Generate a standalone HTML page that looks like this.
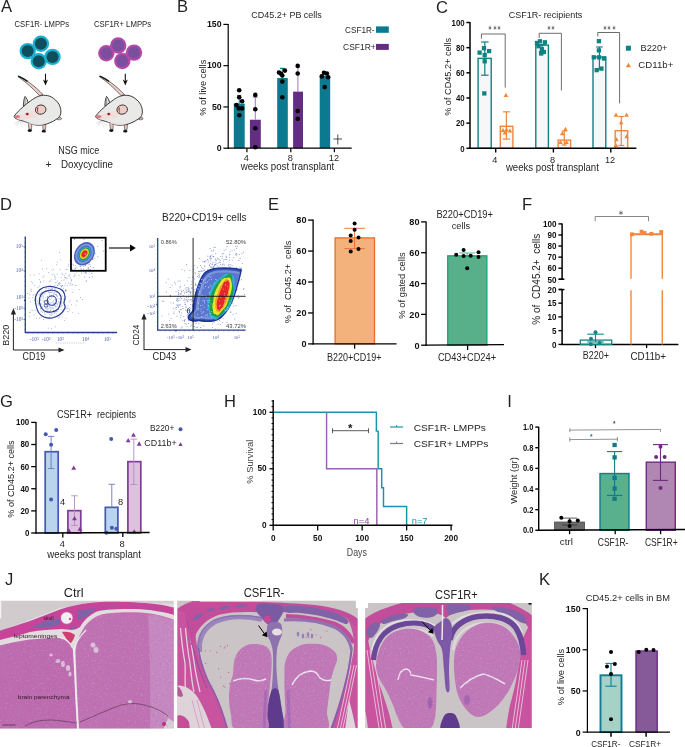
<!DOCTYPE html><html><head><meta charset="utf-8"><style>html,body{margin:0;padding:0;background:#fff;overflow:hidden}svg{display:block}</style></head><body><svg width="685" height="747" viewBox="0 0 685 747" font-family="'Liberation Sans', Arial, sans-serif"><rect width="685" height="747" fill="#fff"/><text x="0.9" y="12.0" font-size="16.6" text-anchor="start" fill="#231f20">A</text>
<text x="14.6" y="27.3" font-size="9.37" text-anchor="start" fill="#262626" textLength="54.4" lengthAdjust="spacingAndGlyphs">CSF1R- LMPPs</text>
<text x="93.9" y="27.3" font-size="9.37" text-anchor="start" fill="#262626" textLength="57.3" lengthAdjust="spacingAndGlyphs">CSF1R+ LMPPs</text>
<circle cx="27.70" cy="51.10" r="8.20" fill="#1cb0cf" stroke="none" stroke-width="1"/>
<circle cx="52.50" cy="56.90" r="8.20" fill="#1cb0cf" stroke="none" stroke-width="1"/>
<circle cx="40.90" cy="43.80" r="8.20" fill="#1cb0cf" stroke="none" stroke-width="1"/>
<circle cx="38.70" cy="61.30" r="8.20" fill="#1cb0cf" stroke="none" stroke-width="1"/>
<circle cx="27.70" cy="51.10" r="6.00" fill="#0d4f5c" stroke="none" stroke-width="1"/>
<circle cx="52.50" cy="56.90" r="6.00" fill="#0d4f5c" stroke="none" stroke-width="1"/>
<circle cx="40.90" cy="43.80" r="6.00" fill="#0d4f5c" stroke="none" stroke-width="1"/>
<circle cx="38.70" cy="61.30" r="6.00" fill="#0d4f5c" stroke="none" stroke-width="1"/>
<circle cx="106.30" cy="53.30" r="8.20" fill="#b24aa8" stroke="none" stroke-width="1"/>
<circle cx="134.00" cy="52.60" r="8.20" fill="#b24aa8" stroke="none" stroke-width="1"/>
<circle cx="118.20" cy="45.50" r="8.20" fill="#b24aa8" stroke="none" stroke-width="1"/>
<circle cx="122.30" cy="61.00" r="8.20" fill="#b24aa8" stroke="none" stroke-width="1"/>
<circle cx="106.30" cy="53.30" r="6.00" fill="#7b4e9e" stroke="none" stroke-width="1"/>
<circle cx="134.00" cy="52.60" r="6.00" fill="#7b4e9e" stroke="none" stroke-width="1"/>
<circle cx="118.20" cy="45.50" r="6.00" fill="#7b4e9e" stroke="none" stroke-width="1"/>
<circle cx="122.30" cy="61.00" r="6.00" fill="#7b4e9e" stroke="none" stroke-width="1"/>
<line x1="45.50" y1="73.70" x2="45.50" y2="83.00" stroke="#111" stroke-width="1.1"/>
<path d="M42.9 79.6 L 45.5 85.6 L 48.1 79.6 L 45.5 81.2 Z" fill="#111" stroke="none" stroke-width="1"/>
<line x1="125.30" y1="73.70" x2="125.30" y2="83.00" stroke="#111" stroke-width="1.1"/>
<path d="M122.7 79.6 L 125.3 85.6 L 127.9 79.6 L 125.3 81.2 Z" fill="#111" stroke="none" stroke-width="1"/>
<g transform="translate(0 0)">
<path d="M18.3 76.0 C 26 79.5, 35 86, 42.9 94.6 L 39.6 95.6 C 33 88.5, 26 82, 18.0 76.6 Z" fill="#f0cdc8" stroke="#1a1a1a" stroke-width="0.6"/>
<path d="M18.2 76.1 C 21.5 77.5, 24.5 79.2, 27.5 81.3" fill="none" stroke="#1a1a1a" stroke-width="1.5"/>
<line x1="19.50" y1="120.50" x2="14.10" y2="123.50" stroke="#c8c8c8" stroke-width="0.5"/>
<line x1="19.50" y1="120.50" x2="15.50" y2="125.50" stroke="#c8c8c8" stroke-width="0.5"/>
<line x1="19.50" y1="120.50" x2="17.40" y2="126.50" stroke="#c8c8c8" stroke-width="0.5"/>
<line x1="19.50" y1="120.50" x2="22.30" y2="126.80" stroke="#c8c8c8" stroke-width="0.5"/>
<line x1="19.50" y1="120.50" x2="26.40" y2="126.30" stroke="#c8c8c8" stroke-width="0.5"/>
<path d="M28.2 122.5 L 29.0 129.3 L 31.6 129.3 L 31.8 122.8 Z" fill="#ecc4c0" stroke="#1a1a1a" stroke-width="0.5"/>
<path d="M42.8 123.5 L 42.9 129.5 L 45.6 129.5 L 46.0 123.3 Z" fill="#ecc4c0" stroke="#1a1a1a" stroke-width="0.5"/>
<ellipse cx="29.8" cy="130.6" rx="2.2" ry="1.3" fill="#111"/>
<ellipse cx="43.8" cy="131.2" rx="2.2" ry="1.3" fill="#111"/>
<path d="M57.8 117.2 C 60 116.8, 61.6 117.5, 61.5 119 C 60.2 120, 58.7 120, 57.3 119.4 Z" fill="#e6b6b0" stroke="#1a1a1a" stroke-width="0.5"/>
<path d="M23.3 105.6 C 23.6 101, 24.2 98, 25.1 96.4 C 26.6 98, 28 101, 28.6 104.4 Z" fill="#dcdcda" stroke="#1a1a1a" stroke-width="0.8"/>
<path d="M25.2 98.2 C 24.8 100.5, 24.8 102.5, 25.5 104.5" fill="none" stroke="#777" stroke-width="0.7"/>
<path d="M14.1 116.2 C 17 112.5, 20 109.5, 22.3 107.6 C 25 105, 27.5 103, 30.4 101 C 33 99, 35.5 97.5, 37.8 96.5 C 40.5 95.5, 43 95.2, 45.2 95.3 C 48.5 95.5, 51 96.5, 53.3 98.2 C 56.5 100.5, 59 103.5, 59.9 106.4 C 60.9 109, 61.1 111.5, 60.7 113.7 C 60.2 116, 59 117.6, 57.4 118.6 C 55 120.5, 52 122, 49.2 123.1 C 45.5 124.5, 42 125.2, 38.6 125.2 C 35 125.2, 31.8 124.4, 28.8 123.1 C 25.8 122, 23 121.2, 20.6 120.3 C 18.2 119.6, 16 118.8, 14.9 117.8 C 14.3 117.3, 14.0 116.8, 14.1 116.2 Z" fill="#e9e9e7" stroke="#1a1a1a" stroke-width="0.85"/>
<path d="M21 120.6 C 28 123.6, 38 125, 48 123 C 44 124.8, 40 125.1, 37 125.1 C 30 124.8, 25 122.8, 21 120.6 Z" fill="#e6d5d2" stroke="none" stroke-width="1"/>
<path d="M15.5 117.6 C 20 114.3, 27 112, 35 110.8 C 38 111.5, 38.5 114, 37 116.5 C 31 119, 24 120, 18 119.5 Z" fill="#f1dedb" stroke="none" stroke-width="1"/>
<ellipse cx="40.7" cy="109.6" rx="5.3" ry="4.6" fill="#ecccc4" stroke="#1a1a1a" stroke-width="0.8" transform="rotate(-10 40.7 109.6)"/>
<path d="M37.2 107.6 C 36.5 109.5, 37 111.8, 38.6 113.2 C 37.8 111.2, 37.8 109.3, 38.6 107.8 Z" fill="#b8303e" stroke="none" stroke-width="1"/>
<ellipse cx="27.2" cy="114.1" rx="2.0" ry="1.5" fill="#e8a0a8"/>
<ellipse cx="27.3" cy="114.1" rx="1.3" ry="1.05" fill="#861424"/>
<ellipse cx="17.3" cy="116.6" rx="2.8" ry="1.7" fill="#e07b89"/>
</g>
<g transform="translate(81.5 0)">
<path d="M18.3 76.0 C 26 79.5, 35 86, 42.9 94.6 L 39.6 95.6 C 33 88.5, 26 82, 18.0 76.6 Z" fill="#f0cdc8" stroke="#1a1a1a" stroke-width="0.6"/>
<path d="M18.2 76.1 C 21.5 77.5, 24.5 79.2, 27.5 81.3" fill="none" stroke="#1a1a1a" stroke-width="1.5"/>
<line x1="19.50" y1="120.50" x2="14.10" y2="123.50" stroke="#c8c8c8" stroke-width="0.5"/>
<line x1="19.50" y1="120.50" x2="15.50" y2="125.50" stroke="#c8c8c8" stroke-width="0.5"/>
<line x1="19.50" y1="120.50" x2="17.40" y2="126.50" stroke="#c8c8c8" stroke-width="0.5"/>
<line x1="19.50" y1="120.50" x2="22.30" y2="126.80" stroke="#c8c8c8" stroke-width="0.5"/>
<line x1="19.50" y1="120.50" x2="26.40" y2="126.30" stroke="#c8c8c8" stroke-width="0.5"/>
<path d="M28.2 122.5 L 29.0 129.3 L 31.6 129.3 L 31.8 122.8 Z" fill="#ecc4c0" stroke="#1a1a1a" stroke-width="0.5"/>
<path d="M42.8 123.5 L 42.9 129.5 L 45.6 129.5 L 46.0 123.3 Z" fill="#ecc4c0" stroke="#1a1a1a" stroke-width="0.5"/>
<ellipse cx="29.8" cy="130.6" rx="2.2" ry="1.3" fill="#111"/>
<ellipse cx="43.8" cy="131.2" rx="2.2" ry="1.3" fill="#111"/>
<path d="M57.8 117.2 C 60 116.8, 61.6 117.5, 61.5 119 C 60.2 120, 58.7 120, 57.3 119.4 Z" fill="#e6b6b0" stroke="#1a1a1a" stroke-width="0.5"/>
<path d="M23.3 105.6 C 23.6 101, 24.2 98, 25.1 96.4 C 26.6 98, 28 101, 28.6 104.4 Z" fill="#dcdcda" stroke="#1a1a1a" stroke-width="0.8"/>
<path d="M25.2 98.2 C 24.8 100.5, 24.8 102.5, 25.5 104.5" fill="none" stroke="#777" stroke-width="0.7"/>
<path d="M14.1 116.2 C 17 112.5, 20 109.5, 22.3 107.6 C 25 105, 27.5 103, 30.4 101 C 33 99, 35.5 97.5, 37.8 96.5 C 40.5 95.5, 43 95.2, 45.2 95.3 C 48.5 95.5, 51 96.5, 53.3 98.2 C 56.5 100.5, 59 103.5, 59.9 106.4 C 60.9 109, 61.1 111.5, 60.7 113.7 C 60.2 116, 59 117.6, 57.4 118.6 C 55 120.5, 52 122, 49.2 123.1 C 45.5 124.5, 42 125.2, 38.6 125.2 C 35 125.2, 31.8 124.4, 28.8 123.1 C 25.8 122, 23 121.2, 20.6 120.3 C 18.2 119.6, 16 118.8, 14.9 117.8 C 14.3 117.3, 14.0 116.8, 14.1 116.2 Z" fill="#e9e9e7" stroke="#1a1a1a" stroke-width="0.85"/>
<path d="M21 120.6 C 28 123.6, 38 125, 48 123 C 44 124.8, 40 125.1, 37 125.1 C 30 124.8, 25 122.8, 21 120.6 Z" fill="#e6d5d2" stroke="none" stroke-width="1"/>
<path d="M15.5 117.6 C 20 114.3, 27 112, 35 110.8 C 38 111.5, 38.5 114, 37 116.5 C 31 119, 24 120, 18 119.5 Z" fill="#f1dedb" stroke="none" stroke-width="1"/>
<ellipse cx="40.7" cy="109.6" rx="5.3" ry="4.6" fill="#ecccc4" stroke="#1a1a1a" stroke-width="0.8" transform="rotate(-10 40.7 109.6)"/>
<path d="M37.2 107.6 C 36.5 109.5, 37 111.8, 38.6 113.2 C 37.8 111.2, 37.8 109.3, 38.6 107.8 Z" fill="#b8303e" stroke="none" stroke-width="1"/>
<ellipse cx="27.2" cy="114.1" rx="2.0" ry="1.5" fill="#e8a0a8"/>
<ellipse cx="27.3" cy="114.1" rx="1.3" ry="1.05" fill="#861424"/>
<ellipse cx="17.3" cy="116.6" rx="2.8" ry="1.7" fill="#e07b89"/>
</g>
<text x="58.3" y="153.5" font-size="10.68" text-anchor="start" fill="#262626" textLength="41" lengthAdjust="spacingAndGlyphs">NSG mice</text>
<text x="45.6" y="168.3" font-size="10.5" text-anchor="start" fill="#262626">+</text>
<text x="61" y="168" font-size="10.68" text-anchor="start" fill="#262626" textLength="52" lengthAdjust="spacingAndGlyphs">Doxycycline</text>
<text x="176.9" y="12.0" font-size="16.6" text-anchor="start" fill="#231f20">B</text>
<text x="251.3" y="17.5" font-size="9.59" text-anchor="start" fill="#262626" textLength="70.5" lengthAdjust="spacingAndGlyphs">CD45.2+ PB cells</text>
<rect x="233.80" y="103.63" width="10.90" height="44.57" fill="#0b7a8f" stroke="none" stroke-width="1"/>
<rect x="249.90" y="119.73" width="10.90" height="28.47" fill="#642d84" stroke="none" stroke-width="1"/>
<rect x="277.20" y="78.05" width="10.60" height="70.15" fill="#0b7a8f" stroke="none" stroke-width="1"/>
<rect x="293.10" y="91.66" width="9.90" height="56.54" fill="#642d84" stroke="none" stroke-width="1"/>
<rect x="319.70" y="75.57" width="10.50" height="72.63" fill="#0b7a8f" stroke="none" stroke-width="1"/>
<line x1="239.20" y1="95.40" x2="239.20" y2="104.20" stroke="#0b7a8f" stroke-width="1"/>
<line x1="237.20" y1="95.40" x2="241.20" y2="95.40" stroke="#0b7a8f" stroke-width="1"/>
<line x1="255.30" y1="97.20" x2="255.30" y2="119.70" stroke="#9d7ab8" stroke-width="1"/>
<line x1="252.80" y1="97.20" x2="257.90" y2="97.20" stroke="#9d7ab8" stroke-width="1"/>
<line x1="282.30" y1="68.40" x2="282.30" y2="78.20" stroke="#0b7a8f" stroke-width="1"/>
<line x1="280.00" y1="68.40" x2="284.60" y2="68.40" stroke="#0b7a8f" stroke-width="1.2"/>
<line x1="297.90" y1="65.90" x2="297.90" y2="92.00" stroke="#9d7ab8" stroke-width="1"/>
<circle cx="239.20" cy="90.20" r="2.30" fill="#000" stroke="none" stroke-width="1"/>
<circle cx="239.20" cy="97.20" r="2.30" fill="#000" stroke="none" stroke-width="1"/>
<circle cx="242.10" cy="101.30" r="2.30" fill="#000" stroke="none" stroke-width="1"/>
<circle cx="236.40" cy="105.10" r="2.30" fill="#000" stroke="none" stroke-width="1"/>
<circle cx="238.90" cy="108.40" r="2.30" fill="#000" stroke="none" stroke-width="1"/>
<circle cx="242.10" cy="108.40" r="2.30" fill="#000" stroke="none" stroke-width="1"/>
<circle cx="239.30" cy="115.30" r="2.30" fill="#000" stroke="none" stroke-width="1"/>
<circle cx="255.30" cy="94.90" r="2.30" fill="#000" stroke="none" stroke-width="1"/>
<circle cx="255.30" cy="109.20" r="2.30" fill="#000" stroke="none" stroke-width="1"/>
<circle cx="255.30" cy="128.20" r="2.30" fill="#000" stroke="none" stroke-width="1"/>
<circle cx="255.30" cy="147.20" r="2.30" fill="#000" stroke="none" stroke-width="1"/>
<circle cx="279.00" cy="72.50" r="2.30" fill="#000" stroke="none" stroke-width="1"/>
<circle cx="281.00" cy="73.80" r="2.30" fill="#000" stroke="none" stroke-width="1"/>
<circle cx="284.90" cy="70.60" r="2.30" fill="#000" stroke="none" stroke-width="1"/>
<circle cx="282.30" cy="75.50" r="2.30" fill="#000" stroke="none" stroke-width="1"/>
<circle cx="282.30" cy="81.60" r="2.30" fill="#000" stroke="none" stroke-width="1"/>
<circle cx="282.30" cy="97.30" r="2.30" fill="#000" stroke="none" stroke-width="1"/>
<circle cx="297.70" cy="65.90" r="2.30" fill="#000" stroke="none" stroke-width="1"/>
<circle cx="297.70" cy="73.50" r="2.30" fill="#000" stroke="none" stroke-width="1"/>
<circle cx="297.70" cy="111.00" r="2.30" fill="#000" stroke="none" stroke-width="1"/>
<circle cx="297.70" cy="118.70" r="2.30" fill="#000" stroke="none" stroke-width="1"/>
<circle cx="321.80" cy="76.40" r="2.30" fill="#000" stroke="none" stroke-width="1"/>
<circle cx="324.00" cy="72.80" r="2.30" fill="#000" stroke="none" stroke-width="1"/>
<circle cx="326.90" cy="73.50" r="2.30" fill="#000" stroke="none" stroke-width="1"/>
<circle cx="328.10" cy="77.20" r="2.30" fill="#000" stroke="none" stroke-width="1"/>
<circle cx="324.70" cy="87.10" r="2.30" fill="#000" stroke="none" stroke-width="1"/>
<line x1="228.20" y1="23.90" x2="228.20" y2="148.80" stroke="#000" stroke-width="1.2"/>
<line x1="223.40" y1="24.40" x2="228.20" y2="24.40" stroke="#000" stroke-width="1.2"/>
<text x="221.59999999999997" y="27.155999999999977" font-size="9.6" text-anchor="end" fill="#111" font-weight="bold" textLength="14.57" lengthAdjust="spacingAndGlyphs">150</text>
<line x1="223.40" y1="65.67" x2="228.20" y2="65.67" stroke="#000" stroke-width="1.2"/>
<text x="221.59999999999997" y="68.42266666666666" font-size="9.6" text-anchor="end" fill="#111" font-weight="bold" textLength="14.57" lengthAdjust="spacingAndGlyphs">100</text>
<line x1="223.40" y1="106.93" x2="228.20" y2="106.93" stroke="#000" stroke-width="1.2"/>
<text x="221.59999999999997" y="109.68933333333332" font-size="9.6" text-anchor="end" fill="#111" font-weight="bold" textLength="9.71" lengthAdjust="spacingAndGlyphs">50</text>
<line x1="223.40" y1="148.20" x2="228.20" y2="148.20" stroke="#000" stroke-width="1.2"/>
<text x="221.59999999999997" y="150.956" font-size="9.6" text-anchor="end" fill="#111" font-weight="bold" textLength="4.86" lengthAdjust="spacingAndGlyphs">0</text>
<line x1="227.60" y1="148.20" x2="351.70" y2="148.20" stroke="#000" stroke-width="1.3"/>
<line x1="246.90" y1="148.20" x2="246.90" y2="152.30" stroke="#000" stroke-width="1.2"/>
<text x="246.4" y="160.6" font-size="9.2" text-anchor="middle" fill="#262626">4</text>
<line x1="290.80" y1="148.20" x2="290.80" y2="152.30" stroke="#000" stroke-width="1.2"/>
<text x="290.3" y="160.6" font-size="9.2" text-anchor="middle" fill="#262626">8</text>
<line x1="334.40" y1="148.20" x2="334.40" y2="152.30" stroke="#000" stroke-width="1.2"/>
<text x="333.9" y="160.6" font-size="9.2" text-anchor="middle" fill="#262626">12</text>
<text x="287.5" y="170.3" font-size="10.08" text-anchor="middle" fill="#262626" textLength="93.5" lengthAdjust="spacingAndGlyphs">weeks post transplant</text>
<line x1="337.80" y1="134.50" x2="337.80" y2="144.50" stroke="#222" stroke-width="0.8"/>
<line x1="333.50" y1="139.00" x2="342.00" y2="139.00" stroke="#222" stroke-width="0.8"/>
<text x="205.9" y="87.7" font-size="9.77" text-anchor="middle" fill="#262626" textLength="56" lengthAdjust="spacingAndGlyphs" transform="rotate(-90 205.9 87.7)">% of live cells</text>
<text x="345" y="33.2" font-size="9.7" text-anchor="start" fill="#262626" textLength="29.6" lengthAdjust="spacingAndGlyphs">CSF1R-</text>
<rect x="376.00" y="26.40" width="12.80" height="6.40" fill="#0b7a8f" stroke="none" stroke-width="1"/>
<text x="343.1" y="49.7" font-size="9.7" text-anchor="start" fill="#262626" textLength="32.6" lengthAdjust="spacingAndGlyphs">CSF1R+</text>
<rect x="376.00" y="43.90" width="12.80" height="6.00" fill="#642d84" stroke="none" stroke-width="1"/>
<text x="435.9" y="12.5" font-size="16.6" text-anchor="start" fill="#231f20">C</text>
<text x="508.8" y="17.5" font-size="9.92" text-anchor="start" fill="#262626" textLength="73.5" lengthAdjust="spacingAndGlyphs">CSF1R- recipients</text>
<rect x="478.10" y="58.35" width="13.10" height="89.95" fill="#f7f7f7" stroke="#0f8282" stroke-width="1.4"/>
<rect x="535.80" y="45.14" width="12.60" height="103.16" fill="#f7f7f7" stroke="#0f8282" stroke-width="1.4"/>
<rect x="593.00" y="57.10" width="12.80" height="91.20" fill="#f7f7f7" stroke="#0f8282" stroke-width="1.4"/>
<rect x="500.30" y="126.29" width="12.60" height="22.02" fill="#f7f7f7" stroke="#f0863c" stroke-width="1.4"/>
<rect x="558.10" y="140.12" width="12.50" height="8.18" fill="#f7f7f7" stroke="#f0863c" stroke-width="1.4"/>
<rect x="615.20" y="130.69" width="12.50" height="17.61" fill="#f7f7f7" stroke="#f0863c" stroke-width="1.4"/>
<line x1="484.80" y1="42.00" x2="484.80" y2="75.20" stroke="#0f8282" stroke-width="1.2"/>
<line x1="481.05" y1="42.00" x2="488.55" y2="42.00" stroke="#0f8282" stroke-width="1.2"/>
<line x1="481.05" y1="75.20" x2="488.55" y2="75.20" stroke="#0f8282" stroke-width="1.2"/>
<line x1="542.10" y1="44.60" x2="542.10" y2="51.50" stroke="#0f8282" stroke-width="1.2"/>
<line x1="538.85" y1="44.60" x2="545.35" y2="44.60" stroke="#0f8282" stroke-width="1.2"/>
<line x1="538.85" y1="51.50" x2="545.35" y2="51.50" stroke="#0f8282" stroke-width="1.2"/>
<line x1="599.40" y1="47.00" x2="599.40" y2="69.00" stroke="#0f8282" stroke-width="1.2"/>
<line x1="596.15" y1="47.00" x2="602.65" y2="47.00" stroke="#0f8282" stroke-width="1.2"/>
<line x1="596.15" y1="69.00" x2="602.65" y2="69.00" stroke="#0f8282" stroke-width="1.2"/>
<line x1="506.40" y1="111.80" x2="506.40" y2="139.10" stroke="#f0863c" stroke-width="1.2"/>
<line x1="502.90" y1="111.80" x2="509.90" y2="111.80" stroke="#f0863c" stroke-width="1.2"/>
<line x1="502.90" y1="139.10" x2="509.90" y2="139.10" stroke="#f0863c" stroke-width="1.2"/>
<line x1="564.30" y1="131.00" x2="564.30" y2="145.00" stroke="#f0863c" stroke-width="1.2"/>
<line x1="561.80" y1="131.00" x2="566.80" y2="131.00" stroke="#f0863c" stroke-width="1.2"/>
<line x1="561.80" y1="145.00" x2="566.80" y2="145.00" stroke="#f0863c" stroke-width="1.2"/>
<line x1="621.30" y1="116.50" x2="621.30" y2="145.50" stroke="#f0863c" stroke-width="1.2"/>
<line x1="618.30" y1="116.50" x2="624.30" y2="116.50" stroke="#f0863c" stroke-width="1.2"/>
<line x1="618.30" y1="145.50" x2="624.30" y2="145.50" stroke="#f0863c" stroke-width="1.2"/>
<rect x="477.45" y="50.45" width="4.30" height="4.30" fill="#0f8282" stroke="none" stroke-width="1"/>
<rect x="481.85" y="46.05" width="4.30" height="4.30" fill="#0f8282" stroke="none" stroke-width="1"/>
<rect x="486.95" y="48.95" width="4.30" height="4.30" fill="#0f8282" stroke="none" stroke-width="1"/>
<rect x="482.55" y="52.85" width="4.30" height="4.30" fill="#0f8282" stroke="none" stroke-width="1"/>
<rect x="482.55" y="59.15" width="4.30" height="4.30" fill="#0f8282" stroke="none" stroke-width="1"/>
<rect x="482.15" y="91.25" width="4.30" height="4.30" fill="#0f8282" stroke="none" stroke-width="1"/>
<rect x="534.85" y="40.85" width="4.30" height="4.30" fill="#0f8282" stroke="none" stroke-width="1"/>
<rect x="537.75" y="39.15" width="4.30" height="4.30" fill="#0f8282" stroke="none" stroke-width="1"/>
<rect x="542.75" y="40.15" width="4.30" height="4.30" fill="#0f8282" stroke="none" stroke-width="1"/>
<rect x="536.45" y="44.05" width="4.30" height="4.30" fill="#0f8282" stroke="none" stroke-width="1"/>
<rect x="539.75" y="46.95" width="4.30" height="4.30" fill="#0f8282" stroke="none" stroke-width="1"/>
<rect x="539.05" y="51.35" width="4.30" height="4.30" fill="#0f8282" stroke="none" stroke-width="1"/>
<rect x="541.65" y="49.85" width="4.30" height="4.30" fill="#0f8282" stroke="none" stroke-width="1"/>
<rect x="596.75" y="39.05" width="4.30" height="4.30" fill="#0f8282" stroke="none" stroke-width="1"/>
<rect x="596.75" y="48.25" width="4.30" height="4.30" fill="#0f8282" stroke="none" stroke-width="1"/>
<rect x="591.65" y="55.15" width="4.30" height="4.30" fill="#0f8282" stroke="none" stroke-width="1"/>
<rect x="601.85" y="56.35" width="4.30" height="4.30" fill="#0f8282" stroke="none" stroke-width="1"/>
<rect x="594.55" y="67.95" width="4.30" height="4.30" fill="#0f8282" stroke="none" stroke-width="1"/>
<rect x="599.25" y="66.45" width="4.30" height="4.30" fill="#0f8282" stroke="none" stroke-width="1"/>
<rect x="596.85" y="55.15" width="4.30" height="4.30" fill="#0f8282" stroke="none" stroke-width="1"/>
<polygon points="503.60,96.97 508.20,96.97 505.90,92.83" fill="#f0863c"/>
<polygon points="500.70,132.07 505.30,132.07 503.00,127.93" fill="#f0863c"/>
<polygon points="504.20,131.57 508.80,131.57 506.50,127.43" fill="#f0863c"/>
<polygon points="507.70,132.57 512.30,132.57 510.00,128.43" fill="#f0863c"/>
<polygon points="502.70,134.57 507.30,134.57 505.00,130.43" fill="#f0863c"/>
<polygon points="563.20,130.97 567.80,130.97 565.50,126.83" fill="#f0863c"/>
<polygon points="560.00,135.37 564.60,135.37 562.30,131.23" fill="#f0863c"/>
<polygon points="558.20,144.07 562.80,144.07 560.50,139.93" fill="#f0863c"/>
<polygon points="564.20,144.07 568.80,144.07 566.50,139.93" fill="#f0863c"/>
<polygon points="613.70,116.67 618.30,116.67 616.00,112.53" fill="#f0863c"/>
<polygon points="624.30,116.67 628.90,116.67 626.60,112.53" fill="#f0863c"/>
<polygon points="618.90,124.37 623.50,124.37 621.20,120.23" fill="#f0863c"/>
<polygon points="614.10,141.17 618.70,141.17 616.40,137.03" fill="#f0863c"/>
<polygon points="624.30,138.27 628.90,138.27 626.60,134.13" fill="#f0863c"/>
<polygon points="613.70,147.07 618.30,147.07 616.00,142.93" fill="#f0863c"/>
<path d="M481.4 38.7 L 481.4 34.0 L 505.2 34.0 L 505.2 87.6" fill="none" stroke="#3c3c3c" stroke-width="0.75"/>
<text x="494.59999999999997" y="30.4" font-size="6.6" text-anchor="middle" fill="#444" textLength="12.299999999999999" lengthAdjust="spacingAndGlyphs">&#8727;&#8727;&#8727;</text>
<path d="M539.2 38.0 L 539.2 33.3 L 561.4 33.3 L 561.4 90.5" fill="none" stroke="#3c3c3c" stroke-width="0.75"/>
<text x="551.0" y="30.4" font-size="6.6" text-anchor="middle" fill="#444" textLength="8.2" lengthAdjust="spacingAndGlyphs">&#8727;&#8727;</text>
<path d="M597.8 36.5 L 597.8 32.5 L 619.6 32.5 L 619.6 103.4" fill="none" stroke="#3c3c3c" stroke-width="0.75"/>
<text x="609.5" y="30.4" font-size="6.6" text-anchor="middle" fill="#444" textLength="12.299999999999999" lengthAdjust="spacingAndGlyphs">&#8727;&#8727;&#8727;</text>
<line x1="470.00" y1="22.00" x2="470.00" y2="148.90" stroke="#000" stroke-width="1.5"/>
<line x1="466.40" y1="22.50" x2="470.00" y2="22.50" stroke="#000" stroke-width="1.5"/>
<text x="464.59999999999997" y="25.704000000000015" font-size="8.9" text-anchor="end" fill="#111" font-weight="bold" textLength="13.06" lengthAdjust="spacingAndGlyphs">100</text>
<line x1="466.40" y1="47.66" x2="470.00" y2="47.66" stroke="#000" stroke-width="1.5"/>
<text x="464.59999999999997" y="50.86400000000001" font-size="8.9" text-anchor="end" fill="#111" font-weight="bold" textLength="8.71" lengthAdjust="spacingAndGlyphs">80</text>
<line x1="466.40" y1="72.82" x2="470.00" y2="72.82" stroke="#000" stroke-width="1.5"/>
<text x="464.59999999999997" y="76.024" font-size="8.9" text-anchor="end" fill="#111" font-weight="bold" textLength="8.71" lengthAdjust="spacingAndGlyphs">60</text>
<line x1="466.40" y1="97.98" x2="470.00" y2="97.98" stroke="#000" stroke-width="1.5"/>
<text x="464.59999999999997" y="101.18400000000001" font-size="8.9" text-anchor="end" fill="#111" font-weight="bold" textLength="8.71" lengthAdjust="spacingAndGlyphs">40</text>
<line x1="466.40" y1="123.14" x2="470.00" y2="123.14" stroke="#000" stroke-width="1.5"/>
<text x="464.59999999999997" y="126.34400000000001" font-size="8.9" text-anchor="end" fill="#111" font-weight="bold" textLength="8.71" lengthAdjust="spacingAndGlyphs">20</text>
<line x1="466.40" y1="148.30" x2="470.00" y2="148.30" stroke="#000" stroke-width="1.5"/>
<text x="464.59999999999997" y="151.50400000000002" font-size="8.9" text-anchor="end" fill="#111" font-weight="bold" textLength="4.35" lengthAdjust="spacingAndGlyphs">0</text>
<line x1="469.30" y1="148.30" x2="636.40" y2="148.30" stroke="#000" stroke-width="1.5"/>
<line x1="495.70" y1="148.30" x2="495.70" y2="152.50" stroke="#000" stroke-width="1.4"/>
<text x="494.9" y="162.8" font-size="9.2" text-anchor="middle" fill="#262626">4</text>
<line x1="553.40" y1="148.30" x2="553.40" y2="152.50" stroke="#000" stroke-width="1.4"/>
<text x="552.6" y="162.8" font-size="9.2" text-anchor="middle" fill="#262626">8</text>
<line x1="610.80" y1="148.30" x2="610.80" y2="152.50" stroke="#000" stroke-width="1.4"/>
<text x="610.0" y="162.8" font-size="9.2" text-anchor="middle" fill="#262626">12</text>
<text x="552.4" y="171.2" font-size="10.08" text-anchor="middle" fill="#262626" textLength="93" lengthAdjust="spacingAndGlyphs">weeks post transplant</text>
<text x="450.59999999999997" y="76.8" font-size="9.77" text-anchor="middle" fill="#262626" textLength="78" lengthAdjust="spacingAndGlyphs" transform="rotate(-90 450.59999999999997 76.8)">% of CD45.2+ cells</text>
<rect x="625.90" y="45.70" width="5.00" height="5.00" fill="#0f8282" stroke="none" stroke-width="1"/>
<polygon points="625.80,67.34 631.00,67.34 628.40,62.66" fill="#f0863c"/>
<text x="640.5" y="51.2" font-size="9.81" text-anchor="start" fill="#262626" textLength="27" lengthAdjust="spacingAndGlyphs">B220+</text>
<text x="638.3" y="68.0" font-size="9.81" text-anchor="start" fill="#262626" textLength="35" lengthAdjust="spacingAndGlyphs">CD11b+</text>
<text x="0.1" y="209.9" font-size="16.6" text-anchor="start" fill="#231f20">D</text>
<line x1="25.30" y1="236.40" x2="25.30" y2="332.80" stroke="#2b3f8f" stroke-width="1.3"/>
<line x1="24.80" y1="332.50" x2="117.10" y2="332.50" stroke="#2b3f8f" stroke-width="1.3"/>
<line x1="24.30" y1="238.00" x2="25.30" y2="238.00" stroke="#2b3f8f" stroke-width="0.4"/>
<line x1="24.30" y1="242.80" x2="25.30" y2="242.80" stroke="#2b3f8f" stroke-width="0.4"/>
<line x1="24.30" y1="247.60" x2="25.30" y2="247.60" stroke="#2b3f8f" stroke-width="0.4"/>
<line x1="24.30" y1="252.40" x2="25.30" y2="252.40" stroke="#2b3f8f" stroke-width="0.4"/>
<line x1="24.30" y1="257.20" x2="25.30" y2="257.20" stroke="#2b3f8f" stroke-width="0.4"/>
<line x1="24.30" y1="262.00" x2="25.30" y2="262.00" stroke="#2b3f8f" stroke-width="0.4"/>
<line x1="24.30" y1="266.80" x2="25.30" y2="266.80" stroke="#2b3f8f" stroke-width="0.4"/>
<line x1="24.30" y1="271.60" x2="25.30" y2="271.60" stroke="#2b3f8f" stroke-width="0.4"/>
<line x1="24.30" y1="276.40" x2="25.30" y2="276.40" stroke="#2b3f8f" stroke-width="0.4"/>
<line x1="24.30" y1="281.20" x2="25.30" y2="281.20" stroke="#2b3f8f" stroke-width="0.4"/>
<line x1="24.30" y1="286.00" x2="25.30" y2="286.00" stroke="#2b3f8f" stroke-width="0.4"/>
<line x1="24.30" y1="290.80" x2="25.30" y2="290.80" stroke="#2b3f8f" stroke-width="0.4"/>
<line x1="24.30" y1="295.60" x2="25.30" y2="295.60" stroke="#2b3f8f" stroke-width="0.4"/>
<line x1="24.30" y1="300.40" x2="25.30" y2="300.40" stroke="#2b3f8f" stroke-width="0.4"/>
<line x1="24.30" y1="305.20" x2="25.30" y2="305.20" stroke="#2b3f8f" stroke-width="0.4"/>
<line x1="24.30" y1="310.00" x2="25.30" y2="310.00" stroke="#2b3f8f" stroke-width="0.4"/>
<line x1="24.30" y1="314.80" x2="25.30" y2="314.80" stroke="#2b3f8f" stroke-width="0.4"/>
<line x1="24.30" y1="319.60" x2="25.30" y2="319.60" stroke="#2b3f8f" stroke-width="0.4"/>
<line x1="24.30" y1="324.40" x2="25.30" y2="324.40" stroke="#2b3f8f" stroke-width="0.4"/>
<line x1="24.30" y1="329.20" x2="25.30" y2="329.20" stroke="#2b3f8f" stroke-width="0.4"/>
<line x1="28.00" y1="332.50" x2="28.00" y2="333.60" stroke="#2b3f8f" stroke-width="0.5"/>
<line x1="33.00" y1="332.50" x2="33.00" y2="333.60" stroke="#2b3f8f" stroke-width="0.5"/>
<line x1="38.00" y1="332.50" x2="38.00" y2="333.60" stroke="#2b3f8f" stroke-width="0.5"/>
<line x1="43.00" y1="332.50" x2="43.00" y2="333.60" stroke="#2b3f8f" stroke-width="0.5"/>
<line x1="48.00" y1="332.50" x2="48.00" y2="333.60" stroke="#2b3f8f" stroke-width="0.5"/>
<line x1="53.00" y1="332.50" x2="53.00" y2="333.60" stroke="#2b3f8f" stroke-width="0.5"/>
<line x1="58.00" y1="332.50" x2="58.00" y2="333.60" stroke="#2b3f8f" stroke-width="0.5"/>
<line x1="63.00" y1="332.50" x2="63.00" y2="333.60" stroke="#2b3f8f" stroke-width="0.5"/>
<line x1="68.00" y1="332.50" x2="68.00" y2="333.60" stroke="#2b3f8f" stroke-width="0.5"/>
<line x1="73.00" y1="332.50" x2="73.00" y2="333.60" stroke="#2b3f8f" stroke-width="0.5"/>
<line x1="78.00" y1="332.50" x2="78.00" y2="333.60" stroke="#2b3f8f" stroke-width="0.5"/>
<line x1="83.00" y1="332.50" x2="83.00" y2="333.60" stroke="#2b3f8f" stroke-width="0.5"/>
<line x1="88.00" y1="332.50" x2="88.00" y2="333.60" stroke="#2b3f8f" stroke-width="0.5"/>
<line x1="93.00" y1="332.50" x2="93.00" y2="333.60" stroke="#2b3f8f" stroke-width="0.5"/>
<line x1="98.00" y1="332.50" x2="98.00" y2="333.60" stroke="#2b3f8f" stroke-width="0.5"/>
<line x1="103.00" y1="332.50" x2="103.00" y2="333.60" stroke="#2b3f8f" stroke-width="0.5"/>
<line x1="108.00" y1="332.50" x2="108.00" y2="333.60" stroke="#2b3f8f" stroke-width="0.5"/>
<line x1="113.00" y1="332.50" x2="113.00" y2="333.60" stroke="#2b3f8f" stroke-width="0.5"/>
<line x1="23.40" y1="246.70" x2="25.30" y2="246.70" stroke="#2b3f8f" stroke-width="0.6"/>
<line x1="23.40" y1="270.80" x2="25.30" y2="270.80" stroke="#2b3f8f" stroke-width="0.6"/>
<line x1="23.40" y1="297.10" x2="25.30" y2="297.10" stroke="#2b3f8f" stroke-width="0.6"/>
<line x1="23.40" y1="308.20" x2="25.30" y2="308.20" stroke="#2b3f8f" stroke-width="0.6"/>
<line x1="23.40" y1="319.60" x2="25.30" y2="319.60" stroke="#2b3f8f" stroke-width="0.6"/>
<circle cx="24.80" cy="300.30" r="0.90" fill="#2b3f8f" stroke="none" stroke-width="1"/>
<text x="22.9" y="248.29999999999998" font-size="5.3" text-anchor="end" fill="#4d5cab" font-family="'Liberation Serif', serif">10⁵</text>
<text x="22.9" y="272.40000000000003" font-size="5.3" text-anchor="end" fill="#4d5cab" font-family="'Liberation Serif', serif">10⁴</text>
<text x="22.9" y="298.70000000000005" font-size="5.3" text-anchor="end" fill="#4d5cab" font-family="'Liberation Serif', serif">10³</text>
<text x="22.9" y="309.8" font-size="5.3" text-anchor="end" fill="#4d5cab" font-family="'Liberation Serif', serif">-10²</text>
<text x="22.9" y="321.20000000000005" font-size="5.3" text-anchor="end" fill="#4d5cab" font-family="'Liberation Serif', serif">-10³</text>
<text x="34.2" y="341.4" font-size="5.3" text-anchor="middle" fill="#4d5cab" font-family="'Liberation Serif', serif">-10³</text>
<text x="46.2" y="341.4" font-size="5.3" text-anchor="middle" fill="#4d5cab" font-family="'Liberation Serif', serif">-10²</text>
<text x="60.4" y="341.4" font-size="5.3" text-anchor="middle" fill="#4d5cab" font-family="'Liberation Serif', serif">10³</text>
<text x="85.6" y="341.4" font-size="5.3" text-anchor="middle" fill="#4d5cab" font-family="'Liberation Serif', serif">10⁴</text>
<text x="107.5" y="341.4" font-size="5.3" text-anchor="middle" fill="#4d5cab" font-family="'Liberation Serif', serif">10⁵</text>
<line x1="56.00" y1="343.00" x2="85.40" y2="343.00" stroke="#8a94c8" stroke-width="0.5" stroke-dasharray="1.2 1"/>
<g fill="#4d62bd" opacity="0.6"><rect x="47.3" y="306.4" width="0.84" height="0.84"/><rect x="47.6" y="297.7" width="0.84" height="0.84"/><rect x="40.2" y="298.8" width="0.84" height="0.84"/><rect x="61.7" y="305.5" width="0.84" height="0.84"/><rect x="60.9" y="303.6" width="0.84" height="0.84"/><rect x="54.1" y="302.9" width="0.84" height="0.84"/><rect x="32.5" y="310.0" width="0.84" height="0.84"/><rect x="55.3" y="306.2" width="0.84" height="0.84"/><rect x="32.2" y="282.7" width="0.84" height="0.84"/><rect x="40.7" y="296.1" width="0.84" height="0.84"/><rect x="53.2" y="300.5" width="0.84" height="0.84"/><rect x="55.5" y="294.3" width="0.84" height="0.84"/><rect x="53.2" y="305.1" width="0.84" height="0.84"/><rect x="43.1" y="319.0" width="0.84" height="0.84"/><rect x="55.8" y="313.6" width="0.84" height="0.84"/><rect x="43.5" y="293.2" width="0.84" height="0.84"/><rect x="46.4" y="299.9" width="0.84" height="0.84"/><rect x="56.6" y="303.6" width="0.84" height="0.84"/><rect x="45.3" y="291.0" width="0.84" height="0.84"/><rect x="44.5" y="313.8" width="0.84" height="0.84"/><rect x="41.5" y="303.6" width="0.84" height="0.84"/><rect x="54.5" y="285.4" width="0.84" height="0.84"/><rect x="50.5" y="314.7" width="0.84" height="0.84"/><rect x="28.8" y="297.6" width="0.84" height="0.84"/><rect x="48.9" y="292.4" width="0.84" height="0.84"/><rect x="55.2" y="300.3" width="0.84" height="0.84"/><rect x="34.6" y="309.7" width="0.84" height="0.84"/><rect x="57.0" y="310.9" width="0.84" height="0.84"/><rect x="65.1" y="304.8" width="0.84" height="0.84"/><rect x="51.3" y="287.4" width="0.84" height="0.84"/><rect x="56.5" y="294.6" width="0.84" height="0.84"/><rect x="45.2" y="287.7" width="0.84" height="0.84"/><rect x="39.8" y="295.4" width="0.84" height="0.84"/><rect x="63.5" y="279.7" width="0.84" height="0.84"/><rect x="34.7" y="303.5" width="0.84" height="0.84"/><rect x="65.2" y="307.1" width="0.84" height="0.84"/><rect x="30.1" y="274.6" width="0.84" height="0.84"/><rect x="53.8" y="293.3" width="0.84" height="0.84"/><rect x="38.2" y="311.3" width="0.84" height="0.84"/><rect x="61.6" y="302.7" width="0.84" height="0.84"/><rect x="52.6" y="305.6" width="0.84" height="0.84"/><rect x="66.7" y="307.5" width="0.84" height="0.84"/><rect x="55.4" y="306.8" width="0.84" height="0.84"/><rect x="33.5" y="314.5" width="0.84" height="0.84"/><rect x="60.0" y="306.6" width="0.84" height="0.84"/><rect x="29.3" y="294.3" width="0.84" height="0.84"/><rect x="58.8" y="282.0" width="0.84" height="0.84"/><rect x="48.1" y="311.7" width="0.84" height="0.84"/><rect x="36.2" y="317.9" width="0.84" height="0.84"/><rect x="55.8" y="299.4" width="0.84" height="0.84"/><rect x="53.4" y="307.8" width="0.84" height="0.84"/><rect x="51.3" y="313.0" width="0.84" height="0.84"/><rect x="43.1" y="296.6" width="0.84" height="0.84"/><rect x="60.9" y="301.3" width="0.84" height="0.84"/><rect x="40.8" y="310.9" width="0.84" height="0.84"/><rect x="65.4" y="296.3" width="0.84" height="0.84"/><rect x="35.5" y="299.6" width="0.84" height="0.84"/><rect x="48.4" y="297.9" width="0.84" height="0.84"/><rect x="64.8" y="290.2" width="0.84" height="0.84"/><rect x="63.2" y="287.7" width="0.84" height="0.84"/><rect x="41.7" y="307.6" width="0.84" height="0.84"/><rect x="61.9" y="310.0" width="0.84" height="0.84"/><rect x="53.6" y="302.5" width="0.84" height="0.84"/><rect x="51.6" y="307.0" width="0.84" height="0.84"/><rect x="48.1" y="303.9" width="0.84" height="0.84"/><rect x="56.0" y="301.0" width="0.84" height="0.84"/><rect x="58.0" y="306.9" width="0.84" height="0.84"/><rect x="71.1" y="304.4" width="0.84" height="0.84"/><rect x="45.5" y="297.1" width="0.84" height="0.84"/><rect x="49.9" y="310.7" width="0.84" height="0.84"/><rect x="46.5" y="305.1" width="0.84" height="0.84"/><rect x="69.3" y="274.1" width="0.84" height="0.84"/><rect x="38.2" y="303.6" width="0.84" height="0.84"/><rect x="54.2" y="303.5" width="0.84" height="0.84"/><rect x="45.5" y="307.9" width="0.84" height="0.84"/><rect x="53.0" y="295.5" width="0.84" height="0.84"/><rect x="75.5" y="304.7" width="0.84" height="0.84"/><rect x="44.2" y="300.0" width="0.84" height="0.84"/><rect x="47.6" y="300.3" width="0.84" height="0.84"/><rect x="60.6" y="288.7" width="0.84" height="0.84"/><rect x="49.3" y="311.0" width="0.84" height="0.84"/><rect x="59.0" y="316.7" width="0.84" height="0.84"/><rect x="32.1" y="297.3" width="0.84" height="0.84"/><rect x="46.4" y="307.5" width="0.84" height="0.84"/><rect x="61.5" y="272.8" width="0.84" height="0.84"/><rect x="61.4" y="285.8" width="0.84" height="0.84"/><rect x="57.2" y="285.3" width="0.84" height="0.84"/><rect x="51.8" y="313.5" width="0.84" height="0.84"/><rect x="48.4" y="303.0" width="0.84" height="0.84"/><rect x="58.4" y="302.5" width="0.84" height="0.84"/><rect x="49.1" y="317.1" width="0.84" height="0.84"/><rect x="61.0" y="297.9" width="0.84" height="0.84"/><rect x="78.8" y="289.0" width="0.84" height="0.84"/><rect x="59.6" y="298.2" width="0.84" height="0.84"/><rect x="51.4" y="308.4" width="0.84" height="0.84"/><rect x="52.3" y="307.7" width="0.84" height="0.84"/><rect x="34.0" y="285.2" width="0.84" height="0.84"/><rect x="56.5" y="290.9" width="0.84" height="0.84"/><rect x="39.2" y="285.6" width="0.84" height="0.84"/><rect x="63.3" y="308.8" width="0.84" height="0.84"/><rect x="65.5" y="291.2" width="0.84" height="0.84"/><rect x="50.0" y="289.0" width="0.84" height="0.84"/><rect x="58.0" y="317.7" width="0.84" height="0.84"/><rect x="40.7" y="317.4" width="0.84" height="0.84"/><rect x="60.4" y="299.1" width="0.84" height="0.84"/><rect x="29.3" y="315.8" width="0.84" height="0.84"/><rect x="49.0" y="294.7" width="0.84" height="0.84"/><rect x="54.2" y="305.3" width="0.84" height="0.84"/><rect x="65.7" y="290.3" width="0.84" height="0.84"/><rect x="61.9" y="316.6" width="0.84" height="0.84"/><rect x="65.2" y="299.1" width="0.84" height="0.84"/><rect x="42.2" y="311.7" width="0.84" height="0.84"/><rect x="51.2" y="302.3" width="0.84" height="0.84"/><rect x="65.0" y="298.2" width="0.84" height="0.84"/><rect x="30.5" y="309.6" width="0.84" height="0.84"/><rect x="53.3" y="294.6" width="0.84" height="0.84"/><rect x="49.9" y="309.7" width="0.84" height="0.84"/><rect x="50.8" y="314.9" width="0.84" height="0.84"/><rect x="49.4" y="311.9" width="0.84" height="0.84"/><rect x="65.7" y="317.9" width="0.84" height="0.84"/><rect x="42.9" y="310.2" width="0.84" height="0.84"/><rect x="30.3" y="289.6" width="0.84" height="0.84"/><rect x="29.4" y="312.2" width="0.84" height="0.84"/><rect x="37.1" y="300.9" width="0.84" height="0.84"/><rect x="48.0" y="300.7" width="0.84" height="0.84"/><rect x="43.8" y="303.5" width="0.84" height="0.84"/><rect x="68.8" y="301.5" width="0.84" height="0.84"/><rect x="55.6" y="311.5" width="0.84" height="0.84"/><rect x="47.9" y="287.8" width="0.84" height="0.84"/><rect x="44.2" y="312.3" width="0.84" height="0.84"/><rect x="32.7" y="294.7" width="0.84" height="0.84"/><rect x="60.6" y="309.3" width="0.84" height="0.84"/><rect x="50.1" y="309.5" width="0.84" height="0.84"/><rect x="51.7" y="288.6" width="0.84" height="0.84"/><rect x="33.6" y="294.3" width="0.84" height="0.84"/><rect x="59.7" y="295.1" width="0.84" height="0.84"/><rect x="40.5" y="292.9" width="0.84" height="0.84"/><rect x="33.9" y="299.8" width="0.84" height="0.84"/><rect x="37.6" y="304.8" width="0.84" height="0.84"/><rect x="43.3" y="280.6" width="0.84" height="0.84"/><rect x="57.6" y="298.1" width="0.84" height="0.84"/><rect x="53.1" y="296.2" width="0.84" height="0.84"/><rect x="58.2" y="308.8" width="0.84" height="0.84"/><rect x="57.0" y="304.4" width="0.84" height="0.84"/><rect x="64.0" y="307.9" width="0.84" height="0.84"/><rect x="54.7" y="279.1" width="0.84" height="0.84"/><rect x="59.4" y="314.7" width="0.84" height="0.84"/><rect x="46.9" y="296.1" width="0.84" height="0.84"/><rect x="70.4" y="282.5" width="0.84" height="0.84"/><rect x="54.9" y="326.4" width="0.84" height="0.84"/><rect x="40.3" y="308.2" width="0.84" height="0.84"/><rect x="69.8" y="299.7" width="0.84" height="0.84"/><rect x="55.9" y="310.5" width="0.84" height="0.84"/><rect x="40.5" y="300.1" width="0.84" height="0.84"/><rect x="53.1" y="309.7" width="0.84" height="0.84"/><rect x="49.6" y="298.9" width="0.84" height="0.84"/><rect x="39.3" y="297.2" width="0.84" height="0.84"/><rect x="59.4" y="302.1" width="0.84" height="0.84"/><rect x="41.0" y="292.2" width="0.84" height="0.84"/><rect x="78.0" y="313.0" width="0.84" height="0.84"/><rect x="56.7" y="273.8" width="0.84" height="0.84"/><rect x="56.5" y="306.0" width="0.84" height="0.84"/><rect x="67.7" y="305.5" width="0.84" height="0.84"/><rect x="49.3" y="306.5" width="0.84" height="0.84"/><rect x="29.6" y="311.8" width="0.84" height="0.84"/><rect x="53.4" y="293.6" width="0.84" height="0.84"/><rect x="63.9" y="320.0" width="0.84" height="0.84"/><rect x="35.3" y="294.0" width="0.84" height="0.84"/><rect x="53.1" y="302.9" width="0.84" height="0.84"/><rect x="45.8" y="290.8" width="0.84" height="0.84"/><rect x="72.3" y="311.9" width="0.84" height="0.84"/><rect x="37.5" y="286.9" width="0.84" height="0.84"/><rect x="67.9" y="311.4" width="0.84" height="0.84"/><rect x="69.1" y="309.5" width="0.84" height="0.84"/><rect x="40.8" y="303.7" width="0.84" height="0.84"/><rect x="27.3" y="293.1" width="0.84" height="0.84"/><rect x="49.4" y="306.5" width="0.84" height="0.84"/><rect x="42.4" y="299.7" width="0.84" height="0.84"/><rect x="54.8" y="305.0" width="0.84" height="0.84"/><rect x="56.7" y="303.2" width="0.84" height="0.84"/><rect x="46.6" y="309.3" width="0.84" height="0.84"/><rect x="50.5" y="292.3" width="0.84" height="0.84"/><rect x="43.4" y="301.0" width="0.84" height="0.84"/><rect x="48.8" y="302.6" width="0.84" height="0.84"/><rect x="50.0" y="302.8" width="0.84" height="0.84"/><rect x="48.6" y="287.8" width="0.84" height="0.84"/><rect x="54.4" y="312.1" width="0.84" height="0.84"/><rect x="54.6" y="299.0" width="0.84" height="0.84"/><rect x="54.7" y="290.9" width="0.84" height="0.84"/><rect x="30.1" y="301.6" width="0.84" height="0.84"/><rect x="40.2" y="308.8" width="0.84" height="0.84"/><rect x="38.6" y="273.4" width="0.84" height="0.84"/><rect x="39.1" y="317.6" width="0.84" height="0.84"/><rect x="46.0" y="286.6" width="0.84" height="0.84"/><rect x="42.0" y="306.5" width="0.84" height="0.84"/><rect x="55.2" y="302.9" width="0.84" height="0.84"/><rect x="65.6" y="308.4" width="0.84" height="0.84"/><rect x="49.8" y="307.3" width="0.84" height="0.84"/><rect x="67.4" y="311.2" width="0.84" height="0.84"/><rect x="60.7" y="289.6" width="0.84" height="0.84"/><rect x="48.4" y="308.7" width="0.84" height="0.84"/><rect x="46.9" y="312.2" width="0.84" height="0.84"/><rect x="56.3" y="310.5" width="0.84" height="0.84"/><rect x="47.8" y="327.7" width="0.84" height="0.84"/><rect x="63.0" y="298.7" width="0.84" height="0.84"/><rect x="51.0" y="328.2" width="0.84" height="0.84"/><rect x="46.4" y="310.2" width="0.84" height="0.84"/><rect x="60.3" y="301.1" width="0.84" height="0.84"/><rect x="37.7" y="303.0" width="0.84" height="0.84"/><rect x="53.8" y="312.9" width="0.84" height="0.84"/><rect x="58.2" y="301.3" width="0.84" height="0.84"/><rect x="59.0" y="306.7" width="0.84" height="0.84"/><rect x="52.2" y="301.6" width="0.84" height="0.84"/><rect x="47.4" y="308.2" width="0.84" height="0.84"/><rect x="38.9" y="294.4" width="0.84" height="0.84"/><rect x="50.1" y="285.6" width="0.84" height="0.84"/></g>
<g fill="#4d62bd" opacity="0.65"><rect x="42.1" y="268.5" width="0.84" height="0.84"/><rect x="55.1" y="293.9" width="0.84" height="0.84"/><rect x="66.7" y="277.7" width="0.84" height="0.84"/><rect x="48.3" y="272.1" width="0.84" height="0.84"/><rect x="85.8" y="272.2" width="0.84" height="0.84"/><rect x="68.1" y="265.7" width="0.84" height="0.84"/><rect x="46.4" y="268.1" width="0.84" height="0.84"/><rect x="75.5" y="284.9" width="0.84" height="0.84"/><rect x="36.2" y="298.6" width="0.84" height="0.84"/><rect x="56.9" y="261.7" width="0.84" height="0.84"/><rect x="30.8" y="288.8" width="0.84" height="0.84"/><rect x="43.5" y="275.6" width="0.84" height="0.84"/><rect x="61.9" y="285.0" width="0.84" height="0.84"/><rect x="72.2" y="284.0" width="0.84" height="0.84"/><rect x="85.8" y="280.8" width="0.84" height="0.84"/><rect x="40.6" y="289.5" width="0.84" height="0.84"/><rect x="40.2" y="282.2" width="0.84" height="0.84"/><rect x="59.0" y="283.7" width="0.84" height="0.84"/><rect x="56.2" y="264.4" width="0.84" height="0.84"/><rect x="44.5" y="293.3" width="0.84" height="0.84"/><rect x="55.6" y="281.9" width="0.84" height="0.84"/><rect x="54.5" y="276.6" width="0.84" height="0.84"/><rect x="70.9" y="280.3" width="0.84" height="0.84"/><rect x="54.7" y="277.6" width="0.84" height="0.84"/><rect x="40.9" y="259.8" width="0.84" height="0.84"/><rect x="48.1" y="291.7" width="0.84" height="0.84"/><rect x="42.6" y="297.6" width="0.84" height="0.84"/><rect x="53.3" y="269.2" width="0.84" height="0.84"/><rect x="54.9" y="282.3" width="0.84" height="0.84"/><rect x="69.5" y="284.7" width="0.84" height="0.84"/><rect x="54.3" y="275.6" width="0.84" height="0.84"/><rect x="57.8" y="283.6" width="0.84" height="0.84"/><rect x="70.9" y="279.5" width="0.84" height="0.84"/><rect x="42.6" y="276.8" width="0.84" height="0.84"/><rect x="50.8" y="279.4" width="0.84" height="0.84"/><rect x="45.5" y="291.4" width="0.84" height="0.84"/><rect x="54.6" y="288.1" width="0.84" height="0.84"/><rect x="63.9" y="274.8" width="0.84" height="0.84"/><rect x="86.8" y="260.4" width="0.84" height="0.84"/><rect x="74.4" y="274.8" width="0.84" height="0.84"/><rect x="59.1" y="252.0" width="0.84" height="0.84"/><rect x="52.2" y="291.6" width="0.84" height="0.84"/><rect x="82.0" y="299.1" width="0.84" height="0.84"/><rect x="71.9" y="291.9" width="0.84" height="0.84"/><rect x="75.4" y="285.1" width="0.84" height="0.84"/><rect x="65.3" y="277.3" width="0.84" height="0.84"/><rect x="59.6" y="268.9" width="0.84" height="0.84"/><rect x="68.3" y="263.8" width="0.84" height="0.84"/><rect x="76.3" y="300.1" width="0.84" height="0.84"/><rect x="57.4" y="285.1" width="0.84" height="0.84"/><rect x="74.6" y="273.4" width="0.84" height="0.84"/><rect x="51.6" y="292.2" width="0.84" height="0.84"/><rect x="71.6" y="284.5" width="0.84" height="0.84"/><rect x="61.3" y="305.5" width="0.84" height="0.84"/><rect x="80.7" y="269.0" width="0.84" height="0.84"/><rect x="60.7" y="276.8" width="0.84" height="0.84"/><rect x="73.1" y="264.6" width="0.84" height="0.84"/><rect x="65.4" y="272.9" width="0.84" height="0.84"/><rect x="55.9" y="295.4" width="0.84" height="0.84"/><rect x="76.4" y="271.6" width="0.84" height="0.84"/><rect x="56.7" y="296.1" width="0.84" height="0.84"/><rect x="61.3" y="286.2" width="0.84" height="0.84"/><rect x="85.9" y="280.4" width="0.84" height="0.84"/><rect x="67.7" y="308.1" width="0.84" height="0.84"/><rect x="64.9" y="290.1" width="0.84" height="0.84"/><rect x="51.7" y="288.1" width="0.84" height="0.84"/><rect x="49.4" y="314.0" width="0.84" height="0.84"/><rect x="69.4" y="260.4" width="0.84" height="0.84"/><rect x="31.3" y="281.0" width="0.84" height="0.84"/><rect x="71.7" y="268.9" width="0.84" height="0.84"/><rect x="57.3" y="280.7" width="0.84" height="0.84"/><rect x="51.7" y="274.1" width="0.84" height="0.84"/><rect x="51.4" y="269.7" width="0.84" height="0.84"/><rect x="61.0" y="286.4" width="0.84" height="0.84"/><rect x="64.3" y="276.9" width="0.84" height="0.84"/><rect x="49.8" y="292.1" width="0.84" height="0.84"/><rect x="63.7" y="301.3" width="0.84" height="0.84"/><rect x="68.8" y="275.5" width="0.84" height="0.84"/><rect x="49.8" y="280.6" width="0.84" height="0.84"/><rect x="46.2" y="287.7" width="0.84" height="0.84"/><rect x="66.9" y="285.2" width="0.84" height="0.84"/><rect x="80.1" y="297.2" width="0.84" height="0.84"/><rect x="51.4" y="289.1" width="0.84" height="0.84"/><rect x="83.0" y="242.4" width="0.84" height="0.84"/><rect x="54.6" y="289.0" width="0.84" height="0.84"/><rect x="64.4" y="285.4" width="0.84" height="0.84"/><rect x="59.3" y="288.3" width="0.84" height="0.84"/><rect x="65.4" y="289.6" width="0.84" height="0.84"/><rect x="31.1" y="291.0" width="0.84" height="0.84"/><rect x="53.6" y="273.7" width="0.84" height="0.84"/><rect x="51.0" y="297.5" width="0.84" height="0.84"/><rect x="55.9" y="294.3" width="0.84" height="0.84"/><rect x="71.1" y="279.5" width="0.84" height="0.84"/><rect x="65.6" y="277.7" width="0.84" height="0.84"/><rect x="42.4" y="294.7" width="0.84" height="0.84"/><rect x="62.3" y="274.3" width="0.84" height="0.84"/><rect x="63.4" y="290.6" width="0.84" height="0.84"/><rect x="53.1" y="296.2" width="0.84" height="0.84"/><rect x="79.6" y="262.2" width="0.84" height="0.84"/><rect x="60.9" y="280.4" width="0.84" height="0.84"/><rect x="81.0" y="272.8" width="0.84" height="0.84"/><rect x="66.8" y="269.1" width="0.84" height="0.84"/><rect x="59.7" y="283.0" width="0.84" height="0.84"/><rect x="47.0" y="311.1" width="0.84" height="0.84"/><rect x="60.3" y="259.5" width="0.84" height="0.84"/><rect x="68.4" y="275.5" width="0.84" height="0.84"/><rect x="67.8" y="282.5" width="0.84" height="0.84"/><rect x="40.1" y="293.8" width="0.84" height="0.84"/><rect x="74.9" y="265.1" width="0.84" height="0.84"/><rect x="38.9" y="279.3" width="0.84" height="0.84"/><rect x="47.0" y="296.4" width="0.84" height="0.84"/><rect x="83.6" y="272.6" width="0.84" height="0.84"/><rect x="76.9" y="301.2" width="0.84" height="0.84"/><rect x="49.4" y="281.3" width="0.84" height="0.84"/><rect x="69.9" y="283.5" width="0.84" height="0.84"/><rect x="40.2" y="281.0" width="0.84" height="0.84"/><rect x="65.1" y="282.8" width="0.84" height="0.84"/><rect x="42.6" y="292.2" width="0.84" height="0.84"/><rect x="56.1" y="291.8" width="0.84" height="0.84"/><rect x="58.0" y="283.2" width="0.84" height="0.84"/><rect x="62.2" y="295.6" width="0.84" height="0.84"/><rect x="74.9" y="267.9" width="0.84" height="0.84"/><rect x="65.8" y="269.0" width="0.84" height="0.84"/><rect x="65.5" y="289.2" width="0.84" height="0.84"/><rect x="76.4" y="266.7" width="0.84" height="0.84"/><rect x="60.3" y="285.4" width="0.84" height="0.84"/><rect x="41.6" y="295.8" width="0.84" height="0.84"/><rect x="53.9" y="292.1" width="0.84" height="0.84"/><rect x="33.7" y="274.6" width="0.84" height="0.84"/><rect x="62.1" y="285.0" width="0.84" height="0.84"/></g>
<g fill="#4d62bd" opacity="0.8"><rect x="79.6" y="263.1" width="0.84" height="0.84"/><rect x="81.8" y="251.2" width="0.84" height="0.84"/><rect x="87.8" y="243.5" width="0.84" height="0.84"/><rect x="78.6" y="255.8" width="0.84" height="0.84"/><rect x="90.8" y="254.7" width="0.84" height="0.84"/><rect x="86.5" y="250.8" width="0.84" height="0.84"/><rect x="86.4" y="269.3" width="0.84" height="0.84"/><rect x="78.5" y="274.9" width="0.84" height="0.84"/><rect x="78.8" y="256.1" width="0.84" height="0.84"/><rect x="85.4" y="264.2" width="0.84" height="0.84"/><rect x="74.1" y="239.2" width="0.84" height="0.84"/><rect x="88.8" y="262.4" width="0.84" height="0.84"/><rect x="89.0" y="277.0" width="0.84" height="0.84"/><rect x="85.6" y="258.0" width="0.84" height="0.84"/><rect x="91.4" y="259.0" width="0.84" height="0.84"/><rect x="97.3" y="246.1" width="0.84" height="0.84"/><rect x="90.5" y="253.0" width="0.84" height="0.84"/><rect x="91.4" y="273.2" width="0.84" height="0.84"/><rect x="84.0" y="254.0" width="0.84" height="0.84"/><rect x="80.0" y="249.3" width="0.84" height="0.84"/><rect x="79.0" y="261.1" width="0.84" height="0.84"/><rect x="84.3" y="256.5" width="0.84" height="0.84"/><rect x="82.6" y="263.3" width="0.84" height="0.84"/><rect x="88.0" y="254.9" width="0.84" height="0.84"/><rect x="89.3" y="254.8" width="0.84" height="0.84"/><rect x="74.8" y="267.6" width="0.84" height="0.84"/><rect x="87.7" y="248.3" width="0.84" height="0.84"/><rect x="92.6" y="258.8" width="0.84" height="0.84"/><rect x="71.5" y="268.9" width="0.84" height="0.84"/><rect x="86.7" y="263.1" width="0.84" height="0.84"/><rect x="85.6" y="254.8" width="0.84" height="0.84"/><rect x="71.6" y="263.8" width="0.84" height="0.84"/><rect x="84.2" y="253.7" width="0.84" height="0.84"/><rect x="86.8" y="256.6" width="0.84" height="0.84"/><rect x="89.4" y="253.0" width="0.84" height="0.84"/><rect x="83.7" y="238.9" width="0.84" height="0.84"/><rect x="80.6" y="261.4" width="0.84" height="0.84"/><rect x="94.7" y="253.1" width="0.84" height="0.84"/><rect x="83.0" y="268.7" width="0.84" height="0.84"/><rect x="81.4" y="261.9" width="0.84" height="0.84"/><rect x="97.4" y="256.3" width="0.84" height="0.84"/><rect x="93.8" y="250.3" width="0.84" height="0.84"/><rect x="85.7" y="255.4" width="0.84" height="0.84"/><rect x="84.9" y="265.0" width="0.84" height="0.84"/><rect x="103.1" y="250.7" width="0.84" height="0.84"/><rect x="79.4" y="260.0" width="0.84" height="0.84"/><rect x="75.6" y="260.0" width="0.84" height="0.84"/><rect x="88.6" y="253.8" width="0.84" height="0.84"/><rect x="88.2" y="243.6" width="0.84" height="0.84"/><rect x="90.1" y="243.6" width="0.84" height="0.84"/><rect x="78.4" y="251.6" width="0.84" height="0.84"/><rect x="80.8" y="262.9" width="0.84" height="0.84"/><rect x="84.7" y="252.8" width="0.84" height="0.84"/><rect x="88.3" y="268.7" width="0.84" height="0.84"/><rect x="84.0" y="258.9" width="0.84" height="0.84"/><rect x="93.9" y="258.1" width="0.84" height="0.84"/><rect x="73.7" y="275.9" width="0.84" height="0.84"/><rect x="101.7" y="240.1" width="0.84" height="0.84"/><rect x="83.7" y="259.3" width="0.84" height="0.84"/></g>
<g fill="#4d62bd" opacity="0.8"><rect x="90.8" y="271.3" width="0.84" height="0.84"/><rect x="83.4" y="262.7" width="0.84" height="0.84"/><rect x="85.6" y="273.2" width="0.84" height="0.84"/><rect x="78.5" y="262.9" width="0.84" height="0.84"/><rect x="84.9" y="258.3" width="0.84" height="0.84"/><rect x="83.4" y="265.8" width="0.84" height="0.84"/><rect x="87.7" y="264.5" width="0.84" height="0.84"/><rect x="79.7" y="266.0" width="0.84" height="0.84"/><rect x="84.7" y="264.7" width="0.84" height="0.84"/><rect x="85.1" y="271.8" width="0.84" height="0.84"/><rect x="92.1" y="276.5" width="0.84" height="0.84"/><rect x="80.3" y="265.9" width="0.84" height="0.84"/><rect x="70.1" y="277.5" width="0.84" height="0.84"/><rect x="80.7" y="267.8" width="0.84" height="0.84"/><rect x="88.1" y="261.2" width="0.84" height="0.84"/><rect x="87.8" y="267.9" width="0.84" height="0.84"/><rect x="74.0" y="269.5" width="0.84" height="0.84"/><rect x="92.2" y="258.7" width="0.84" height="0.84"/><rect x="89.8" y="269.0" width="0.84" height="0.84"/><rect x="87.8" y="270.2" width="0.84" height="0.84"/><rect x="92.8" y="266.9" width="0.84" height="0.84"/><rect x="90.2" y="266.0" width="0.84" height="0.84"/><rect x="89.4" y="263.9" width="0.84" height="0.84"/><rect x="84.3" y="276.7" width="0.84" height="0.84"/><rect x="87.7" y="267.2" width="0.84" height="0.84"/></g>
<path d="M35.50 297.00 C 36.17 294.42, 37.92 291.25, 40.00 289.50 C 42.08 287.75, 45.33 286.83, 48.00 286.50 C 50.67 286.17, 53.58 286.83, 56.00 287.50 C 58.42 288.17, 61.00 288.92, 62.50 290.50 C 64.00 292.08, 64.75 294.92, 65.00 297.00 C 65.25 299.08, 64.00 301.17, 64.00 303.00 C 64.00 304.83, 65.67 306.08, 65.00 308.00 C 64.33 309.92, 62.17 312.83, 60.00 314.50 C 57.83 316.17, 54.67 317.58, 52.00 318.00 C 49.33 318.42, 46.25 317.92, 44.00 317.00 C 41.75 316.08, 39.83 314.50, 38.50 312.50 C 37.17 310.50, 36.50 307.58, 36.00 305.00 C 35.50 302.42, 34.83 299.58, 35.50 297.00 Z" fill="none" stroke="#2b3f8f" stroke-width="1.2"/>
<path d="M39.50 299.00 C 39.92 296.75, 41.25 293.95, 43.00 292.50 C 44.75 291.05, 47.67 290.47, 50.00 290.30 C 52.33 290.13, 55.17 290.47, 57.00 291.50 C 58.83 292.53, 60.42 294.58, 61.00 296.50 C 61.58 298.42, 61.00 300.92, 60.50 303.00 C 60.00 305.08, 59.50 307.50, 58.00 309.00 C 56.50 310.50, 53.75 311.67, 51.50 312.00 C 49.25 312.33, 46.33 312.00, 44.50 311.00 C 42.67 310.00, 41.33 308.00, 40.50 306.00 C 39.67 304.00, 39.08 301.25, 39.50 299.00 Z" fill="none" stroke="#2b3f8f" stroke-width="1.2"/>
<ellipse cx="51.8" cy="300.6" rx="4.6" ry="4.7" fill="none" stroke="#2b3f8f" stroke-width="1.1"/>
<ellipse cx="46.3" cy="302.3" rx="1.9" ry="1.8" fill="none" stroke="#2b3f8f" stroke-width="0.8"/>
<ellipse cx="46.0" cy="305.6" rx="1.9" ry="1.5" fill="none" stroke="#2b3f8f" stroke-width="0.8"/>
<ellipse cx="84.4" cy="253.8" rx="9.6" ry="12.4" fill="#4462c2" transform="rotate(32 84.4 253.8)"/>
<ellipse cx="84.4" cy="253.8" rx="8.2" ry="10.8" fill="#8097da" transform="rotate(32 84.4 253.8)"/>
<ellipse cx="84.4" cy="253.8" rx="6.6" ry="8.8" fill="#4d6bcc" transform="rotate(32 84.4 253.8)"/>
<ellipse cx="84.4" cy="253.8" rx="5.6" ry="7.6" fill="#2fb2d6" transform="rotate(32 84.4 253.8)"/>
<ellipse cx="84.4" cy="253.8" rx="4.9" ry="6.8" fill="#1f9c48" transform="rotate(32 84.4 253.8)"/>
<ellipse cx="84.4" cy="253.8" rx="3.9" ry="5.6" fill="#e9e82c" transform="rotate(32 84.4 253.8)"/>
<ellipse cx="84.4" cy="253.8" rx="3.2" ry="4.6" fill="#f3a323" transform="rotate(32 84.4 253.8)"/>
<ellipse cx="84.4" cy="253.8" rx="2.4" ry="3.6" fill="#e6262c" transform="rotate(32 84.4 253.8)"/>
<circle cx="85.20" cy="254.00" r="0.70" fill="#f6c0c0" stroke="none" stroke-width="1"/>
<rect x="71.00" y="237.70" width="34.70" height="33.10" fill="none" stroke="#000" stroke-width="1.8"/>
<line x1="109.00" y1="248.00" x2="131.00" y2="248.00" stroke="#000" stroke-width="1.1"/>
<path d="M130 244.6 L 135.8 248 L 130 251.4 Z" fill="#000" stroke="none" stroke-width="1"/>
<line x1="13.40" y1="350.00" x2="13.40" y2="312.00" stroke="#222" stroke-width="1"/>
<path d="M10.8 314.5 L 13.4 308.2 L 16 314.5 Z" fill="#222" stroke="none" stroke-width="1"/>
<line x1="13.40" y1="350.00" x2="60.50" y2="350.00" stroke="#222" stroke-width="1"/>
<path d="M58.5 347.4 L 64.5 350 L 58.5 352.6 Z" fill="#222" stroke="none" stroke-width="1"/>
<text x="9.2" y="335.2" font-size="9.77" text-anchor="middle" fill="#262626" textLength="21" lengthAdjust="spacingAndGlyphs" transform="rotate(-90 9.2 335.2)">B220</text>
<text x="22.6" y="360.1" font-size="10.14" text-anchor="start" fill="#262626" textLength="22.7" lengthAdjust="spacingAndGlyphs">CD19</text>
<text x="162.1" y="221.0" font-size="10.14" text-anchor="start" fill="#262626" textLength="84.4" lengthAdjust="spacingAndGlyphs">B220+CD19+ cells</text>
<line x1="157.70" y1="237.90" x2="157.70" y2="330.60" stroke="#2b3f8f" stroke-width="1.3"/>
<line x1="157.20" y1="330.20" x2="245.60" y2="330.20" stroke="#2b3f8f" stroke-width="1.3"/>
<line x1="156.70" y1="240.00" x2="157.70" y2="240.00" stroke="#2b3f8f" stroke-width="0.4"/>
<line x1="156.70" y1="244.80" x2="157.70" y2="244.80" stroke="#2b3f8f" stroke-width="0.4"/>
<line x1="156.70" y1="249.60" x2="157.70" y2="249.60" stroke="#2b3f8f" stroke-width="0.4"/>
<line x1="156.70" y1="254.40" x2="157.70" y2="254.40" stroke="#2b3f8f" stroke-width="0.4"/>
<line x1="156.70" y1="259.20" x2="157.70" y2="259.20" stroke="#2b3f8f" stroke-width="0.4"/>
<line x1="156.70" y1="264.00" x2="157.70" y2="264.00" stroke="#2b3f8f" stroke-width="0.4"/>
<line x1="156.70" y1="268.80" x2="157.70" y2="268.80" stroke="#2b3f8f" stroke-width="0.4"/>
<line x1="156.70" y1="273.60" x2="157.70" y2="273.60" stroke="#2b3f8f" stroke-width="0.4"/>
<line x1="156.70" y1="278.40" x2="157.70" y2="278.40" stroke="#2b3f8f" stroke-width="0.4"/>
<line x1="156.70" y1="283.20" x2="157.70" y2="283.20" stroke="#2b3f8f" stroke-width="0.4"/>
<line x1="156.70" y1="288.00" x2="157.70" y2="288.00" stroke="#2b3f8f" stroke-width="0.4"/>
<line x1="156.70" y1="292.80" x2="157.70" y2="292.80" stroke="#2b3f8f" stroke-width="0.4"/>
<line x1="156.70" y1="297.60" x2="157.70" y2="297.60" stroke="#2b3f8f" stroke-width="0.4"/>
<line x1="156.70" y1="302.40" x2="157.70" y2="302.40" stroke="#2b3f8f" stroke-width="0.4"/>
<line x1="156.70" y1="307.20" x2="157.70" y2="307.20" stroke="#2b3f8f" stroke-width="0.4"/>
<line x1="156.70" y1="312.00" x2="157.70" y2="312.00" stroke="#2b3f8f" stroke-width="0.4"/>
<line x1="156.70" y1="316.80" x2="157.70" y2="316.80" stroke="#2b3f8f" stroke-width="0.4"/>
<line x1="156.70" y1="321.60" x2="157.70" y2="321.60" stroke="#2b3f8f" stroke-width="0.4"/>
<line x1="156.70" y1="326.40" x2="157.70" y2="326.40" stroke="#2b3f8f" stroke-width="0.4"/>
<line x1="160.00" y1="330.20" x2="160.00" y2="331.30" stroke="#2b3f8f" stroke-width="0.5"/>
<line x1="164.90" y1="330.20" x2="164.90" y2="331.30" stroke="#2b3f8f" stroke-width="0.5"/>
<line x1="169.80" y1="330.20" x2="169.80" y2="331.30" stroke="#2b3f8f" stroke-width="0.5"/>
<line x1="174.70" y1="330.20" x2="174.70" y2="331.30" stroke="#2b3f8f" stroke-width="0.5"/>
<line x1="179.60" y1="330.20" x2="179.60" y2="331.30" stroke="#2b3f8f" stroke-width="0.5"/>
<line x1="184.50" y1="330.20" x2="184.50" y2="331.30" stroke="#2b3f8f" stroke-width="0.5"/>
<line x1="189.40" y1="330.20" x2="189.40" y2="331.30" stroke="#2b3f8f" stroke-width="0.5"/>
<line x1="194.30" y1="330.20" x2="194.30" y2="331.30" stroke="#2b3f8f" stroke-width="0.5"/>
<line x1="199.20" y1="330.20" x2="199.20" y2="331.30" stroke="#2b3f8f" stroke-width="0.5"/>
<line x1="204.10" y1="330.20" x2="204.10" y2="331.30" stroke="#2b3f8f" stroke-width="0.5"/>
<line x1="209.00" y1="330.20" x2="209.00" y2="331.30" stroke="#2b3f8f" stroke-width="0.5"/>
<line x1="213.90" y1="330.20" x2="213.90" y2="331.30" stroke="#2b3f8f" stroke-width="0.5"/>
<line x1="218.80" y1="330.20" x2="218.80" y2="331.30" stroke="#2b3f8f" stroke-width="0.5"/>
<line x1="223.70" y1="330.20" x2="223.70" y2="331.30" stroke="#2b3f8f" stroke-width="0.5"/>
<line x1="228.60" y1="330.20" x2="228.60" y2="331.30" stroke="#2b3f8f" stroke-width="0.5"/>
<line x1="233.50" y1="330.20" x2="233.50" y2="331.30" stroke="#2b3f8f" stroke-width="0.5"/>
<line x1="238.40" y1="330.20" x2="238.40" y2="331.30" stroke="#2b3f8f" stroke-width="0.5"/>
<line x1="243.30" y1="330.20" x2="243.30" y2="331.30" stroke="#2b3f8f" stroke-width="0.5"/>
<circle cx="157.20" cy="304.50" r="0.90" fill="#2b3f8f" stroke="none" stroke-width="1"/>
<circle cx="176.00" cy="330.60" r="0.90" fill="#2b3f8f" stroke="none" stroke-width="1"/>
<text x="155.2" y="248.2" font-size="4.8" text-anchor="end" fill="#4d5cab" font-family="'Liberation Serif', serif">10⁵</text>
<text x="155.2" y="271.6" font-size="4.8" text-anchor="end" fill="#4d5cab" font-family="'Liberation Serif', serif">10⁴</text>
<text x="155.2" y="297.8" font-size="4.8" text-anchor="end" fill="#4d5cab" font-family="'Liberation Serif', serif">10³</text>
<text x="155.2" y="307.8" font-size="4.8" text-anchor="end" fill="#4d5cab" font-family="'Liberation Serif', serif">-10²</text>
<text x="155.2" y="315.3" font-size="4.8" text-anchor="end" fill="#4d5cab" font-family="'Liberation Serif', serif">-10³</text>
<text x="170.6" y="338.6" font-size="4.8" text-anchor="middle" fill="#4d5cab" font-family="'Liberation Serif', serif">-10³</text>
<text x="180.0" y="338.6" font-size="4.8" text-anchor="middle" fill="#4d5cab" font-family="'Liberation Serif', serif">-10²</text>
<text x="190.4" y="338.6" font-size="4.8" text-anchor="middle" fill="#4d5cab" font-family="'Liberation Serif', serif">10³</text>
<text x="215.8" y="338.6" font-size="4.8" text-anchor="middle" fill="#4d5cab" font-family="'Liberation Serif', serif">10⁴</text>
<text x="236.9" y="338.6" font-size="4.8" text-anchor="middle" fill="#4d5cab" font-family="'Liberation Serif', serif">10⁵</text>
<g fill="#4d62bd" opacity="0.8"><rect x="213.2" y="267.2" width="0.84" height="0.84"/><rect x="198.6" y="310.3" width="0.84" height="0.84"/><rect x="207.8" y="305.3" width="0.84" height="0.84"/><rect x="189.5" y="315.3" width="0.84" height="0.84"/><rect x="217.0" y="278.6" width="0.84" height="0.84"/><rect x="220.1" y="301.6" width="0.84" height="0.84"/><rect x="218.6" y="279.2" width="0.84" height="0.84"/><rect x="199.2" y="300.5" width="0.84" height="0.84"/><rect x="235.4" y="274.1" width="0.84" height="0.84"/><rect x="213.4" y="299.2" width="0.84" height="0.84"/><rect x="189.1" y="296.0" width="0.84" height="0.84"/><rect x="214.6" y="283.4" width="0.84" height="0.84"/><rect x="198.5" y="322.8" width="0.84" height="0.84"/><rect x="197.8" y="293.1" width="0.84" height="0.84"/><rect x="165.2" y="324.3" width="0.84" height="0.84"/><rect x="187.4" y="308.3" width="0.84" height="0.84"/><rect x="192.1" y="300.1" width="0.84" height="0.84"/><rect x="199.4" y="296.6" width="0.84" height="0.84"/><rect x="222.0" y="279.4" width="0.84" height="0.84"/><rect x="232.7" y="313.9" width="0.84" height="0.84"/><rect x="181.2" y="291.3" width="0.84" height="0.84"/><rect x="175.5" y="295.8" width="0.84" height="0.84"/><rect x="203.7" y="289.0" width="0.84" height="0.84"/><rect x="223.0" y="306.1" width="0.84" height="0.84"/><rect x="225.5" y="248.9" width="0.84" height="0.84"/><rect x="212.0" y="316.3" width="0.84" height="0.84"/><rect x="189.6" y="299.3" width="0.84" height="0.84"/><rect x="206.5" y="308.1" width="0.84" height="0.84"/><rect x="193.8" y="265.1" width="0.84" height="0.84"/><rect x="209.2" y="313.5" width="0.84" height="0.84"/><rect x="205.7" y="302.3" width="0.84" height="0.84"/><rect x="208.0" y="289.5" width="0.84" height="0.84"/><rect x="228.3" y="292.7" width="0.84" height="0.84"/><rect x="236.6" y="289.1" width="0.84" height="0.84"/><rect x="223.4" y="285.3" width="0.84" height="0.84"/><rect x="224.9" y="281.4" width="0.84" height="0.84"/><rect x="177.8" y="296.0" width="0.84" height="0.84"/><rect x="224.2" y="285.1" width="0.84" height="0.84"/><rect x="197.9" y="311.3" width="0.84" height="0.84"/><rect x="203.8" y="280.7" width="0.84" height="0.84"/><rect x="208.9" y="306.4" width="0.84" height="0.84"/><rect x="243.0" y="251.8" width="0.84" height="0.84"/><rect x="219.4" y="309.6" width="0.84" height="0.84"/><rect x="216.7" y="287.2" width="0.84" height="0.84"/><rect x="221.7" y="287.0" width="0.84" height="0.84"/><rect x="213.6" y="269.2" width="0.84" height="0.84"/><rect x="215.9" y="275.6" width="0.84" height="0.84"/><rect x="189.7" y="292.1" width="0.84" height="0.84"/><rect x="187.8" y="291.1" width="0.84" height="0.84"/><rect x="195.8" y="288.5" width="0.84" height="0.84"/><rect x="222.7" y="308.7" width="0.84" height="0.84"/><rect x="203.7" y="285.9" width="0.84" height="0.84"/><rect x="241.9" y="263.0" width="0.84" height="0.84"/><rect x="203.1" y="289.1" width="0.84" height="0.84"/><rect x="205.9" y="288.9" width="0.84" height="0.84"/><rect x="207.0" y="312.5" width="0.84" height="0.84"/><rect x="211.6" y="311.0" width="0.84" height="0.84"/><rect x="209.4" y="288.9" width="0.84" height="0.84"/><rect x="214.3" y="283.9" width="0.84" height="0.84"/><rect x="238.4" y="260.0" width="0.84" height="0.84"/><rect x="209.0" y="288.4" width="0.84" height="0.84"/><rect x="202.4" y="282.3" width="0.84" height="0.84"/><rect x="220.0" y="294.0" width="0.84" height="0.84"/><rect x="239.7" y="258.0" width="0.84" height="0.84"/><rect x="184.3" y="270.4" width="0.84" height="0.84"/><rect x="222.3" y="291.6" width="0.84" height="0.84"/><rect x="214.6" y="306.7" width="0.84" height="0.84"/><rect x="221.8" y="281.9" width="0.84" height="0.84"/><rect x="226.5" y="289.6" width="0.84" height="0.84"/><rect x="222.6" y="285.2" width="0.84" height="0.84"/><rect x="189.5" y="270.0" width="0.84" height="0.84"/><rect x="201.7" y="307.2" width="0.84" height="0.84"/><rect x="203.6" y="283.1" width="0.84" height="0.84"/><rect x="215.9" y="300.4" width="0.84" height="0.84"/><rect x="234.1" y="249.6" width="0.84" height="0.84"/><rect x="195.8" y="327.0" width="0.84" height="0.84"/><rect x="208.1" y="315.1" width="0.84" height="0.84"/><rect x="217.3" y="273.6" width="0.84" height="0.84"/><rect x="236.0" y="284.5" width="0.84" height="0.84"/><rect x="209.7" y="257.2" width="0.84" height="0.84"/><rect x="216.9" y="272.6" width="0.84" height="0.84"/><rect x="226.6" y="281.0" width="0.84" height="0.84"/><rect x="226.7" y="303.1" width="0.84" height="0.84"/><rect x="179.5" y="304.6" width="0.84" height="0.84"/><rect x="202.4" y="290.3" width="0.84" height="0.84"/><rect x="217.0" y="286.4" width="0.84" height="0.84"/><rect x="226.7" y="282.9" width="0.84" height="0.84"/><rect x="211.4" y="266.6" width="0.84" height="0.84"/><rect x="210.9" y="292.8" width="0.84" height="0.84"/><rect x="215.7" y="299.4" width="0.84" height="0.84"/><rect x="215.5" y="272.0" width="0.84" height="0.84"/><rect x="193.1" y="268.8" width="0.84" height="0.84"/><rect x="208.3" y="305.9" width="0.84" height="0.84"/><rect x="213.6" y="287.8" width="0.84" height="0.84"/><rect x="221.3" y="301.2" width="0.84" height="0.84"/><rect x="210.0" y="309.3" width="0.84" height="0.84"/><rect x="192.8" y="317.0" width="0.84" height="0.84"/><rect x="212.0" y="280.2" width="0.84" height="0.84"/><rect x="216.8" y="270.3" width="0.84" height="0.84"/><rect x="202.9" y="302.2" width="0.84" height="0.84"/><rect x="210.8" y="317.4" width="0.84" height="0.84"/><rect x="198.0" y="293.8" width="0.84" height="0.84"/><rect x="225.0" y="307.5" width="0.84" height="0.84"/><rect x="209.0" y="277.6" width="0.84" height="0.84"/><rect x="219.3" y="270.6" width="0.84" height="0.84"/><rect x="237.6" y="295.3" width="0.84" height="0.84"/><rect x="218.6" y="309.2" width="0.84" height="0.84"/><rect x="199.0" y="293.4" width="0.84" height="0.84"/><rect x="218.4" y="318.4" width="0.84" height="0.84"/><rect x="223.3" y="305.8" width="0.84" height="0.84"/><rect x="220.6" y="293.4" width="0.84" height="0.84"/><rect x="195.1" y="318.9" width="0.84" height="0.84"/><rect x="198.4" y="277.2" width="0.84" height="0.84"/><rect x="223.8" y="284.3" width="0.84" height="0.84"/><rect x="196.0" y="302.9" width="0.84" height="0.84"/><rect x="222.2" y="322.2" width="0.84" height="0.84"/><rect x="240.7" y="267.9" width="0.84" height="0.84"/><rect x="230.5" y="311.7" width="0.84" height="0.84"/><rect x="229.9" y="272.0" width="0.84" height="0.84"/><rect x="229.3" y="272.2" width="0.84" height="0.84"/><rect x="205.1" y="300.9" width="0.84" height="0.84"/><rect x="207.7" y="297.2" width="0.84" height="0.84"/><rect x="179.9" y="309.0" width="0.84" height="0.84"/><rect x="235.1" y="253.8" width="0.84" height="0.84"/><rect x="222.6" y="276.8" width="0.84" height="0.84"/><rect x="207.5" y="276.1" width="0.84" height="0.84"/><rect x="234.3" y="274.0" width="0.84" height="0.84"/><rect x="187.3" y="315.7" width="0.84" height="0.84"/><rect x="221.5" y="295.8" width="0.84" height="0.84"/><rect x="215.3" y="291.1" width="0.84" height="0.84"/><rect x="199.5" y="304.4" width="0.84" height="0.84"/><rect x="226.3" y="276.2" width="0.84" height="0.84"/><rect x="228.7" y="287.5" width="0.84" height="0.84"/><rect x="219.7" y="262.3" width="0.84" height="0.84"/><rect x="186.8" y="280.5" width="0.84" height="0.84"/><rect x="236.0" y="253.1" width="0.84" height="0.84"/><rect x="186.7" y="288.7" width="0.84" height="0.84"/><rect x="210.1" y="278.2" width="0.84" height="0.84"/><rect x="193.2" y="319.0" width="0.84" height="0.84"/><rect x="215.0" y="328.7" width="0.84" height="0.84"/><rect x="210.5" y="296.6" width="0.84" height="0.84"/><rect x="201.3" y="297.1" width="0.84" height="0.84"/><rect x="214.1" y="295.7" width="0.84" height="0.84"/><rect x="228.6" y="263.9" width="0.84" height="0.84"/><rect x="231.8" y="259.8" width="0.84" height="0.84"/><rect x="215.8" y="313.1" width="0.84" height="0.84"/><rect x="176.8" y="305.0" width="0.84" height="0.84"/><rect x="217.6" y="323.8" width="0.84" height="0.84"/><rect x="210.5" y="304.5" width="0.84" height="0.84"/><rect x="211.3" y="296.9" width="0.84" height="0.84"/><rect x="222.1" y="255.7" width="0.84" height="0.84"/><rect x="216.2" y="276.0" width="0.84" height="0.84"/><rect x="211.4" y="300.2" width="0.84" height="0.84"/><rect x="223.4" y="280.4" width="0.84" height="0.84"/><rect x="191.9" y="304.5" width="0.84" height="0.84"/><rect x="218.2" y="301.1" width="0.84" height="0.84"/><rect x="183.3" y="316.2" width="0.84" height="0.84"/><rect x="195.3" y="297.7" width="0.84" height="0.84"/><rect x="228.2" y="298.3" width="0.84" height="0.84"/><rect x="238.7" y="280.3" width="0.84" height="0.84"/><rect x="219.1" y="305.2" width="0.84" height="0.84"/><rect x="184.8" y="288.6" width="0.84" height="0.84"/><rect x="181.9" y="306.0" width="0.84" height="0.84"/><rect x="207.7" y="282.6" width="0.84" height="0.84"/><rect x="220.3" y="288.9" width="0.84" height="0.84"/><rect x="223.7" y="284.8" width="0.84" height="0.84"/><rect x="218.8" y="298.5" width="0.84" height="0.84"/><rect x="223.4" y="303.6" width="0.84" height="0.84"/><rect x="192.2" y="276.7" width="0.84" height="0.84"/><rect x="199.3" y="315.3" width="0.84" height="0.84"/><rect x="175.6" y="308.8" width="0.84" height="0.84"/><rect x="199.4" y="302.5" width="0.84" height="0.84"/><rect x="226.5" y="268.9" width="0.84" height="0.84"/><rect x="208.4" y="318.4" width="0.84" height="0.84"/><rect x="213.7" y="321.7" width="0.84" height="0.84"/><rect x="233.3" y="257.3" width="0.84" height="0.84"/><rect x="216.4" y="273.9" width="0.84" height="0.84"/><rect x="194.1" y="294.4" width="0.84" height="0.84"/><rect x="219.8" y="290.4" width="0.84" height="0.84"/><rect x="216.2" y="291.1" width="0.84" height="0.84"/><rect x="201.9" y="307.2" width="0.84" height="0.84"/><rect x="233.0" y="289.1" width="0.84" height="0.84"/><rect x="173.2" y="302.7" width="0.84" height="0.84"/><rect x="195.1" y="312.5" width="0.84" height="0.84"/><rect x="200.6" y="270.5" width="0.84" height="0.84"/><rect x="235.9" y="266.9" width="0.84" height="0.84"/><rect x="194.9" y="299.8" width="0.84" height="0.84"/><rect x="226.1" y="259.2" width="0.84" height="0.84"/><rect x="201.9" y="313.5" width="0.84" height="0.84"/><rect x="235.3" y="271.0" width="0.84" height="0.84"/><rect x="207.0" y="313.4" width="0.84" height="0.84"/><rect x="225.6" y="288.7" width="0.84" height="0.84"/><rect x="202.2" y="308.8" width="0.84" height="0.84"/><rect x="236.4" y="254.3" width="0.84" height="0.84"/><rect x="207.5" y="303.6" width="0.84" height="0.84"/><rect x="197.6" y="307.7" width="0.84" height="0.84"/><rect x="207.3" y="285.0" width="0.84" height="0.84"/><rect x="199.5" y="299.1" width="0.84" height="0.84"/><rect x="232.5" y="302.8" width="0.84" height="0.84"/><rect x="210.5" y="309.9" width="0.84" height="0.84"/><rect x="233.1" y="305.7" width="0.84" height="0.84"/><rect x="228.2" y="272.3" width="0.84" height="0.84"/><rect x="194.8" y="320.1" width="0.84" height="0.84"/><rect x="210.5" y="304.5" width="0.84" height="0.84"/><rect x="207.2" y="293.1" width="0.84" height="0.84"/><rect x="180.2" y="296.8" width="0.84" height="0.84"/><rect x="225.9" y="268.7" width="0.84" height="0.84"/><rect x="217.8" y="270.3" width="0.84" height="0.84"/><rect x="203.5" y="318.7" width="0.84" height="0.84"/><rect x="182.9" y="295.3" width="0.84" height="0.84"/><rect x="230.6" y="290.3" width="0.84" height="0.84"/><rect x="209.0" y="264.7" width="0.84" height="0.84"/><rect x="199.9" y="292.0" width="0.84" height="0.84"/><rect x="241.5" y="253.0" width="0.84" height="0.84"/><rect x="239.5" y="267.3" width="0.84" height="0.84"/><rect x="241.0" y="279.4" width="0.84" height="0.84"/><rect x="218.9" y="270.4" width="0.84" height="0.84"/><rect x="185.2" y="309.6" width="0.84" height="0.84"/><rect x="210.9" y="310.7" width="0.84" height="0.84"/><rect x="240.6" y="267.9" width="0.84" height="0.84"/><rect x="215.7" y="277.3" width="0.84" height="0.84"/><rect x="193.7" y="291.6" width="0.84" height="0.84"/><rect x="216.0" y="272.5" width="0.84" height="0.84"/><rect x="235.0" y="245.9" width="0.84" height="0.84"/><rect x="196.3" y="321.1" width="0.84" height="0.84"/><rect x="229.8" y="276.5" width="0.84" height="0.84"/><rect x="181.5" y="269.2" width="0.84" height="0.84"/><rect x="219.6" y="308.8" width="0.84" height="0.84"/><rect x="197.3" y="326.8" width="0.84" height="0.84"/><rect x="230.8" y="295.0" width="0.84" height="0.84"/><rect x="210.1" y="315.7" width="0.84" height="0.84"/><rect x="202.9" y="270.2" width="0.84" height="0.84"/><rect x="199.2" y="276.5" width="0.84" height="0.84"/><rect x="235.4" y="278.8" width="0.84" height="0.84"/><rect x="169.7" y="295.2" width="0.84" height="0.84"/><rect x="191.8" y="321.4" width="0.84" height="0.84"/><rect x="181.1" y="298.0" width="0.84" height="0.84"/><rect x="205.4" y="294.7" width="0.84" height="0.84"/><rect x="194.1" y="308.1" width="0.84" height="0.84"/><rect x="221.2" y="303.4" width="0.84" height="0.84"/><rect x="186.0" y="292.0" width="0.84" height="0.84"/><rect x="196.9" y="298.6" width="0.84" height="0.84"/><rect x="188.1" y="323.0" width="0.84" height="0.84"/><rect x="231.0" y="294.9" width="0.84" height="0.84"/><rect x="186.7" y="326.3" width="0.84" height="0.84"/><rect x="199.4" y="294.5" width="0.84" height="0.84"/><rect x="203.6" y="325.4" width="0.84" height="0.84"/><rect x="238.9" y="273.8" width="0.84" height="0.84"/><rect x="195.0" y="284.3" width="0.84" height="0.84"/><rect x="184.6" y="303.8" width="0.84" height="0.84"/><rect x="200.9" y="287.1" width="0.84" height="0.84"/><rect x="209.5" y="284.6" width="0.84" height="0.84"/><rect x="230.1" y="282.3" width="0.84" height="0.84"/><rect x="227.2" y="285.3" width="0.84" height="0.84"/><rect x="197.6" y="296.2" width="0.84" height="0.84"/><rect x="201.4" y="291.6" width="0.84" height="0.84"/><rect x="227.9" y="307.7" width="0.84" height="0.84"/><rect x="198.5" y="303.5" width="0.84" height="0.84"/><rect x="190.5" y="307.5" width="0.84" height="0.84"/><rect x="188.7" y="290.6" width="0.84" height="0.84"/><rect x="219.8" y="273.1" width="0.84" height="0.84"/><rect x="244.0" y="294.0" width="0.84" height="0.84"/><rect x="219.2" y="320.3" width="0.84" height="0.84"/><rect x="242.9" y="288.7" width="0.84" height="0.84"/><rect x="212.9" y="288.6" width="0.84" height="0.84"/><rect x="234.3" y="318.6" width="0.84" height="0.84"/><rect x="218.0" y="276.9" width="0.84" height="0.84"/><rect x="211.2" y="302.1" width="0.84" height="0.84"/><rect x="185.7" y="323.9" width="0.84" height="0.84"/><rect x="200.9" y="297.2" width="0.84" height="0.84"/><rect x="243.4" y="288.3" width="0.84" height="0.84"/><rect x="216.1" y="259.8" width="0.84" height="0.84"/><rect x="231.6" y="249.7" width="0.84" height="0.84"/><rect x="193.3" y="322.3" width="0.84" height="0.84"/><rect x="200.6" y="271.0" width="0.84" height="0.84"/><rect x="179.6" y="287.4" width="0.84" height="0.84"/><rect x="208.8" y="280.3" width="0.84" height="0.84"/><rect x="203.6" y="302.1" width="0.84" height="0.84"/><rect x="208.2" y="289.0" width="0.84" height="0.84"/><rect x="204.5" y="288.8" width="0.84" height="0.84"/><rect x="198.9" y="281.9" width="0.84" height="0.84"/><rect x="200.2" y="265.0" width="0.84" height="0.84"/><rect x="230.3" y="311.7" width="0.84" height="0.84"/><rect x="194.9" y="284.5" width="0.84" height="0.84"/><rect x="229.1" y="253.7" width="0.84" height="0.84"/><rect x="192.4" y="297.9" width="0.84" height="0.84"/><rect x="217.5" y="294.0" width="0.84" height="0.84"/><rect x="220.2" y="264.2" width="0.84" height="0.84"/><rect x="221.8" y="309.2" width="0.84" height="0.84"/><rect x="236.8" y="245.8" width="0.84" height="0.84"/><rect x="201.5" y="279.7" width="0.84" height="0.84"/><rect x="216.7" y="291.2" width="0.84" height="0.84"/><rect x="231.6" y="265.2" width="0.84" height="0.84"/><rect x="173.6" y="311.6" width="0.84" height="0.84"/><rect x="190.4" y="299.6" width="0.84" height="0.84"/><rect x="199.1" y="271.0" width="0.84" height="0.84"/><rect x="197.7" y="312.7" width="0.84" height="0.84"/><rect x="190.8" y="291.7" width="0.84" height="0.84"/><rect x="228.0" y="282.7" width="0.84" height="0.84"/><rect x="231.6" y="280.8" width="0.84" height="0.84"/><rect x="204.2" y="284.1" width="0.84" height="0.84"/><rect x="186.0" y="264.2" width="0.84" height="0.84"/><rect x="225.7" y="256.8" width="0.84" height="0.84"/><rect x="195.2" y="301.3" width="0.84" height="0.84"/><rect x="187.1" y="310.4" width="0.84" height="0.84"/><rect x="221.6" y="257.9" width="0.84" height="0.84"/><rect x="221.4" y="313.8" width="0.84" height="0.84"/><rect x="235.2" y="286.5" width="0.84" height="0.84"/><rect x="216.0" y="304.2" width="0.84" height="0.84"/><rect x="218.2" y="298.6" width="0.84" height="0.84"/><rect x="235.0" y="292.1" width="0.84" height="0.84"/><rect x="226.3" y="256.9" width="0.84" height="0.84"/><rect x="236.0" y="290.1" width="0.84" height="0.84"/><rect x="216.7" y="265.5" width="0.84" height="0.84"/><rect x="228.2" y="265.4" width="0.84" height="0.84"/><rect x="219.3" y="278.2" width="0.84" height="0.84"/><rect x="222.0" y="269.9" width="0.84" height="0.84"/><rect x="219.9" y="284.3" width="0.84" height="0.84"/><rect x="209.1" y="297.5" width="0.84" height="0.84"/><rect x="219.5" y="272.9" width="0.84" height="0.84"/><rect x="209.5" y="280.0" width="0.84" height="0.84"/><rect x="192.3" y="306.2" width="0.84" height="0.84"/><rect x="191.7" y="304.7" width="0.84" height="0.84"/><rect x="226.6" y="246.2" width="0.84" height="0.84"/><rect x="217.4" y="311.3" width="0.84" height="0.84"/><rect x="215.0" y="298.8" width="0.84" height="0.84"/><rect x="236.9" y="275.3" width="0.84" height="0.84"/><rect x="230.4" y="291.7" width="0.84" height="0.84"/><rect x="220.7" y="302.9" width="0.84" height="0.84"/><rect x="212.8" y="250.6" width="0.84" height="0.84"/><rect x="225.8" y="300.4" width="0.84" height="0.84"/><rect x="204.0" y="292.5" width="0.84" height="0.84"/><rect x="216.6" y="278.4" width="0.84" height="0.84"/><rect x="210.7" y="295.5" width="0.84" height="0.84"/><rect x="226.8" y="307.3" width="0.84" height="0.84"/><rect x="212.2" y="327.0" width="0.84" height="0.84"/><rect x="211.1" y="295.7" width="0.84" height="0.84"/><rect x="222.5" y="277.8" width="0.84" height="0.84"/><rect x="221.8" y="280.1" width="0.84" height="0.84"/><rect x="220.1" y="317.0" width="0.84" height="0.84"/><rect x="238.8" y="254.1" width="0.84" height="0.84"/><rect x="218.3" y="284.2" width="0.84" height="0.84"/><rect x="219.5" y="261.7" width="0.84" height="0.84"/><rect x="179.6" y="280.5" width="0.84" height="0.84"/><rect x="214.1" y="289.1" width="0.84" height="0.84"/><rect x="224.6" y="308.1" width="0.84" height="0.84"/><rect x="219.8" y="287.1" width="0.84" height="0.84"/><rect x="181.3" y="312.6" width="0.84" height="0.84"/><rect x="207.9" y="289.2" width="0.84" height="0.84"/><rect x="187.2" y="300.6" width="0.84" height="0.84"/><rect x="188.5" y="288.6" width="0.84" height="0.84"/><rect x="200.1" y="327.2" width="0.84" height="0.84"/><rect x="184.5" y="302.2" width="0.84" height="0.84"/><rect x="217.1" y="271.9" width="0.84" height="0.84"/><rect x="179.5" y="299.7" width="0.84" height="0.84"/><rect x="238.6" y="297.3" width="0.84" height="0.84"/><rect x="209.8" y="278.8" width="0.84" height="0.84"/><rect x="235.8" y="255.3" width="0.84" height="0.84"/><rect x="185.7" y="306.4" width="0.84" height="0.84"/><rect x="235.5" y="305.1" width="0.84" height="0.84"/><rect x="213.3" y="276.4" width="0.84" height="0.84"/><rect x="177.8" y="290.0" width="0.84" height="0.84"/><rect x="183.5" y="300.3" width="0.84" height="0.84"/><rect x="215.3" y="253.4" width="0.84" height="0.84"/><rect x="227.4" y="281.3" width="0.84" height="0.84"/><rect x="219.9" y="299.6" width="0.84" height="0.84"/><rect x="189.8" y="291.7" width="0.84" height="0.84"/><rect x="222.6" y="318.2" width="0.84" height="0.84"/><rect x="210.3" y="279.0" width="0.84" height="0.84"/><rect x="236.2" y="247.9" width="0.84" height="0.84"/><rect x="203.9" y="295.8" width="0.84" height="0.84"/><rect x="204.4" y="265.5" width="0.84" height="0.84"/><rect x="191.3" y="324.7" width="0.84" height="0.84"/><rect x="223.8" y="293.0" width="0.84" height="0.84"/><rect x="215.3" y="264.3" width="0.84" height="0.84"/><rect x="202.8" y="288.2" width="0.84" height="0.84"/><rect x="184.2" y="320.8" width="0.84" height="0.84"/><rect x="232.5" y="275.9" width="0.84" height="0.84"/><rect x="212.3" y="323.4" width="0.84" height="0.84"/><rect x="224.8" y="280.3" width="0.84" height="0.84"/><rect x="209.6" y="256.2" width="0.84" height="0.84"/><rect x="234.5" y="286.6" width="0.84" height="0.84"/><rect x="195.3" y="282.8" width="0.84" height="0.84"/><rect x="204.6" y="305.0" width="0.84" height="0.84"/><rect x="195.7" y="323.0" width="0.84" height="0.84"/><rect x="187.4" y="301.2" width="0.84" height="0.84"/><rect x="190.5" y="294.8" width="0.84" height="0.84"/><rect x="209.9" y="298.0" width="0.84" height="0.84"/><rect x="222.2" y="300.9" width="0.84" height="0.84"/><rect x="209.1" y="318.0" width="0.84" height="0.84"/><rect x="222.7" y="283.3" width="0.84" height="0.84"/><rect x="212.9" y="275.5" width="0.84" height="0.84"/><rect x="210.3" y="289.6" width="0.84" height="0.84"/><rect x="234.0" y="284.2" width="0.84" height="0.84"/><rect x="209.9" y="279.6" width="0.84" height="0.84"/><rect x="230.9" y="275.6" width="0.84" height="0.84"/><rect x="237.7" y="297.5" width="0.84" height="0.84"/><rect x="207.4" y="296.8" width="0.84" height="0.84"/><rect x="204.1" y="304.4" width="0.84" height="0.84"/><rect x="212.2" y="297.5" width="0.84" height="0.84"/><rect x="204.3" y="261.4" width="0.84" height="0.84"/><rect x="177.7" y="280.7" width="0.84" height="0.84"/><rect x="218.3" y="291.5" width="0.84" height="0.84"/><rect x="213.1" y="273.9" width="0.84" height="0.84"/><rect x="190.3" y="314.1" width="0.84" height="0.84"/><rect x="227.4" y="242.9" width="0.84" height="0.84"/><rect x="221.4" y="272.0" width="0.84" height="0.84"/><rect x="203.2" y="290.0" width="0.84" height="0.84"/><rect x="208.0" y="297.3" width="0.84" height="0.84"/><rect x="196.4" y="308.0" width="0.84" height="0.84"/><rect x="218.0" y="288.9" width="0.84" height="0.84"/><rect x="240.7" y="268.5" width="0.84" height="0.84"/><rect x="214.2" y="300.4" width="0.84" height="0.84"/><rect x="220.5" y="275.2" width="0.84" height="0.84"/><rect x="212.5" y="262.4" width="0.84" height="0.84"/><rect x="210.2" y="308.2" width="0.84" height="0.84"/><rect x="203.4" y="300.8" width="0.84" height="0.84"/><rect x="204.7" y="287.5" width="0.84" height="0.84"/><rect x="203.3" y="302.1" width="0.84" height="0.84"/><rect x="213.6" y="288.8" width="0.84" height="0.84"/><rect x="221.2" y="279.4" width="0.84" height="0.84"/><rect x="226.5" y="322.3" width="0.84" height="0.84"/><rect x="205.4" y="313.4" width="0.84" height="0.84"/><rect x="239.2" y="278.7" width="0.84" height="0.84"/><rect x="198.7" y="288.4" width="0.84" height="0.84"/><rect x="233.9" y="278.9" width="0.84" height="0.84"/><rect x="214.6" y="281.3" width="0.84" height="0.84"/><rect x="207.1" y="298.5" width="0.84" height="0.84"/><rect x="229.3" y="267.5" width="0.84" height="0.84"/><rect x="194.2" y="309.0" width="0.84" height="0.84"/><rect x="205.8" y="307.8" width="0.84" height="0.84"/><rect x="229.4" y="283.2" width="0.84" height="0.84"/><rect x="201.3" y="315.2" width="0.84" height="0.84"/><rect x="170.7" y="318.0" width="0.84" height="0.84"/><rect x="220.2" y="324.0" width="0.84" height="0.84"/><rect x="218.3" y="278.2" width="0.84" height="0.84"/><rect x="201.8" y="286.3" width="0.84" height="0.84"/><rect x="200.7" y="303.5" width="0.84" height="0.84"/><rect x="235.8" y="313.2" width="0.84" height="0.84"/><rect x="211.1" y="306.8" width="0.84" height="0.84"/><rect x="218.2" y="290.9" width="0.84" height="0.84"/><rect x="224.2" y="276.3" width="0.84" height="0.84"/><rect x="214.2" y="293.3" width="0.84" height="0.84"/><rect x="229.3" y="280.0" width="0.84" height="0.84"/><rect x="211.6" y="293.2" width="0.84" height="0.84"/><rect x="235.6" y="279.1" width="0.84" height="0.84"/><rect x="200.2" y="313.3" width="0.84" height="0.84"/><rect x="224.1" y="291.2" width="0.84" height="0.84"/><rect x="210.8" y="283.2" width="0.84" height="0.84"/><rect x="194.1" y="326.2" width="0.84" height="0.84"/><rect x="220.9" y="279.2" width="0.84" height="0.84"/><rect x="212.5" y="299.2" width="0.84" height="0.84"/><rect x="214.8" y="270.4" width="0.84" height="0.84"/><rect x="200.0" y="302.8" width="0.84" height="0.84"/><rect x="216.4" y="262.7" width="0.84" height="0.84"/><rect x="237.1" y="275.3" width="0.84" height="0.84"/><rect x="207.4" y="299.2" width="0.84" height="0.84"/><rect x="227.5" y="273.1" width="0.84" height="0.84"/><rect x="216.8" y="285.6" width="0.84" height="0.84"/><rect x="229.2" y="280.5" width="0.84" height="0.84"/><rect x="210.1" y="290.5" width="0.84" height="0.84"/><rect x="231.8" y="290.5" width="0.84" height="0.84"/><rect x="226.9" y="287.3" width="0.84" height="0.84"/><rect x="200.6" y="296.0" width="0.84" height="0.84"/><rect x="186.6" y="300.2" width="0.84" height="0.84"/><rect x="223.8" y="304.2" width="0.84" height="0.84"/></g>
<g fill="#4d62bd" opacity="0.8"><rect x="177.5" y="305.6" width="0.84" height="0.84"/><rect x="202.6" y="315.3" width="0.84" height="0.84"/><rect x="198.9" y="274.4" width="0.84" height="0.84"/><rect x="182.5" y="319.9" width="0.84" height="0.84"/><rect x="176.5" y="315.8" width="0.84" height="0.84"/><rect x="210.7" y="310.7" width="0.84" height="0.84"/><rect x="202.3" y="295.3" width="0.84" height="0.84"/><rect x="176.5" y="298.6" width="0.84" height="0.84"/><rect x="187.8" y="299.3" width="0.84" height="0.84"/><rect x="197.7" y="298.0" width="0.84" height="0.84"/><rect x="192.1" y="305.9" width="0.84" height="0.84"/><rect x="189.9" y="325.8" width="0.84" height="0.84"/><rect x="194.9" y="301.2" width="0.84" height="0.84"/><rect x="187.7" y="291.2" width="0.84" height="0.84"/><rect x="204.8" y="302.1" width="0.84" height="0.84"/><rect x="178.1" y="292.1" width="0.84" height="0.84"/><rect x="188.5" y="293.8" width="0.84" height="0.84"/><rect x="201.9" y="283.7" width="0.84" height="0.84"/><rect x="195.4" y="302.0" width="0.84" height="0.84"/><rect x="177.0" y="300.7" width="0.84" height="0.84"/><rect x="189.0" y="307.0" width="0.84" height="0.84"/><rect x="185.0" y="304.2" width="0.84" height="0.84"/><rect x="171.7" y="284.8" width="0.84" height="0.84"/><rect x="198.6" y="314.6" width="0.84" height="0.84"/><rect x="189.9" y="291.6" width="0.84" height="0.84"/><rect x="201.9" y="270.7" width="0.84" height="0.84"/><rect x="181.2" y="309.4" width="0.84" height="0.84"/><rect x="197.2" y="285.5" width="0.84" height="0.84"/><rect x="169.2" y="320.3" width="0.84" height="0.84"/><rect x="191.7" y="287.5" width="0.84" height="0.84"/><rect x="190.6" y="312.6" width="0.84" height="0.84"/><rect x="161.5" y="315.5" width="0.84" height="0.84"/><rect x="198.1" y="270.9" width="0.84" height="0.84"/><rect x="198.5" y="275.1" width="0.84" height="0.84"/><rect x="202.5" y="305.6" width="0.84" height="0.84"/><rect x="214.8" y="291.5" width="0.84" height="0.84"/><rect x="190.1" y="314.7" width="0.84" height="0.84"/><rect x="183.0" y="290.1" width="0.84" height="0.84"/><rect x="185.9" y="299.0" width="0.84" height="0.84"/><rect x="178.1" y="306.8" width="0.84" height="0.84"/><rect x="196.0" y="301.0" width="0.84" height="0.84"/><rect x="208.7" y="295.4" width="0.84" height="0.84"/><rect x="204.4" y="292.3" width="0.84" height="0.84"/><rect x="198.3" y="272.9" width="0.84" height="0.84"/><rect x="192.2" y="297.5" width="0.84" height="0.84"/><rect x="184.6" y="291.5" width="0.84" height="0.84"/><rect x="186.2" y="289.9" width="0.84" height="0.84"/><rect x="165.9" y="291.7" width="0.84" height="0.84"/><rect x="184.0" y="292.7" width="0.84" height="0.84"/><rect x="178.4" y="298.1" width="0.84" height="0.84"/><rect x="198.6" y="296.5" width="0.84" height="0.84"/><rect x="184.6" y="319.0" width="0.84" height="0.84"/><rect x="200.7" y="312.9" width="0.84" height="0.84"/><rect x="202.7" y="295.4" width="0.84" height="0.84"/><rect x="188.6" y="315.6" width="0.84" height="0.84"/><rect x="183.9" y="298.3" width="0.84" height="0.84"/><rect x="194.2" y="305.2" width="0.84" height="0.84"/><rect x="187.0" y="313.8" width="0.84" height="0.84"/><rect x="188.0" y="310.2" width="0.84" height="0.84"/><rect x="201.8" y="309.2" width="0.84" height="0.84"/><rect x="198.1" y="283.8" width="0.84" height="0.84"/><rect x="175.6" y="291.3" width="0.84" height="0.84"/><rect x="195.2" y="321.0" width="0.84" height="0.84"/><rect x="176.6" y="304.3" width="0.84" height="0.84"/><rect x="180.6" y="289.7" width="0.84" height="0.84"/><rect x="187.0" y="309.7" width="0.84" height="0.84"/><rect x="192.3" y="316.5" width="0.84" height="0.84"/><rect x="179.2" y="312.4" width="0.84" height="0.84"/><rect x="200.2" y="301.0" width="0.84" height="0.84"/><rect x="195.2" y="292.1" width="0.84" height="0.84"/><rect x="178.0" y="294.3" width="0.84" height="0.84"/><rect x="184.7" y="323.1" width="0.84" height="0.84"/><rect x="192.2" y="304.4" width="0.84" height="0.84"/><rect x="198.2" y="289.1" width="0.84" height="0.84"/><rect x="200.1" y="305.3" width="0.84" height="0.84"/><rect x="173.3" y="308.4" width="0.84" height="0.84"/><rect x="196.1" y="306.3" width="0.84" height="0.84"/><rect x="207.4" y="294.2" width="0.84" height="0.84"/><rect x="195.6" y="310.5" width="0.84" height="0.84"/><rect x="180.1" y="316.8" width="0.84" height="0.84"/><rect x="174.0" y="281.8" width="0.84" height="0.84"/><rect x="195.7" y="284.8" width="0.84" height="0.84"/><rect x="188.7" y="277.0" width="0.84" height="0.84"/><rect x="190.8" y="284.1" width="0.84" height="0.84"/><rect x="193.8" y="278.5" width="0.84" height="0.84"/><rect x="194.9" y="296.3" width="0.84" height="0.84"/><rect x="190.7" y="299.1" width="0.84" height="0.84"/><rect x="191.4" y="281.5" width="0.84" height="0.84"/><rect x="161.8" y="300.5" width="0.84" height="0.84"/><rect x="179.7" y="293.6" width="0.84" height="0.84"/><rect x="194.7" y="272.2" width="0.84" height="0.84"/><rect x="181.6" y="291.5" width="0.84" height="0.84"/><rect x="178.4" y="304.6" width="0.84" height="0.84"/><rect x="188.5" y="288.5" width="0.84" height="0.84"/><rect x="179.2" y="311.3" width="0.84" height="0.84"/><rect x="182.7" y="308.2" width="0.84" height="0.84"/><rect x="194.9" y="273.5" width="0.84" height="0.84"/><rect x="178.1" y="300.0" width="0.84" height="0.84"/><rect x="193.8" y="310.9" width="0.84" height="0.84"/><rect x="198.8" y="314.5" width="0.84" height="0.84"/><rect x="185.9" y="297.1" width="0.84" height="0.84"/><rect x="198.5" y="294.0" width="0.84" height="0.84"/><rect x="201.6" y="277.8" width="0.84" height="0.84"/><rect x="197.2" y="297.6" width="0.84" height="0.84"/><rect x="168.4" y="313.7" width="0.84" height="0.84"/><rect x="193.4" y="300.3" width="0.84" height="0.84"/><rect x="178.2" y="293.5" width="0.84" height="0.84"/><rect x="206.6" y="288.4" width="0.84" height="0.84"/><rect x="176.8" y="298.2" width="0.84" height="0.84"/><rect x="185.7" y="287.2" width="0.84" height="0.84"/><rect x="180.7" y="314.7" width="0.84" height="0.84"/><rect x="174.1" y="327.4" width="0.84" height="0.84"/><rect x="184.0" y="284.7" width="0.84" height="0.84"/><rect x="198.7" y="307.9" width="0.84" height="0.84"/><rect x="178.5" y="310.5" width="0.84" height="0.84"/><rect x="169.8" y="287.1" width="0.84" height="0.84"/><rect x="202.4" y="296.4" width="0.84" height="0.84"/><rect x="175.7" y="307.2" width="0.84" height="0.84"/><rect x="200.1" y="299.7" width="0.84" height="0.84"/><rect x="170.1" y="295.2" width="0.84" height="0.84"/><rect x="194.6" y="310.8" width="0.84" height="0.84"/><rect x="210.4" y="296.5" width="0.84" height="0.84"/><rect x="184.7" y="299.5" width="0.84" height="0.84"/><rect x="203.3" y="286.8" width="0.84" height="0.84"/><rect x="204.4" y="261.5" width="0.84" height="0.84"/><rect x="198.8" y="290.5" width="0.84" height="0.84"/><rect x="195.1" y="309.6" width="0.84" height="0.84"/><rect x="177.0" y="298.8" width="0.84" height="0.84"/><rect x="192.6" y="308.2" width="0.84" height="0.84"/><rect x="179.8" y="286.1" width="0.84" height="0.84"/><rect x="187.9" y="296.9" width="0.84" height="0.84"/><rect x="173.6" y="313.0" width="0.84" height="0.84"/><rect x="184.1" y="320.1" width="0.84" height="0.84"/><rect x="199.4" y="300.3" width="0.84" height="0.84"/><rect x="198.0" y="284.4" width="0.84" height="0.84"/><rect x="186.4" y="291.9" width="0.84" height="0.84"/><rect x="176.0" y="300.2" width="0.84" height="0.84"/><rect x="188.4" y="320.1" width="0.84" height="0.84"/><rect x="179.9" y="293.5" width="0.84" height="0.84"/><rect x="194.6" y="305.7" width="0.84" height="0.84"/><rect x="190.3" y="293.4" width="0.84" height="0.84"/><rect x="195.4" y="305.0" width="0.84" height="0.84"/><rect x="169.7" y="296.3" width="0.84" height="0.84"/><rect x="174.9" y="283.5" width="0.84" height="0.84"/><rect x="191.6" y="300.8" width="0.84" height="0.84"/><rect x="191.3" y="287.7" width="0.84" height="0.84"/><rect x="187.8" y="287.2" width="0.84" height="0.84"/><rect x="194.2" y="309.6" width="0.84" height="0.84"/><rect x="209.3" y="317.7" width="0.84" height="0.84"/><rect x="181.1" y="293.6" width="0.84" height="0.84"/><rect x="179.7" y="304.3" width="0.84" height="0.84"/><rect x="211.8" y="309.9" width="0.84" height="0.84"/><rect x="165.8" y="282.4" width="0.84" height="0.84"/><rect x="175.8" y="307.2" width="0.84" height="0.84"/><rect x="190.0" y="304.2" width="0.84" height="0.84"/><rect x="209.6" y="288.4" width="0.84" height="0.84"/><rect x="180.7" y="327.5" width="0.84" height="0.84"/><rect x="193.8" y="289.1" width="0.84" height="0.84"/><rect x="167.7" y="278.7" width="0.84" height="0.84"/><rect x="163.1" y="301.0" width="0.84" height="0.84"/><rect x="190.5" y="313.9" width="0.84" height="0.84"/><rect x="188.5" y="290.3" width="0.84" height="0.84"/><rect x="181.8" y="326.6" width="0.84" height="0.84"/><rect x="170.6" y="302.4" width="0.84" height="0.84"/><rect x="190.3" y="308.6" width="0.84" height="0.84"/><rect x="185.5" y="307.0" width="0.84" height="0.84"/></g>
<g fill="#4d62bd" opacity="0.8"><rect x="223.2" y="260.8" width="0.84" height="0.84"/><rect x="210.4" y="260.5" width="0.84" height="0.84"/><rect x="205.4" y="260.3" width="0.84" height="0.84"/><rect x="212.0" y="263.7" width="0.84" height="0.84"/><rect x="228.4" y="272.5" width="0.84" height="0.84"/><rect x="210.5" y="266.8" width="0.84" height="0.84"/><rect x="217.9" y="268.1" width="0.84" height="0.84"/><rect x="215.2" y="264.1" width="0.84" height="0.84"/><rect x="210.3" y="255.7" width="0.84" height="0.84"/><rect x="223.7" y="272.4" width="0.84" height="0.84"/><rect x="221.6" y="265.5" width="0.84" height="0.84"/><rect x="217.7" y="258.4" width="0.84" height="0.84"/><rect x="197.2" y="267.3" width="0.84" height="0.84"/><rect x="217.0" y="257.6" width="0.84" height="0.84"/><rect x="205.4" y="272.2" width="0.84" height="0.84"/><rect x="197.0" y="276.1" width="0.84" height="0.84"/><rect x="221.4" y="281.0" width="0.84" height="0.84"/><rect x="207.8" y="261.8" width="0.84" height="0.84"/><rect x="209.9" y="263.2" width="0.84" height="0.84"/><rect x="212.9" y="256.0" width="0.84" height="0.84"/><rect x="225.7" y="255.7" width="0.84" height="0.84"/><rect x="209.9" y="266.4" width="0.84" height="0.84"/><rect x="209.6" y="258.5" width="0.84" height="0.84"/><rect x="218.6" y="259.1" width="0.84" height="0.84"/><rect x="202.5" y="261.2" width="0.84" height="0.84"/><rect x="212.8" y="275.6" width="0.84" height="0.84"/><rect x="204.0" y="269.8" width="0.84" height="0.84"/><rect x="207.1" y="259.2" width="0.84" height="0.84"/><rect x="211.7" y="264.2" width="0.84" height="0.84"/><rect x="223.6" y="276.0" width="0.84" height="0.84"/><rect x="208.6" y="272.6" width="0.84" height="0.84"/><rect x="225.0" y="268.5" width="0.84" height="0.84"/><rect x="207.4" y="269.2" width="0.84" height="0.84"/><rect x="213.9" y="264.8" width="0.84" height="0.84"/><rect x="212.3" y="267.3" width="0.84" height="0.84"/><rect x="226.2" y="271.0" width="0.84" height="0.84"/><rect x="212.9" y="270.0" width="0.84" height="0.84"/><rect x="229.5" y="254.5" width="0.84" height="0.84"/><rect x="229.7" y="251.3" width="0.84" height="0.84"/><rect x="220.4" y="266.8" width="0.84" height="0.84"/><rect x="229.8" y="264.2" width="0.84" height="0.84"/><rect x="210.2" y="255.6" width="0.84" height="0.84"/><rect x="202.5" y="268.1" width="0.84" height="0.84"/><rect x="212.6" y="256.3" width="0.84" height="0.84"/><rect x="220.3" y="255.9" width="0.84" height="0.84"/><rect x="210.6" y="258.3" width="0.84" height="0.84"/><rect x="231.5" y="273.7" width="0.84" height="0.84"/><rect x="213.4" y="249.4" width="0.84" height="0.84"/><rect x="217.8" y="262.6" width="0.84" height="0.84"/><rect x="218.5" y="266.5" width="0.84" height="0.84"/><rect x="211.8" y="269.4" width="0.84" height="0.84"/><rect x="223.4" y="263.7" width="0.84" height="0.84"/><rect x="210.9" y="258.2" width="0.84" height="0.84"/><rect x="221.9" y="253.2" width="0.84" height="0.84"/><rect x="213.4" y="256.0" width="0.84" height="0.84"/><rect x="201.1" y="266.8" width="0.84" height="0.84"/><rect x="214.7" y="262.3" width="0.84" height="0.84"/><rect x="223.7" y="250.0" width="0.84" height="0.84"/><rect x="214.3" y="264.3" width="0.84" height="0.84"/><rect x="223.3" y="253.3" width="0.84" height="0.84"/><rect x="222.2" y="263.8" width="0.84" height="0.84"/><rect x="228.6" y="271.1" width="0.84" height="0.84"/><rect x="220.5" y="279.2" width="0.84" height="0.84"/><rect x="215.0" y="258.6" width="0.84" height="0.84"/><rect x="211.6" y="254.5" width="0.84" height="0.84"/><rect x="214.7" y="247.0" width="0.84" height="0.84"/><rect x="214.2" y="265.4" width="0.84" height="0.84"/><rect x="224.9" y="259.2" width="0.84" height="0.84"/><rect x="228.9" y="256.8" width="0.84" height="0.84"/><rect x="213.7" y="247.0" width="0.84" height="0.84"/><rect x="207.4" y="255.7" width="0.84" height="0.84"/><rect x="229.6" y="266.1" width="0.84" height="0.84"/><rect x="204.2" y="266.2" width="0.84" height="0.84"/><rect x="219.7" y="260.2" width="0.84" height="0.84"/><rect x="215.2" y="259.6" width="0.84" height="0.84"/><rect x="209.7" y="248.2" width="0.84" height="0.84"/><rect x="214.1" y="272.0" width="0.84" height="0.84"/><rect x="229.0" y="259.8" width="0.84" height="0.84"/><rect x="207.7" y="260.3" width="0.84" height="0.84"/><rect x="223.8" y="264.7" width="0.84" height="0.84"/><rect x="209.3" y="264.8" width="0.84" height="0.84"/><rect x="213.0" y="266.0" width="0.84" height="0.84"/><rect x="211.0" y="250.5" width="0.84" height="0.84"/><rect x="215.6" y="267.9" width="0.84" height="0.84"/><rect x="204.2" y="261.2" width="0.84" height="0.84"/><rect x="223.6" y="259.1" width="0.84" height="0.84"/><rect x="208.7" y="277.8" width="0.84" height="0.84"/><rect x="223.1" y="270.0" width="0.84" height="0.84"/><rect x="205.8" y="274.7" width="0.84" height="0.84"/><rect x="198.9" y="258.0" width="0.84" height="0.84"/></g>
<path d="M240.30 269.70 C 238.50 269.22, 233.38 268.55, 230.00 268.30 C 226.62 268.05, 222.72 268.13, 220.00 268.20 C 217.28 268.27, 216.03 268.07, 213.70 268.70 C 211.37 269.33, 207.95 270.62, 206.00 272.00 C 204.05 273.38, 203.23 274.83, 202.00 277.00 C 200.77 279.17, 199.60 282.33, 198.60 285.00 C 197.60 287.67, 196.72 290.35, 196.00 293.00 C 195.28 295.65, 194.72 298.57, 194.30 300.90 C 193.88 303.23, 193.75 305.30, 193.50 307.00 C 193.25 308.70, 193.55 309.68, 192.80 311.10 C 192.05 312.52, 189.72 314.22, 189.00 315.50 C 188.28 316.78, 187.83 317.92, 188.50 318.80 C 189.17 319.68, 191.25 320.52, 193.00 320.80 C 194.75 321.08, 196.92 320.42, 199.00 320.50 C 201.08 320.58, 203.05 321.25, 205.50 321.30 C 207.95 321.35, 211.28 321.35, 213.70 320.80 C 216.12 320.25, 218.12 319.28, 220.00 318.00 C 221.88 316.72, 223.50 314.93, 225.00 313.10 C 226.50 311.27, 227.82 309.03, 229.00 307.00 C 230.18 304.97, 231.10 303.23, 232.10 300.90 C 233.10 298.57, 234.15 295.57, 235.00 293.00 C 235.85 290.43, 236.45 288.17, 237.20 285.50 C 237.95 282.83, 238.90 279.38, 239.50 277.00 C 240.10 274.62, 240.67 272.42, 240.80 271.20 C 240.93 269.98, 242.10 270.18, 240.30 269.70 Z" fill="#3a58bb" stroke="#1d3699" stroke-width="1.6"/>
<path d="M239.22 271.80 C 237.56 271.36, 232.85 270.75, 229.74 270.52 C 226.63 270.29, 223.04 270.36, 220.54 270.42 C 218.04 270.49, 216.89 270.30, 214.74 270.88 C 212.60 271.47, 209.45 272.65, 207.66 273.92 C 205.87 275.19, 205.11 276.53, 203.98 278.52 C 202.85 280.51, 201.77 283.43, 200.85 285.88 C 199.93 288.33, 199.12 290.80, 198.46 293.24 C 197.80 295.68, 197.28 298.36, 196.90 300.51 C 196.51 302.65, 196.39 304.56, 196.16 306.12 C 195.93 307.68, 196.21 308.59, 195.52 309.89 C 194.83 311.20, 192.68 312.76, 192.02 313.94 C 191.36 315.12, 190.95 316.16, 191.56 316.98 C 192.17 317.79, 194.09 318.56, 195.70 318.82 C 197.31 319.08, 199.30 318.46, 201.22 318.54 C 203.14 318.62, 204.95 319.23, 207.20 319.28 C 209.45 319.32, 212.52 319.32, 214.74 318.82 C 216.97 318.31, 218.81 317.42, 220.54 316.24 C 222.27 315.06, 223.76 313.42, 225.14 311.73 C 226.52 310.05, 227.73 307.99, 228.82 306.12 C 229.91 304.25, 230.75 302.65, 231.67 300.51 C 232.59 298.36, 233.56 295.60, 234.34 293.24 C 235.12 290.88, 235.67 288.79, 236.36 286.34 C 237.05 283.89, 237.93 280.71, 238.48 278.52 C 239.03 276.33, 239.55 274.30, 239.68 273.18 C 239.80 272.06, 240.87 272.25, 239.22 271.80 Z" fill="#7c93da" stroke="none" stroke-width="1"/>
<path d="M238.33 273.91 C 236.82 273.50, 232.52 272.94, 229.68 272.73 C 226.84 272.52, 223.56 272.59, 221.28 272.65 C 219.00 272.70, 217.95 272.54, 215.99 273.07 C 214.03 273.60, 211.16 274.68, 209.52 275.84 C 207.88 277.00, 207.20 278.22, 206.16 280.04 C 205.12 281.86, 204.14 284.52, 203.30 286.76 C 202.46 289.00, 201.72 291.25, 201.12 293.48 C 200.52 295.71, 200.04 298.16, 199.69 300.12 C 199.34 302.08, 199.23 303.81, 199.02 305.24 C 198.81 306.67, 199.06 307.49, 198.43 308.68 C 197.80 309.87, 195.84 311.30, 195.24 312.38 C 194.64 313.46, 194.26 314.41, 194.82 315.15 C 195.38 315.89, 197.13 316.59, 198.60 316.83 C 200.07 317.07, 201.89 316.51, 203.64 316.58 C 205.39 316.65, 207.04 317.21, 209.10 317.25 C 211.16 317.29, 213.96 317.29, 215.99 316.83 C 218.02 316.37, 219.70 315.56, 221.28 314.48 C 222.86 313.40, 224.22 311.90, 225.48 310.36 C 226.74 308.82, 227.85 306.95, 228.84 305.24 C 229.83 303.53, 230.60 302.08, 231.44 300.12 C 232.28 298.16, 233.17 295.64, 233.88 293.48 C 234.59 291.32, 235.10 289.42, 235.73 287.18 C 236.36 284.94, 237.16 282.04, 237.66 280.04 C 238.16 278.04, 238.64 276.19, 238.75 275.17 C 238.86 274.15, 239.84 274.31, 238.33 273.91 Z" fill="#5a76d0" stroke="none" stroke-width="1"/>
<path d="M228.98 274.82 C 230.10 275.07, 231.68 274.33, 232.59 275.03 C 233.50 275.74, 234.13 277.39, 234.45 279.04 C 234.77 280.69, 234.47 283.02, 234.51 284.95 C 234.54 286.87, 234.87 288.57, 234.66 290.58 C 234.45 292.59, 233.84 294.85, 233.26 297.01 C 232.68 299.16, 232.05 301.41, 231.20 303.51 C 230.34 305.61, 229.32 308.02, 228.14 309.61 C 226.95 311.20, 225.39 311.97, 224.10 313.03 C 222.81 314.10, 221.69 314.90, 220.40 316.01 C 219.10 317.12, 217.54 319.31, 216.32 319.71 C 215.11 320.10, 214.19 318.81, 213.13 318.38 C 212.06 317.96, 210.59 318.25, 209.92 317.16 C 209.25 316.07, 209.52 313.41, 209.12 311.84 C 208.73 310.27, 207.87 309.36, 207.58 307.72 C 207.29 306.07, 207.06 304.02, 207.37 301.97 C 207.69 299.92, 208.88 297.64, 209.46 295.41 C 210.04 293.19, 210.07 290.77, 210.86 288.64 C 211.64 286.51, 212.93 284.14, 214.17 282.61 C 215.42 281.09, 217.02 280.54, 218.32 279.50 C 219.63 278.47, 220.74 277.40, 222.00 276.40 C 223.27 275.40, 224.75 273.76, 225.91 273.49 C 227.07 273.23, 227.87 274.56, 228.98 274.82 Z" fill="#2fb0d8" stroke="none" stroke-width="1"/>
<path d="M229.51 274.00 C 230.52 273.95, 231.49 274.73, 231.97 275.92 C 232.44 277.11, 232.19 279.54, 232.36 281.14 C 232.53 282.73, 232.75 283.96, 232.97 285.48 C 233.19 286.99, 233.81 288.40, 233.67 290.22 C 233.54 292.05, 232.81 294.38, 232.18 296.43 C 231.55 298.47, 230.79 300.64, 229.89 302.48 C 228.99 304.33, 227.81 305.84, 226.77 307.51 C 225.73 309.17, 224.76 311.10, 223.66 312.45 C 222.56 313.81, 221.32 314.86, 220.18 315.65 C 219.04 316.44, 217.81 317.12, 216.82 317.18 C 215.82 317.24, 215.08 316.39, 214.22 316.01 C 213.36 315.62, 212.32 315.65, 211.65 314.89 C 210.98 314.14, 210.60 312.75, 210.18 311.50 C 209.75 310.25, 209.28 308.98, 209.10 307.37 C 208.92 305.77, 208.86 303.85, 209.10 301.88 C 209.35 299.92, 209.87 297.61, 210.56 295.56 C 211.25 293.52, 212.31 291.49, 213.24 289.61 C 214.17 287.74, 215.11 285.87, 216.14 284.30 C 217.17 282.73, 218.33 281.31, 219.43 280.21 C 220.53 279.10, 221.66 278.35, 222.73 277.68 C 223.81 277.02, 224.75 276.82, 225.87 276.21 C 227.00 275.60, 228.49 274.04, 229.51 274.00 Z" fill="#1f9d4a" stroke="none" stroke-width="1"/>
<path d="M228.44 277.47 C 229.16 277.52, 229.97 277.58, 230.45 278.24 C 230.94 278.90, 231.11 280.27, 231.36 281.41 C 231.62 282.55, 231.94 283.65, 231.97 285.08 C 232.00 286.51, 231.91 288.27, 231.55 289.99 C 231.19 291.71, 230.40 293.66, 229.81 295.40 C 229.22 297.13, 228.63 298.64, 228.03 300.41 C 227.43 302.19, 226.99 304.55, 226.21 306.03 C 225.44 307.52, 224.29 308.30, 223.37 309.32 C 222.46 310.34, 221.64 311.13, 220.71 312.14 C 219.78 313.15, 218.61 315.02, 217.79 315.37 C 216.97 315.72, 216.47 314.56, 215.78 314.25 C 215.09 313.95, 214.14 314.28, 213.66 313.56 C 213.18 312.85, 213.13 311.20, 212.92 309.97 C 212.71 308.74, 212.31 307.68, 212.39 306.16 C 212.46 304.65, 213.10 302.62, 213.37 300.89 C 213.65 299.17, 213.65 297.59, 214.04 295.82 C 214.43 294.05, 215.02 291.97, 215.73 290.26 C 216.45 288.55, 217.46 287.08, 218.33 285.54 C 219.20 284.01, 220.05 282.29, 220.96 281.06 C 221.86 279.83, 222.90 278.69, 223.77 278.16 C 224.63 277.64, 225.36 278.03, 226.14 277.92 C 226.92 277.80, 227.73 277.41, 228.44 277.47 Z" fill="#e9e62e" stroke="none" stroke-width="1"/>
<path d="M227.87 279.39 C 228.30 279.72, 228.65 280.23, 229.00 280.77 C 229.35 281.31, 229.82 281.69, 229.96 282.62 C 230.11 283.55, 229.98 285.03, 229.87 286.35 C 229.77 287.66, 229.55 289.07, 229.33 290.50 C 229.12 291.93, 228.91 293.37, 228.57 294.94 C 228.24 296.51, 227.87 298.32, 227.32 299.90 C 226.77 301.48, 225.99 303.04, 225.28 304.44 C 224.57 305.83, 223.80 307.31, 223.08 308.26 C 222.36 309.21, 221.66 309.46, 220.96 310.12 C 220.26 310.78, 219.47 311.93, 218.87 312.22 C 218.26 312.52, 217.76 312.17, 217.31 311.89 C 216.85 311.61, 216.45 311.19, 216.15 310.56 C 215.84 309.93, 215.64 309.06, 215.50 308.12 C 215.35 307.18, 215.33 306.07, 215.27 304.92 C 215.21 303.78, 214.96 302.69, 215.13 301.26 C 215.31 299.82, 215.85 297.95, 216.32 296.30 C 216.78 294.65, 217.34 292.94, 217.94 291.35 C 218.54 289.77, 219.22 288.03, 219.92 286.76 C 220.62 285.50, 221.43 284.76, 222.15 283.78 C 222.88 282.81, 223.55 281.76, 224.26 280.93 C 224.96 280.10, 225.77 279.06, 226.37 278.80 C 226.98 278.54, 227.43 279.06, 227.87 279.39 Z" fill="#f4a024" stroke="none" stroke-width="1"/>
<path d="M227.74 280.20 C 228.18 280.04, 228.52 280.39, 228.77 280.84 C 229.03 281.29, 229.17 282.06, 229.27 282.89 C 229.37 283.72, 229.49 284.64, 229.37 285.84 C 229.24 287.05, 228.81 288.69, 228.53 290.12 C 228.24 291.55, 228.12 293.05, 227.63 294.44 C 227.14 295.82, 226.15 297.05, 225.59 298.42 C 225.03 299.79, 224.76 301.21, 224.25 302.64 C 223.73 304.07, 223.08 305.94, 222.49 306.99 C 221.91 308.04, 221.33 308.25, 220.74 308.94 C 220.15 309.63, 219.36 311.13, 218.96 311.15 C 218.56 311.18, 218.66 309.41, 218.35 309.09 C 218.05 308.76, 217.36 309.61, 217.14 309.20 C 216.91 308.79, 217.07 307.44, 217.00 306.61 C 216.93 305.79, 216.67 305.28, 216.72 304.26 C 216.76 303.24, 216.91 301.86, 217.26 300.51 C 217.60 299.17, 218.34 297.58, 218.78 296.20 C 219.22 294.82, 219.46 293.55, 219.90 292.25 C 220.33 290.96, 220.87 289.83, 221.41 288.43 C 221.94 287.04, 222.52 285.01, 223.11 283.86 C 223.69 282.72, 224.40 281.89, 224.90 281.55 C 225.41 281.21, 225.64 282.03, 226.11 281.81 C 226.58 281.58, 227.30 280.36, 227.74 280.20 Z" fill="#e5262b" stroke="none" stroke-width="1"/>
<g fill="#fff" opacity="0.8"><rect x="204.8" y="314.8" width="0.8" height="0.8"/><rect x="204.1" y="300.7" width="0.8" height="0.8"/><rect x="204.2" y="302.5" width="0.8" height="0.8"/><rect x="198.3" y="288.7" width="0.8" height="0.8"/><rect x="208.3" y="305.1" width="0.8" height="0.8"/><rect x="210.8" y="316.5" width="0.8" height="0.8"/><rect x="205.6" y="282.6" width="0.8" height="0.8"/><rect x="204.4" y="278.5" width="0.8" height="0.8"/><rect x="200.4" y="277.3" width="0.8" height="0.8"/><rect x="203.2" y="311.4" width="0.8" height="0.8"/><rect x="206.0" y="297.0" width="0.8" height="0.8"/><rect x="203.4" y="287.7" width="0.8" height="0.8"/><rect x="210.9" y="311.3" width="0.8" height="0.8"/><rect x="201.4" y="285.6" width="0.8" height="0.8"/><rect x="198.0" y="308.2" width="0.8" height="0.8"/><rect x="208.9" y="292.2" width="0.8" height="0.8"/><rect x="208.9" y="276.0" width="0.8" height="0.8"/><rect x="209.7" y="295.7" width="0.8" height="0.8"/><rect x="202.6" y="279.1" width="0.8" height="0.8"/><rect x="207.9" y="287.3" width="0.8" height="0.8"/><rect x="201.7" y="316.5" width="0.8" height="0.8"/><rect x="198.7" y="286.3" width="0.8" height="0.8"/><rect x="197.8" y="309.5" width="0.8" height="0.8"/><rect x="204.8" y="294.8" width="0.8" height="0.8"/><rect x="207.2" y="281.5" width="0.8" height="0.8"/><rect x="198.6" y="293.7" width="0.8" height="0.8"/><rect x="200.8" y="316.8" width="0.8" height="0.8"/><rect x="201.3" y="313.2" width="0.8" height="0.8"/><rect x="202.5" y="311.9" width="0.8" height="0.8"/><rect x="198.4" y="317.6" width="0.8" height="0.8"/><rect x="200.6" y="308.5" width="0.8" height="0.8"/><rect x="201.1" y="279.1" width="0.8" height="0.8"/><rect x="205.2" y="286.2" width="0.8" height="0.8"/><rect x="202.2" y="295.0" width="0.8" height="0.8"/><rect x="203.8" y="300.1" width="0.8" height="0.8"/><rect x="199.6" y="282.5" width="0.8" height="0.8"/><rect x="208.4" y="286.5" width="0.8" height="0.8"/><rect x="207.4" y="315.5" width="0.8" height="0.8"/><rect x="210.3" y="313.1" width="0.8" height="0.8"/><rect x="202.9" y="280.4" width="0.8" height="0.8"/><rect x="210.5" y="286.0" width="0.8" height="0.8"/><rect x="200.6" y="310.6" width="0.8" height="0.8"/><rect x="201.1" y="283.4" width="0.8" height="0.8"/><rect x="198.0" y="285.6" width="0.8" height="0.8"/><rect x="208.9" y="301.8" width="0.8" height="0.8"/><rect x="209.8" y="284.6" width="0.8" height="0.8"/><rect x="200.8" y="294.7" width="0.8" height="0.8"/><rect x="199.5" y="291.5" width="0.8" height="0.8"/><rect x="198.8" y="291.2" width="0.8" height="0.8"/><rect x="210.7" y="303.6" width="0.8" height="0.8"/><rect x="205.2" y="281.9" width="0.8" height="0.8"/><rect x="197.3" y="314.2" width="0.8" height="0.8"/><rect x="210.5" y="276.9" width="0.8" height="0.8"/><rect x="203.8" y="306.7" width="0.8" height="0.8"/><rect x="211.0" y="279.2" width="0.8" height="0.8"/><rect x="207.3" y="313.8" width="0.8" height="0.8"/><rect x="206.9" y="309.3" width="0.8" height="0.8"/><rect x="201.9" y="304.8" width="0.8" height="0.8"/><rect x="209.2" y="293.5" width="0.8" height="0.8"/><rect x="209.1" y="300.1" width="0.8" height="0.8"/><rect x="202.4" y="300.5" width="0.8" height="0.8"/><rect x="198.1" y="302.9" width="0.8" height="0.8"/><rect x="209.3" y="306.6" width="0.8" height="0.8"/><rect x="207.3" y="300.4" width="0.8" height="0.8"/><rect x="208.7" y="279.5" width="0.8" height="0.8"/><rect x="197.4" y="301.3" width="0.8" height="0.8"/><rect x="200.2" y="305.3" width="0.8" height="0.8"/><rect x="205.6" y="314.7" width="0.8" height="0.8"/><rect x="197.2" y="288.6" width="0.8" height="0.8"/><rect x="199.8" y="283.1" width="0.8" height="0.8"/><rect x="228.5" y="300.4" width="0.7" height="0.7"/><rect x="221.1" y="308.3" width="0.7" height="0.7"/><rect x="219.2" y="300.6" width="0.7" height="0.7"/><rect x="217.2" y="292.7" width="0.7" height="0.7"/><rect x="226.9" y="309.1" width="0.7" height="0.7"/><rect x="228.1" y="291.1" width="0.7" height="0.7"/><rect x="223.3" y="288.8" width="0.7" height="0.7"/><rect x="216.2" y="294.9" width="0.7" height="0.7"/><rect x="227.4" y="306.9" width="0.7" height="0.7"/><rect x="225.4" y="310.3" width="0.7" height="0.7"/><rect x="218.4" y="283.8" width="0.7" height="0.7"/><rect x="221.2" y="287.4" width="0.7" height="0.7"/><rect x="217.4" y="292.1" width="0.7" height="0.7"/><rect x="224.0" y="294.8" width="0.7" height="0.7"/><rect x="219.0" y="306.5" width="0.7" height="0.7"/><rect x="229.7" y="293.4" width="0.7" height="0.7"/><rect x="215.2" y="279.1" width="0.7" height="0.7"/><rect x="228.0" y="279.4" width="0.7" height="0.7"/><rect x="225.3" y="297.4" width="0.7" height="0.7"/><rect x="218.9" y="304.9" width="0.7" height="0.7"/><rect x="214.3" y="282.6" width="0.7" height="0.7"/><rect x="221.3" y="278.8" width="0.7" height="0.7"/><rect x="227.3" y="286.1" width="0.7" height="0.7"/><rect x="216.3" y="279.6" width="0.7" height="0.7"/><rect x="224.1" y="293.2" width="0.7" height="0.7"/><rect x="224.1" y="300.3" width="0.7" height="0.7"/><rect x="226.9" y="310.6" width="0.7" height="0.7"/><rect x="225.0" y="284.8" width="0.7" height="0.7"/><rect x="221.6" y="284.1" width="0.7" height="0.7"/><rect x="214.2" y="294.1" width="0.7" height="0.7"/><rect x="225.4" y="284.1" width="0.7" height="0.7"/><rect x="218.4" y="289.8" width="0.7" height="0.7"/><rect x="225.2" y="295.7" width="0.7" height="0.7"/><rect x="223.8" y="303.7" width="0.7" height="0.7"/><rect x="220.3" y="304.9" width="0.7" height="0.7"/><rect x="228.5" y="281.0" width="0.7" height="0.7"/><rect x="228.9" y="302.6" width="0.7" height="0.7"/><rect x="216.1" y="293.4" width="0.7" height="0.7"/><rect x="224.0" y="308.9" width="0.7" height="0.7"/><rect x="220.0" y="297.3" width="0.7" height="0.7"/></g>
<ellipse cx="188.5" cy="311" rx="1.3" ry="2.2" fill="none" stroke="#1d3699" stroke-width="0.9"/>
<line x1="193.10" y1="237.90" x2="193.10" y2="330.20" stroke="#111" stroke-width="0.9"/>
<line x1="157.70" y1="296.30" x2="245.60" y2="296.30" stroke="#111" stroke-width="0.9"/>
<text x="160.7" y="243.7" font-size="5.6" text-anchor="start" fill="#444" textLength="16" lengthAdjust="spacingAndGlyphs">0.86%</text>
<text x="246" y="243.7" font-size="5.6" text-anchor="end" fill="#444" textLength="20" lengthAdjust="spacingAndGlyphs">52.80%</text>
<text x="160.7" y="328.1" font-size="5.6" text-anchor="start" fill="#444" textLength="16" lengthAdjust="spacingAndGlyphs">2.63%</text>
<text x="246" y="328.1" font-size="5.6" text-anchor="end" fill="#444" textLength="20" lengthAdjust="spacingAndGlyphs">43.72%</text>
<line x1="144.00" y1="350.00" x2="144.00" y2="317.00" stroke="#222" stroke-width="1"/>
<path d="M141.4 319.5 L 144 313.2 L 146.6 319.5 Z" fill="#222" stroke="none" stroke-width="1"/>
<line x1="144.00" y1="349.60" x2="187.50" y2="349.60" stroke="#222" stroke-width="1"/>
<path d="M185.5 347 L 191.5 349.6 L 185.5 352.2 Z" fill="#222" stroke="none" stroke-width="1"/>
<text x="139.2" y="335.1" font-size="9.77" text-anchor="middle" fill="#262626" textLength="21" lengthAdjust="spacingAndGlyphs" transform="rotate(-90 139.2 335.1)">CD24</text>
<text x="152.5" y="359.7" font-size="10.14" text-anchor="start" fill="#262626" textLength="23.7" lengthAdjust="spacingAndGlyphs">CD43</text>
<text x="267.9" y="210.0" font-size="16.6" text-anchor="start" fill="#231f20">E</text>
<rect x="335.10" y="237.90" width="39.40" height="106.00" fill="#f3b17c" stroke="#ec6a2e" stroke-width="1.3"/>
<line x1="354.60" y1="228.30" x2="354.60" y2="248.60" stroke="#ec6a2e" stroke-width="0.9"/>
<line x1="344.35" y1="228.30" x2="364.85" y2="228.30" stroke="#ec6a2e" stroke-width="0.9"/>
<line x1="344.35" y1="248.60" x2="364.85" y2="248.60" stroke="#ec6a2e" stroke-width="0.9"/>
<circle cx="354.60" cy="223.60" r="2.00" fill="#000" stroke="none" stroke-width="1"/>
<circle cx="354.60" cy="229.70" r="2.00" fill="#000" stroke="none" stroke-width="1"/>
<circle cx="350.70" cy="235.60" r="2.00" fill="#000" stroke="none" stroke-width="1"/>
<circle cx="358.50" cy="237.60" r="2.00" fill="#000" stroke="none" stroke-width="1"/>
<circle cx="350.70" cy="240.90" r="2.00" fill="#000" stroke="none" stroke-width="1"/>
<circle cx="350.70" cy="251.40" r="2.00" fill="#000" stroke="none" stroke-width="1"/>
<circle cx="358.50" cy="249.00" r="2.00" fill="#000" stroke="none" stroke-width="1"/>
<line x1="313.10" y1="219.50" x2="313.10" y2="344.50" stroke="#000" stroke-width="1.3"/>
<line x1="308.10" y1="220.10" x2="313.10" y2="220.10" stroke="#000" stroke-width="1.3"/>
<text x="306.5" y="223.448" font-size="9.3" text-anchor="end" fill="#111" font-weight="bold" textLength="10.13" lengthAdjust="spacingAndGlyphs">80</text>
<line x1="308.10" y1="251.05" x2="313.10" y2="251.05" stroke="#000" stroke-width="1.3"/>
<text x="306.5" y="254.398" font-size="9.3" text-anchor="end" fill="#111" font-weight="bold" textLength="10.13" lengthAdjust="spacingAndGlyphs">60</text>
<line x1="308.10" y1="282.00" x2="313.10" y2="282.00" stroke="#000" stroke-width="1.3"/>
<text x="306.5" y="285.348" font-size="9.3" text-anchor="end" fill="#111" font-weight="bold" textLength="10.13" lengthAdjust="spacingAndGlyphs">40</text>
<line x1="308.10" y1="312.95" x2="313.10" y2="312.95" stroke="#000" stroke-width="1.3"/>
<text x="306.5" y="316.298" font-size="9.3" text-anchor="end" fill="#111" font-weight="bold" textLength="10.13" lengthAdjust="spacingAndGlyphs">20</text>
<line x1="308.10" y1="343.90" x2="313.10" y2="343.90" stroke="#000" stroke-width="1.3"/>
<text x="306.5" y="347.248" font-size="9.3" text-anchor="end" fill="#111" font-weight="bold" textLength="5.07" lengthAdjust="spacingAndGlyphs">0</text>
<line x1="312.50" y1="343.90" x2="396.60" y2="343.90" stroke="#000" stroke-width="1.3"/>
<line x1="354.60" y1="343.90" x2="354.60" y2="348.70" stroke="#000" stroke-width="1.3"/>
<text x="354.3" y="360.9" font-size="10.03" text-anchor="middle" fill="#262626" textLength="54.5" lengthAdjust="spacingAndGlyphs">B220+CD19+</text>
<text x="291.3" y="282" font-size="9.77" text-anchor="middle" fill="#262626" textLength="82.5" lengthAdjust="spacingAndGlyphs" transform="rotate(-90 291.3 282)">% of &#160;CD45.2+ &#160;cells</text>
<rect x="447.70" y="255.81" width="39.20" height="89.39" fill="#58b08b" stroke="#1ca673" stroke-width="1.3"/>
<line x1="467.20" y1="253.00" x2="467.20" y2="256.50" stroke="#1ca673" stroke-width="0.8"/>
<line x1="459.20" y1="253.00" x2="475.20" y2="253.00" stroke="#1ca673" stroke-width="0.8"/>
<line x1="459.20" y1="256.50" x2="475.20" y2="256.50" stroke="#1ca673" stroke-width="0.8"/>
<circle cx="456.20" cy="254.70" r="2.00" fill="#000" stroke="none" stroke-width="1"/>
<circle cx="463.60" cy="249.90" r="2.00" fill="#000" stroke="none" stroke-width="1"/>
<circle cx="463.60" cy="256.10" r="2.00" fill="#000" stroke="none" stroke-width="1"/>
<circle cx="470.70" cy="255.70" r="2.00" fill="#000" stroke="none" stroke-width="1"/>
<circle cx="478.50" cy="252.20" r="2.00" fill="#000" stroke="none" stroke-width="1"/>
<circle cx="478.50" cy="256.90" r="2.00" fill="#000" stroke="none" stroke-width="1"/>
<circle cx="467.20" cy="268.30" r="2.00" fill="#000" stroke="none" stroke-width="1"/>
<line x1="426.10" y1="221.40" x2="426.10" y2="345.80" stroke="#000" stroke-width="1.3"/>
<line x1="421.10" y1="221.90" x2="426.10" y2="221.90" stroke="#000" stroke-width="1.3"/>
<text x="419.5" y="225.248" font-size="9.3" text-anchor="end" fill="#111" font-weight="bold" textLength="10.13" lengthAdjust="spacingAndGlyphs">80</text>
<line x1="421.10" y1="252.72" x2="426.10" y2="252.72" stroke="#000" stroke-width="1.3"/>
<text x="419.5" y="256.073" font-size="9.3" text-anchor="end" fill="#111" font-weight="bold" textLength="10.13" lengthAdjust="spacingAndGlyphs">60</text>
<line x1="421.10" y1="283.55" x2="426.10" y2="283.55" stroke="#000" stroke-width="1.3"/>
<text x="419.5" y="286.898" font-size="9.3" text-anchor="end" fill="#111" font-weight="bold" textLength="10.13" lengthAdjust="spacingAndGlyphs">40</text>
<line x1="421.10" y1="314.38" x2="426.10" y2="314.38" stroke="#000" stroke-width="1.3"/>
<text x="419.5" y="317.723" font-size="9.3" text-anchor="end" fill="#111" font-weight="bold" textLength="10.13" lengthAdjust="spacingAndGlyphs">20</text>
<line x1="421.10" y1="345.20" x2="426.10" y2="345.20" stroke="#000" stroke-width="1.3"/>
<text x="419.5" y="348.548" font-size="9.3" text-anchor="end" fill="#111" font-weight="bold" textLength="5.07" lengthAdjust="spacingAndGlyphs">0</text>
<line x1="425.50" y1="345.20" x2="504.00" y2="344.60" stroke="#000" stroke-width="1.3"/>
<line x1="467.60" y1="345.20" x2="467.60" y2="350.00" stroke="#000" stroke-width="1.3"/>
<text x="467" y="360.9" font-size="10.03" text-anchor="middle" fill="#262626" textLength="58.2" lengthAdjust="spacingAndGlyphs">CD43+CD24+</text>
<text x="436.4" y="217.5" font-size="10.03" text-anchor="start" fill="#262626" textLength="56.6" lengthAdjust="spacingAndGlyphs">B220+CD19+</text>
<text x="460.9" y="228.9" font-size="9.2" text-anchor="middle" fill="#262626">cells</text>
<text x="404.7" y="285.5" font-size="9.77" text-anchor="middle" fill="#262626" textLength="66.5" lengthAdjust="spacingAndGlyphs" transform="rotate(-90 404.7 285.5)">% of gated cells</text>
<text x="522.0" y="209.9" font-size="16.6" text-anchor="start" fill="#231f20">F</text>
<line x1="562.10" y1="223.40" x2="562.10" y2="279.20" stroke="#000" stroke-width="1.5"/>
<line x1="559.00" y1="279.20" x2="564.40" y2="279.20" stroke="#000" stroke-width="1.5"/>
<line x1="562.10" y1="289.60" x2="562.10" y2="344.90" stroke="#000" stroke-width="1.5"/>
<line x1="559.00" y1="289.60" x2="564.40" y2="289.60" stroke="#000" stroke-width="1.5"/>
<line x1="558.40" y1="223.90" x2="562.10" y2="223.90" stroke="#000" stroke-width="1.4"/>
<text x="556.6" y="227.20000000000002" font-size="9.2" text-anchor="end" fill="#111" font-weight="bold" textLength="13.5" lengthAdjust="spacingAndGlyphs">100</text>
<line x1="558.40" y1="234.97" x2="562.10" y2="234.97" stroke="#000" stroke-width="1.4"/>
<text x="556.6" y="238.27" font-size="9.2" text-anchor="end" fill="#111" font-weight="bold" textLength="9.0" lengthAdjust="spacingAndGlyphs">90</text>
<line x1="558.40" y1="246.04" x2="562.10" y2="246.04" stroke="#000" stroke-width="1.4"/>
<text x="556.6" y="249.34000000000003" font-size="9.2" text-anchor="end" fill="#111" font-weight="bold" textLength="9.0" lengthAdjust="spacingAndGlyphs">80</text>
<line x1="558.40" y1="257.11" x2="562.10" y2="257.11" stroke="#000" stroke-width="1.4"/>
<text x="556.6" y="260.41" font-size="9.2" text-anchor="end" fill="#111" font-weight="bold" textLength="9.0" lengthAdjust="spacingAndGlyphs">70</text>
<line x1="558.40" y1="268.18" x2="562.10" y2="268.18" stroke="#000" stroke-width="1.4"/>
<text x="556.6" y="271.48" font-size="9.2" text-anchor="end" fill="#111" font-weight="bold" textLength="9.0" lengthAdjust="spacingAndGlyphs">60</text>
<line x1="558.40" y1="279.25" x2="562.10" y2="279.25" stroke="#000" stroke-width="1.4"/>
<text x="556.6" y="282.55" font-size="9.2" text-anchor="end" fill="#111" font-weight="bold" textLength="9.0" lengthAdjust="spacingAndGlyphs">50</text>
<line x1="558.40" y1="289.40" x2="562.10" y2="289.40" stroke="#000" stroke-width="1.4"/>
<text x="556.6" y="292.7" font-size="9.2" text-anchor="end" fill="#111" font-weight="bold" textLength="9.0" lengthAdjust="spacingAndGlyphs">20</text>
<line x1="558.40" y1="303.15" x2="562.10" y2="303.15" stroke="#000" stroke-width="1.4"/>
<text x="556.6" y="306.45" font-size="9.2" text-anchor="end" fill="#111" font-weight="bold" textLength="9.0" lengthAdjust="spacingAndGlyphs">15</text>
<line x1="558.40" y1="316.90" x2="562.10" y2="316.90" stroke="#000" stroke-width="1.4"/>
<text x="556.6" y="320.2" font-size="9.2" text-anchor="end" fill="#111" font-weight="bold" textLength="9.0" lengthAdjust="spacingAndGlyphs">10</text>
<line x1="558.40" y1="330.65" x2="562.10" y2="330.65" stroke="#000" stroke-width="1.4"/>
<text x="556.6" y="333.95" font-size="9.2" text-anchor="end" fill="#111" font-weight="bold" textLength="4.5" lengthAdjust="spacingAndGlyphs">5</text>
<line x1="558.40" y1="344.40" x2="562.10" y2="344.40" stroke="#000" stroke-width="1.4"/>
<text x="556.6" y="347.7" font-size="9.2" text-anchor="end" fill="#111" font-weight="bold" textLength="4.5" lengthAdjust="spacingAndGlyphs">0</text>
<line x1="561.40" y1="344.40" x2="678.40" y2="344.40" stroke="#000" stroke-width="1.5"/>
<line x1="595.50" y1="344.40" x2="595.50" y2="348.10" stroke="#000" stroke-width="1.3"/>
<line x1="646.60" y1="344.40" x2="646.60" y2="348.10" stroke="#000" stroke-width="1.3"/>
<rect x="580.30" y="340.10" width="31.40" height="4.30" fill="none" stroke="#138585" stroke-width="1.3"/>
<line x1="595.50" y1="334.20" x2="595.50" y2="342.00" stroke="#138585" stroke-width="1.1"/>
<line x1="587.25" y1="334.20" x2="603.75" y2="334.20" stroke="#138585" stroke-width="1.1"/>
<line x1="587.25" y1="342.00" x2="603.75" y2="342.00" stroke="#138585" stroke-width="1.1"/>
<circle cx="595.50" cy="332.20" r="2.00" fill="#138585" stroke="none" stroke-width="1"/>
<circle cx="591.00" cy="338.80" r="2.00" fill="#138585" stroke="none" stroke-width="1"/>
<circle cx="590.80" cy="344.20" r="2.00" fill="#138585" stroke="none" stroke-width="1"/>
<circle cx="599.60" cy="343.00" r="2.00" fill="#138585" stroke="none" stroke-width="1"/>
<path d="M631 278.8 L 631 234.5 L 662.3 234.5 L 662.3 278.8" fill="none" stroke="#f0883e" stroke-width="1.4"/>
<line x1="631.00" y1="290.20" x2="631.00" y2="344.40" stroke="#f0883e" stroke-width="1.4"/>
<line x1="662.30" y1="290.20" x2="662.30" y2="344.40" stroke="#f0883e" stroke-width="1.4"/>
<line x1="634.00" y1="233.80" x2="660.00" y2="233.80" stroke="#f0883e" stroke-width="1.1"/>
<rect x="630.10" y="232.40" width="3.80" height="3.80" fill="#f0883e" stroke="none" stroke-width="1"/>
<rect x="639.60" y="229.70" width="3.80" height="3.80" fill="#f0883e" stroke="none" stroke-width="1"/>
<rect x="642.60" y="231.10" width="3.80" height="3.80" fill="#f0883e" stroke="none" stroke-width="1"/>
<rect x="649.50" y="231.90" width="3.80" height="3.80" fill="#f0883e" stroke="none" stroke-width="1"/>
<rect x="659.30" y="230.10" width="3.80" height="3.80" fill="#f0883e" stroke="none" stroke-width="1"/>
<path d="M595.2 221.2 L 595.2 216.5 L 648.5 216.5 L 648.5 221.2" fill="none" stroke="#555" stroke-width="0.7"/>
<text x="621.2" y="215.2" font-size="7" text-anchor="middle" fill="#555">&#8727;</text>
<text x="582.8" y="359.3" font-size="10.03" text-anchor="start" fill="#262626" textLength="26.2" lengthAdjust="spacingAndGlyphs">B220+</text>
<text x="630.5" y="359.6" font-size="10.03" text-anchor="start" fill="#262626" textLength="35.5" lengthAdjust="spacingAndGlyphs">CD11b+</text>
<text x="540.2" y="279.2" font-size="10.29" text-anchor="middle" fill="#262626" textLength="91" lengthAdjust="spacingAndGlyphs" transform="rotate(-90 540.2 279.2)">% of &#160;CD45.2+ &#160;cells</text>
<text x="0.0" y="406.7" font-size="16.6" text-anchor="start" fill="#231f20">G</text>
<text x="56.9" y="418.0" font-size="10.03" text-anchor="start" fill="#262626" textLength="79.1" lengthAdjust="spacingAndGlyphs">CSF1R+ &#160;recipients</text>
<rect x="45.20" y="451.71" width="13.00" height="81.29" fill="#b9d4ec" stroke="#4658b2" stroke-width="1.7"/>
<rect x="67.90" y="510.66" width="12.90" height="22.34" fill="#dfc0de" stroke="#7f3b98" stroke-width="1.7"/>
<rect x="105.30" y="507.34" width="12.60" height="25.66" fill="#b9d4ec" stroke="#4658b2" stroke-width="1.7"/>
<rect x="127.90" y="461.66" width="12.90" height="71.34" fill="#dfc0de" stroke="#7f3b98" stroke-width="1.7"/>
<line x1="51.10" y1="436.40" x2="51.10" y2="468.50" stroke="#6a78c0" stroke-width="0.9"/>
<line x1="47.85" y1="436.40" x2="54.35" y2="436.40" stroke="#6a78c0" stroke-width="0.9"/>
<line x1="47.85" y1="468.50" x2="54.35" y2="468.50" stroke="#6a78c0" stroke-width="0.9"/>
<line x1="74.50" y1="495.80" x2="74.50" y2="525.40" stroke="#b48bc4" stroke-width="0.9"/>
<line x1="71.25" y1="495.80" x2="77.75" y2="495.80" stroke="#b48bc4" stroke-width="0.9"/>
<line x1="71.25" y1="525.40" x2="77.75" y2="525.40" stroke="#b48bc4" stroke-width="0.9"/>
<line x1="111.80" y1="484.30" x2="111.80" y2="507.70" stroke="#6a78c0" stroke-width="0.9"/>
<line x1="108.50" y1="484.30" x2="115.10" y2="484.30" stroke="#6a78c0" stroke-width="0.9"/>
<line x1="133.80" y1="439.10" x2="133.80" y2="484.50" stroke="#b48bc4" stroke-width="0.9"/>
<line x1="130.40" y1="439.10" x2="137.20" y2="439.10" stroke="#b48bc4" stroke-width="0.9"/>
<line x1="130.40" y1="484.50" x2="137.20" y2="484.50" stroke="#b48bc4" stroke-width="0.9"/>
<circle cx="45.70" cy="434.20" r="2.00" fill="#4658b2" stroke="none" stroke-width="1"/>
<circle cx="56.20" cy="430.10" r="2.00" fill="#4658b2" stroke="none" stroke-width="1"/>
<circle cx="51.10" cy="444.70" r="2.00" fill="#4658b2" stroke="none" stroke-width="1"/>
<circle cx="51.10" cy="499.40" r="2.00" fill="#4658b2" stroke="none" stroke-width="1"/>
<circle cx="106.50" cy="532.80" r="2.00" fill="#4658b2" stroke="none" stroke-width="1"/>
<circle cx="111.90" cy="527.70" r="2.00" fill="#4658b2" stroke="none" stroke-width="1"/>
<circle cx="116.40" cy="528.70" r="2.00" fill="#4658b2" stroke="none" stroke-width="1"/>
<circle cx="111.20" cy="439.10" r="2.00" fill="#4658b2" stroke="none" stroke-width="1"/>
<polygon points="71.30,469.86 76.10,469.86 73.70,465.54" fill="#7f3b98"/>
<polygon points="72.10,520.26 76.90,520.26 74.50,515.94" fill="#7f3b98"/>
<polygon points="66.40,532.36 71.20,532.36 68.80,528.04" fill="#7f3b98"/>
<polygon points="77.60,530.76 82.40,530.76 80.00,526.44" fill="#7f3b98"/>
<polygon points="131.10,436.86 135.90,436.86 133.50,432.54" fill="#7f3b98"/>
<polygon points="125.80,442.26 130.60,442.26 128.20,437.94" fill="#7f3b98"/>
<polygon points="136.80,445.66 141.60,445.66 139.20,441.34" fill="#7f3b98"/>
<polygon points="131.80,533.46 136.60,533.46 134.20,529.14" fill="#7f3b98"/>
<line x1="36.00" y1="421.90" x2="36.00" y2="533.60" stroke="#000" stroke-width="1.3"/>
<line x1="31.20" y1="422.40" x2="36.00" y2="422.40" stroke="#000" stroke-width="1.3"/>
<text x="29.3" y="425.352" font-size="8.2" text-anchor="end" fill="#111" font-weight="bold" textLength="13.27" lengthAdjust="spacingAndGlyphs">100</text>
<line x1="31.20" y1="444.52" x2="36.00" y2="444.52" stroke="#000" stroke-width="1.3"/>
<text x="29.3" y="447.472" font-size="8.2" text-anchor="end" fill="#111" font-weight="bold" textLength="8.84" lengthAdjust="spacingAndGlyphs">80</text>
<line x1="31.20" y1="466.64" x2="36.00" y2="466.64" stroke="#000" stroke-width="1.3"/>
<text x="29.3" y="469.592" font-size="8.2" text-anchor="end" fill="#111" font-weight="bold" textLength="8.84" lengthAdjust="spacingAndGlyphs">60</text>
<line x1="31.20" y1="488.76" x2="36.00" y2="488.76" stroke="#000" stroke-width="1.3"/>
<text x="29.3" y="491.712" font-size="8.2" text-anchor="end" fill="#111" font-weight="bold" textLength="8.84" lengthAdjust="spacingAndGlyphs">40</text>
<line x1="31.20" y1="510.88" x2="36.00" y2="510.88" stroke="#000" stroke-width="1.3"/>
<text x="29.3" y="513.832" font-size="8.2" text-anchor="end" fill="#111" font-weight="bold" textLength="8.84" lengthAdjust="spacingAndGlyphs">20</text>
<line x1="31.20" y1="533.00" x2="36.00" y2="533.00" stroke="#000" stroke-width="1.3"/>
<text x="29.3" y="535.952" font-size="8.2" text-anchor="end" fill="#111" font-weight="bold" textLength="4.42" lengthAdjust="spacingAndGlyphs">0</text>
<line x1="35.40" y1="533.00" x2="149.60" y2="532.50" stroke="#000" stroke-width="1.3"/>
<line x1="62.80" y1="533.00" x2="62.80" y2="537.50" stroke="#000" stroke-width="1.3"/>
<line x1="122.80" y1="532.50" x2="122.80" y2="537.00" stroke="#000" stroke-width="1.3"/>
<text x="62.3" y="546.9" font-size="9.3" text-anchor="middle" fill="#262626">4</text>
<text x="122.2" y="546.6" font-size="9.3" text-anchor="middle" fill="#262626">8</text>
<text x="59.9" y="504.5" font-size="9.3" text-anchor="start" fill="#262626">4</text>
<text x="117.9" y="504.7" font-size="9.3" text-anchor="start" fill="#262626">8</text>
<text x="94.1" y="557.7" font-size="10.08" text-anchor="middle" fill="#262626" textLength="93.5" lengthAdjust="spacingAndGlyphs">weeks post transplant</text>
<text x="13.6" y="479.0" font-size="9.87" text-anchor="middle" fill="#262626" textLength="77.3" lengthAdjust="spacingAndGlyphs" transform="rotate(-90 13.6 479.0)">% of CD45.2+ cells</text>
<text x="149.9" y="431.4" font-size="9.81" text-anchor="start" fill="#262626" textLength="24.5" lengthAdjust="spacingAndGlyphs">B220+</text>
<circle cx="180.50" cy="429.20" r="2.00" fill="#4658b2" stroke="none" stroke-width="1"/>
<text x="144.3" y="446.4" font-size="9.81" text-anchor="start" fill="#262626" textLength="32.3" lengthAdjust="spacingAndGlyphs">CD11b+</text>
<polygon points="178.40,446.09 182.60,446.09 180.50,442.31" fill="#7f3b98"/>
<text x="224.1" y="406.9" font-size="16.6" text-anchor="start" fill="#231f20">H</text>
<path d="M273.2 412.25999999999993 L 376.38199999999995 412.25999999999993 L 376.38199999999995 431.13767999999993 L 378.161 431.13767999999993 L 378.161 468.78 L 381.719 468.78 L 381.719 487.65767999999997 L 383.498 487.65767999999997 L 383.498 506.42231999999996 L 406.625 506.42231999999996 L 406.625 525.3" fill="none" stroke="#1b92ad" stroke-width="1.45"/>
<path d="M326.57 412.25999999999993 L 326.57 468.78 L 376.82675 468.78 L 376.82675 525.3" fill="none" stroke="#9a60b3" stroke-width="1.45"/>
<line x1="273.20" y1="400.00" x2="273.20" y2="525.90" stroke="#000" stroke-width="1.4"/>
<line x1="271.50" y1="400.96" x2="273.20" y2="400.96" stroke="#000" stroke-width="1.0"/>
<line x1="271.50" y1="406.61" x2="273.20" y2="406.61" stroke="#000" stroke-width="1.0"/>
<line x1="269.50" y1="412.26" x2="273.20" y2="412.26" stroke="#000" stroke-width="1.3"/>
<line x1="271.50" y1="417.91" x2="273.20" y2="417.91" stroke="#000" stroke-width="1.0"/>
<line x1="271.50" y1="423.56" x2="273.20" y2="423.56" stroke="#000" stroke-width="1.0"/>
<line x1="271.50" y1="429.22" x2="273.20" y2="429.22" stroke="#000" stroke-width="1.0"/>
<line x1="271.50" y1="434.87" x2="273.20" y2="434.87" stroke="#000" stroke-width="1.0"/>
<line x1="271.50" y1="440.52" x2="273.20" y2="440.52" stroke="#000" stroke-width="1.0"/>
<line x1="271.50" y1="446.17" x2="273.20" y2="446.17" stroke="#000" stroke-width="1.0"/>
<line x1="271.50" y1="451.82" x2="273.20" y2="451.82" stroke="#000" stroke-width="1.0"/>
<line x1="271.50" y1="457.48" x2="273.20" y2="457.48" stroke="#000" stroke-width="1.0"/>
<line x1="271.50" y1="463.13" x2="273.20" y2="463.13" stroke="#000" stroke-width="1.0"/>
<line x1="269.50" y1="468.78" x2="273.20" y2="468.78" stroke="#000" stroke-width="1.3"/>
<line x1="271.50" y1="474.43" x2="273.20" y2="474.43" stroke="#000" stroke-width="1.0"/>
<line x1="271.50" y1="480.08" x2="273.20" y2="480.08" stroke="#000" stroke-width="1.0"/>
<line x1="271.50" y1="485.74" x2="273.20" y2="485.74" stroke="#000" stroke-width="1.0"/>
<line x1="271.50" y1="491.39" x2="273.20" y2="491.39" stroke="#000" stroke-width="1.0"/>
<line x1="271.50" y1="497.04" x2="273.20" y2="497.04" stroke="#000" stroke-width="1.0"/>
<line x1="271.50" y1="502.69" x2="273.20" y2="502.69" stroke="#000" stroke-width="1.0"/>
<line x1="271.50" y1="508.34" x2="273.20" y2="508.34" stroke="#000" stroke-width="1.0"/>
<line x1="271.50" y1="514.00" x2="273.20" y2="514.00" stroke="#000" stroke-width="1.0"/>
<line x1="271.50" y1="519.65" x2="273.20" y2="519.65" stroke="#000" stroke-width="1.0"/>
<line x1="269.50" y1="525.30" x2="273.20" y2="525.30" stroke="#000" stroke-width="1.3"/>
<text x="266.6" y="414.85999999999996" font-size="9.6" text-anchor="end" fill="#111" font-weight="bold" textLength="13.8" lengthAdjust="spacingAndGlyphs">100</text>
<text x="266.6" y="471.38" font-size="9.6" text-anchor="end" fill="#111" font-weight="bold" textLength="9.2" lengthAdjust="spacingAndGlyphs">50</text>
<text x="266.6" y="527.9" font-size="9.6" text-anchor="end" fill="#111" font-weight="bold" textLength="4.6" lengthAdjust="spacingAndGlyphs">0</text>
<line x1="272.50" y1="525.30" x2="452.50" y2="525.30" stroke="#000" stroke-width="1.4"/>
<line x1="273.20" y1="525.30" x2="273.20" y2="530.40" stroke="#000" stroke-width="1.3"/>
<text x="273.2" y="540.6" font-size="9.6" text-anchor="middle" fill="#111" font-weight="bold" textLength="4.59" lengthAdjust="spacingAndGlyphs">0</text>
<line x1="317.67" y1="525.30" x2="317.67" y2="530.40" stroke="#000" stroke-width="1.3"/>
<text x="317.67499999999995" y="540.6" font-size="9.6" text-anchor="middle" fill="#111" font-weight="bold" textLength="9.18" lengthAdjust="spacingAndGlyphs">50</text>
<line x1="362.15" y1="525.30" x2="362.15" y2="530.40" stroke="#000" stroke-width="1.3"/>
<text x="362.15" y="540.6" font-size="9.6" text-anchor="middle" fill="#111" font-weight="bold" textLength="13.77" lengthAdjust="spacingAndGlyphs">100</text>
<line x1="406.62" y1="525.30" x2="406.62" y2="530.40" stroke="#000" stroke-width="1.3"/>
<text x="406.625" y="540.6" font-size="9.6" text-anchor="middle" fill="#111" font-weight="bold" textLength="13.77" lengthAdjust="spacingAndGlyphs">150</text>
<line x1="451.10" y1="525.30" x2="451.10" y2="530.40" stroke="#000" stroke-width="1.3"/>
<text x="451.09999999999997" y="540.6" font-size="9.6" text-anchor="middle" fill="#111" font-weight="bold" textLength="13.77" lengthAdjust="spacingAndGlyphs">200</text>
<text x="356.8" y="556.4" font-size="10.14" text-anchor="middle" fill="#444" textLength="20" lengthAdjust="spacingAndGlyphs">Days</text>
<text x="253.0" y="461.7" font-size="9.77" text-anchor="middle" fill="#444" textLength="44" lengthAdjust="spacingAndGlyphs" transform="rotate(-90 253.0 461.7)">% Survival</text>
<path d="M332.5 428.3 L 332.5 433.1 M 332.5 430.7 L 368.5 430.7 M 368.5 428.3 L 368.5 433.1" fill="none" stroke="#333" stroke-width="0.8"/>
<text x="350.2" y="432.0" font-size="11.5" text-anchor="middle" fill="#111" font-weight="bold">*</text>
<text x="353.4" y="523.5" font-size="9.4" text-anchor="start" fill="#85449c" textLength="16" lengthAdjust="spacingAndGlyphs">n=4</text>
<text x="411.8" y="523.5" font-size="9.4" text-anchor="start" fill="#1b92ad" textLength="15.7" lengthAdjust="spacingAndGlyphs">n=7</text>
<line x1="390.10" y1="427.00" x2="403.10" y2="427.00" stroke="#1b92ad" stroke-width="1.2"/>
<line x1="396.60" y1="425.00" x2="396.60" y2="427.00" stroke="#1b92ad" stroke-width="0.9"/>
<line x1="390.10" y1="443.50" x2="403.10" y2="443.50" stroke="#9a60b3" stroke-width="1.2"/>
<line x1="396.60" y1="441.50" x2="396.60" y2="443.50" stroke="#9a60b3" stroke-width="0.9"/>
<text x="413.7" y="430.6" font-size="9.9" text-anchor="start" fill="#222" textLength="72.2" lengthAdjust="spacingAndGlyphs">CSF1R- LMPPs</text>
<text x="413.7" y="446.7" font-size="9.9" text-anchor="start" fill="#222" textLength="74.7" lengthAdjust="spacingAndGlyphs">CSF1R+ LMPPs</text>
<text x="507.2" y="407.0" font-size="16.6" text-anchor="start" fill="#231f20">I</text>
<rect x="554.60" y="522.04" width="30.00" height="8.26" fill="#6b6b6b" stroke="#4a4a4a" stroke-width="0.8"/>
<rect x="600.00" y="473.54" width="29.00" height="56.76" fill="#58b08d" stroke="#12798b" stroke-width="1.4"/>
<rect x="646.30" y="462.19" width="29.00" height="68.11" fill="#b086b3" stroke="#6e2b80" stroke-width="1.4"/>
<line x1="569.60" y1="518.10" x2="569.60" y2="525.00" stroke="#333" stroke-width="0.8"/>
<line x1="562.10" y1="518.10" x2="577.10" y2="518.10" stroke="#333" stroke-width="0.8"/>
<line x1="562.10" y1="525.00" x2="577.10" y2="525.00" stroke="#333" stroke-width="0.8"/>
<line x1="614.60" y1="451.60" x2="614.60" y2="495.40" stroke="#12798b" stroke-width="1.1"/>
<line x1="606.95" y1="451.60" x2="622.25" y2="451.60" stroke="#12798b" stroke-width="1.1"/>
<line x1="606.95" y1="495.40" x2="622.25" y2="495.40" stroke="#12798b" stroke-width="1.1"/>
<line x1="660.50" y1="444.60" x2="660.50" y2="480.40" stroke="#6e2b80" stroke-width="1.1"/>
<line x1="653.00" y1="444.60" x2="668.00" y2="444.60" stroke="#6e2b80" stroke-width="1.1"/>
<line x1="653.00" y1="480.40" x2="668.00" y2="480.40" stroke="#6e2b80" stroke-width="1.1"/>
<circle cx="561.30" cy="517.70" r="2.00" fill="#000" stroke="none" stroke-width="1"/>
<circle cx="577.80" cy="520.60" r="2.00" fill="#000" stroke="none" stroke-width="1"/>
<circle cx="569.60" cy="521.30" r="2.00" fill="#000" stroke="none" stroke-width="1"/>
<circle cx="569.60" cy="526.00" r="2.00" fill="#000" stroke="none" stroke-width="1"/>
<rect x="612.45" y="442.85" width="4.30" height="4.30" fill="#12798b" stroke="none" stroke-width="1"/>
<rect x="612.45" y="455.25" width="4.30" height="4.30" fill="#12798b" stroke="none" stroke-width="1"/>
<rect x="612.45" y="475.75" width="4.30" height="4.30" fill="#12798b" stroke="none" stroke-width="1"/>
<rect x="612.45" y="486.35" width="4.30" height="4.30" fill="#12798b" stroke="none" stroke-width="1"/>
<rect x="612.45" y="496.65" width="4.30" height="4.30" fill="#12798b" stroke="none" stroke-width="1"/>
<circle cx="660.50" cy="446.80" r="2.00" fill="#6e2b80" stroke="none" stroke-width="1"/>
<circle cx="656.10" cy="457.00" r="2.00" fill="#6e2b80" stroke="none" stroke-width="1"/>
<circle cx="664.60" cy="457.00" r="2.00" fill="#6e2b80" stroke="none" stroke-width="1"/>
<circle cx="660.50" cy="488.10" r="2.00" fill="#6e2b80" stroke="none" stroke-width="1"/>
<line x1="538.70" y1="426.70" x2="538.70" y2="530.90" stroke="#000" stroke-width="1.4"/>
<line x1="535.30" y1="427.10" x2="538.70" y2="427.10" stroke="#000" stroke-width="1.4"/>
<text x="533.4000000000001" y="430.12399999999997" font-size="8.4" text-anchor="end" fill="#111" font-weight="bold" textLength="10.51" lengthAdjust="spacingAndGlyphs">1.0</text>
<line x1="535.30" y1="447.74" x2="538.70" y2="447.74" stroke="#000" stroke-width="1.4"/>
<text x="533.4000000000001" y="450.76399999999995" font-size="8.4" text-anchor="end" fill="#111" font-weight="bold" textLength="10.51" lengthAdjust="spacingAndGlyphs">0.8</text>
<line x1="535.30" y1="468.38" x2="538.70" y2="468.38" stroke="#000" stroke-width="1.4"/>
<text x="533.4000000000001" y="471.40399999999994" font-size="8.4" text-anchor="end" fill="#111" font-weight="bold" textLength="10.51" lengthAdjust="spacingAndGlyphs">0.6</text>
<line x1="535.30" y1="489.02" x2="538.70" y2="489.02" stroke="#000" stroke-width="1.4"/>
<text x="533.4000000000001" y="492.044" font-size="8.4" text-anchor="end" fill="#111" font-weight="bold" textLength="10.51" lengthAdjust="spacingAndGlyphs">0.4</text>
<line x1="535.30" y1="509.66" x2="538.70" y2="509.66" stroke="#000" stroke-width="1.4"/>
<text x="533.4000000000001" y="512.684" font-size="8.4" text-anchor="end" fill="#111" font-weight="bold" textLength="10.51" lengthAdjust="spacingAndGlyphs">0.2</text>
<line x1="535.30" y1="530.30" x2="538.70" y2="530.30" stroke="#000" stroke-width="1.4"/>
<text x="533.4000000000001" y="533.324" font-size="8.4" text-anchor="end" fill="#111" font-weight="bold" textLength="10.51" lengthAdjust="spacingAndGlyphs">0.0</text>
<line x1="538.00" y1="530.30" x2="685.00" y2="529.50" stroke="#000" stroke-width="1.4"/>
<line x1="569.60" y1="530.00" x2="569.60" y2="534.20" stroke="#000" stroke-width="1.3"/>
<line x1="615.20" y1="530.00" x2="615.20" y2="534.20" stroke="#000" stroke-width="1.3"/>
<line x1="660.60" y1="530.00" x2="660.60" y2="534.20" stroke="#000" stroke-width="1.3"/>
<text x="566.4" y="545.4" font-size="9.77" text-anchor="middle" fill="#262626" textLength="13.1" lengthAdjust="spacingAndGlyphs">ctrl</text>
<text x="613.1" y="546" font-size="10.14" text-anchor="middle" fill="#262626" textLength="30.7" lengthAdjust="spacingAndGlyphs">CSF1R-</text>
<text x="661.3" y="546" font-size="10.14" text-anchor="middle" fill="#262626" textLength="32.8" lengthAdjust="spacingAndGlyphs">CSF1R+</text>
<text x="517.3" y="480.5" font-size="9.87" text-anchor="middle" fill="#262626" textLength="46.6" lengthAdjust="spacingAndGlyphs" transform="rotate(-90 517.3 480.5)">Weight (gr)</text>
<path d="M569.8 428.3 L 569.8 432.1 M 569.8 430.1 L 660.5 429.4 L 660.5 431.8" fill="none" stroke="#666" stroke-width="0.7"/>
<path d="M569.8 437.4 L 569.8 441.6 M 569.8 439.6 L 617.4 439.2 M 617.4 437.0 L 617.4 441.4" fill="none" stroke="#666" stroke-width="0.7"/>
<text x="614.2" y="425.8" font-size="6.5" text-anchor="middle" fill="#6e2b80" font-weight="bold">*</text>
<text x="591.2" y="438.6" font-size="6.5" text-anchor="middle" fill="#12798b" font-weight="bold">*</text>
<text x="539.0" y="585.0" font-size="16.6" text-anchor="start" fill="#231f20">K</text>
<text x="585.7" y="600.6" font-size="9.27" text-anchor="start" fill="#262626" textLength="84.3" lengthAdjust="spacingAndGlyphs">CD45.2+ cells in BM</text>
<rect x="600.50" y="675.29" width="21.00" height="56.81" fill="#a6d1c6" stroke="#117a95" stroke-width="1.9"/>
<rect x="636.00" y="651.00" width="21.20" height="81.10" fill="#865a99" stroke="#6a2e86" stroke-width="1.4"/>
<line x1="611.00" y1="663.40" x2="611.00" y2="686.20" stroke="#13809a" stroke-width="1.1"/>
<line x1="605.40" y1="663.40" x2="616.60" y2="663.40" stroke="#13809a" stroke-width="1.1"/>
<line x1="605.40" y1="686.20" x2="616.60" y2="686.20" stroke="#13809a" stroke-width="1.1"/>
<circle cx="611.00" cy="652.00" r="2.00" fill="#000" stroke="none" stroke-width="1"/>
<circle cx="607.00" cy="666.50" r="2.00" fill="#000" stroke="none" stroke-width="1"/>
<circle cx="614.80" cy="663.90" r="2.00" fill="#000" stroke="none" stroke-width="1"/>
<circle cx="611.00" cy="673.90" r="2.00" fill="#000" stroke="none" stroke-width="1"/>
<circle cx="611.00" cy="719.30" r="2.00" fill="#000" stroke="none" stroke-width="1"/>
<circle cx="638.70" cy="652.00" r="2.00" fill="#000" stroke="none" stroke-width="1"/>
<circle cx="646.30" cy="649.80" r="2.00" fill="#000" stroke="none" stroke-width="1"/>
<circle cx="653.50" cy="650.00" r="2.00" fill="#000" stroke="none" stroke-width="1"/>
<line x1="587.40" y1="608.10" x2="587.40" y2="732.70" stroke="#000" stroke-width="1.2"/>
<line x1="582.60" y1="608.60" x2="587.40" y2="608.60" stroke="#000" stroke-width="1.2"/>
<text x="580.6" y="612.056" font-size="9.6" text-anchor="end" fill="#111" font-weight="bold" textLength="14.73" lengthAdjust="spacingAndGlyphs">150</text>
<line x1="582.60" y1="649.77" x2="587.40" y2="649.77" stroke="#000" stroke-width="1.2"/>
<text x="580.6" y="653.2226666666667" font-size="9.6" text-anchor="end" fill="#111" font-weight="bold" textLength="14.73" lengthAdjust="spacingAndGlyphs">100</text>
<line x1="582.60" y1="690.93" x2="587.40" y2="690.93" stroke="#000" stroke-width="1.2"/>
<text x="580.6" y="694.3893333333334" font-size="9.6" text-anchor="end" fill="#111" font-weight="bold" textLength="9.82" lengthAdjust="spacingAndGlyphs">50</text>
<line x1="582.60" y1="732.10" x2="587.40" y2="732.10" stroke="#000" stroke-width="1.2"/>
<text x="580.6" y="735.556" font-size="9.6" text-anchor="end" fill="#111" font-weight="bold" textLength="4.91" lengthAdjust="spacingAndGlyphs">0</text>
<line x1="586.80" y1="732.10" x2="670.00" y2="732.10" stroke="#000" stroke-width="1.3"/>
<line x1="611.00" y1="732.10" x2="611.00" y2="736.80" stroke="#000" stroke-width="1.5"/>
<line x1="646.10" y1="732.10" x2="646.10" y2="736.80" stroke="#000" stroke-width="1.5"/>
<text x="605.8" y="746.6" font-size="9.81" text-anchor="middle" fill="#262626" textLength="29.1" lengthAdjust="spacingAndGlyphs">CSF1R-</text>
<text x="645.0" y="746.6" font-size="9.81" text-anchor="middle" fill="#262626" textLength="32.2" lengthAdjust="spacingAndGlyphs">CSF1R+</text>
<text x="563.5999999999999" y="677" font-size="9.45" text-anchor="middle" fill="#262626" textLength="56.5" lengthAdjust="spacingAndGlyphs" transform="rotate(-90 563.5999999999999 677)">% of live cells</text>
<text x="4.9" y="584.7" font-size="16.6" text-anchor="start" fill="#231f20">J</text>
<text x="73.7" y="596.8" font-size="13.41" text-anchor="middle" fill="#222" textLength="19.8" lengthAdjust="spacingAndGlyphs">Ctrl</text>
<text x="264" y="596.8" font-size="13.41" text-anchor="middle" fill="#222" textLength="40.7" lengthAdjust="spacingAndGlyphs">CSF1R-</text>
<text x="456.4" y="598.9" font-size="13.41" text-anchor="middle" fill="#222" textLength="42.6" lengthAdjust="spacingAndGlyphs">CSF1R+</text>
<defs><clipPath id="c1"><rect x="0" y="600.5" width="173.8" height="127.9"/></clipPath><clipPath id="c2"><path d="M177.4 600.7 L 355.7 600.7 L 355.7 608 L 357.6 608 L 357.6 728.1 L 177.4 728.1 Z"/></clipPath><clipPath id="c3"><path d="M368.1 603.1 L 531.7 603.1 L 531.7 728.1 L 365.3 728.1 L 365.3 608 L 368.1 608 Z"/></clipPath><filter id="bl" x="-5%" y="-5%" width="110%" height="110%"><feGaussianBlur stdDeviation="0.55"/></filter><filter id="tex" x="0" y="0" width="100%" height="100%"><feTurbulence type="fractalNoise" baseFrequency="0.45" numOctaves="2" seed="4"/><feColorMatrix type="matrix" values="0 0 0 0 0.33  0 0 0 0 0.2  0 0 0 0 0.55  2.4 0 0 0 -1.1"/></filter><filter id="tex2" x="0" y="0" width="100%" height="100%"><feTurbulence type="fractalNoise" baseFrequency="0.6" numOctaves="2" seed="9"/><feColorMatrix type="matrix" values="0 0 0 0 0.95  0 0 0 0 0.88  0 0 0 0 0.93  0 2.4 0 0 -1.4"/></filter></defs>
<g clip-path="url(#c1)">
<rect x="0.00" y="600.50" width="173.80" height="127.90" fill="#d2cbce" stroke="none" stroke-width="1"/>
<g filter="url(#bl)">
<path d="M-2 632 L 60 608 L 100 601 L 176 604 L 176 730 L -2 730 Z" fill="#e2dcdf" stroke="none" stroke-width="1"/>
<path d="M-2 646 C 8 643.5, 20 641.2, 30 639.6 C 40 638.5, 52 637.8, 60 638.1 C 65 638.5, 68.5 641, 70.5 644 C 72.5 647, 73.5 651, 74 660 L 77 730 L -2 730 Z" fill="#bf6aae" stroke="none" stroke-width="1"/>
<path d="M75.5 652 C 76 644, 79 635, 84 628 C 89 621, 95 617, 102 614.8 C 112 612.8, 128 612.4, 142 613 C 155 614, 166 617, 176 621 L 176 730 L 79 730 L 77 690 Z" fill="#c16fb1" stroke="none" stroke-width="1"/>
<path d="M148 614 C 160 615.5, 168 618, 176 621 L 176 730 L 150 730 C 151 700, 150 650, 148 614 Z" fill="#c98dc2" stroke="none" stroke-width="1" opacity="0.85"/>
<path d="M-2 631.2 C 8 628, 20 624.5, 30 621 C 40 617.5, 50 613.5, 60 609.6 C 70 606, 82 603.5, 100 602 C 120 601.5, 140 602.5, 155 604 C 163 605, 170 606.5, 176 608 L 176 615.5 C 165 612, 150 609.5, 135 609 C 118 609, 104 609.5, 97 611.5 C 90 614.5, 84 620, 80 627 C 76 630, 70 630.5, 62 629 C 50 629.5, 40 630.2, 30 632 C 20 635, 10 637.5, -2 640.5 Z" fill="#c6449a" stroke="none" stroke-width="1"/>
<path d="M84 628 C 89 621, 95 617, 102 614.8 C 112 612.8, 128 612.4, 142 613 C 155 614, 166 617, 176 621" fill="none" stroke="#c76aa8" stroke-width="0.8"/>
<path d="M32 627.5 C 38 623.5, 46 620.5, 55 618.8 C 59 618.5, 61 620, 60 623.5 C 58 626, 52 627, 45 627.3 C 40 627.5, 35 628, 32 627.5 Z" fill="#7f63a6" stroke="none" stroke-width="1"/>
<path d="M77 611 C 84 609, 91 608.3, 96.5 608.2 C 92 612.5, 85 617.5, 78.6 620.9 C 77.5 617.5, 77 614, 77 611 Z" fill="#7f63a6" stroke="none" stroke-width="1"/>
<path d="M70 628.5 C 72 626.5, 75 626, 77 626.5 C 76 628.5, 73 630, 70 629.5 Z" fill="#7f63a6" stroke="none" stroke-width="1"/>
<circle cx="66.80" cy="618.00" r="6.30" fill="#f3eef1" stroke="none" stroke-width="1"/>
<circle cx="66.80" cy="618.00" r="6.30" fill="none" stroke="#c6449a" stroke-width="0.9"/>
<circle cx="70.00" cy="619.00" r="1.20" fill="#d05080" stroke="none" stroke-width="1"/>
<path d="M62 632 C 66 631, 72 632, 75 635 C 74 639, 72 642, 70 644 C 67 640, 64.5 636, 62 632 Z" fill="#cf3f6f" stroke="none" stroke-width="1"/>
<path d="M60 637.5 C 66 638.5, 70 642, 72.5 648 M 86 630 C 80 636, 76 641, 74 649" fill="none" stroke="#efe8ec" stroke-width="1.3"/>
<path d="M73.6 648 C 74.5 662, 75.5 690, 77 715 L 78 730" fill="none" stroke="#f3edf1" stroke-width="1.5"/>
<ellipse cx="51" cy="655" rx="1.8" ry="1.4" fill="#dcc3d8"/>
<ellipse cx="58" cy="661" rx="2.5" ry="2" fill="#dcc3d8"/>
<ellipse cx="63" cy="664" rx="2" ry="3" fill="#dcc3d8"/>
<ellipse cx="68" cy="668" rx="2.2" ry="3" fill="#dcc3d8"/>
<ellipse cx="70" cy="674" rx="1.5" ry="2.5" fill="#dcc3d8"/>
<ellipse cx="93" cy="645" rx="2.5" ry="2.5" fill="#dcc3d8"/>
<ellipse cx="96" cy="650" rx="2.5" ry="3" fill="#dcc3d8"/>
<ellipse cx="130" cy="702" rx="2" ry="2" fill="#dcc3d8"/>
<path d="M25 726 C 33 721, 45 719, 58 720.5 C 66 721.5, 72 722.5, 77 723" fill="none" stroke="#4a2a45" stroke-width="0.6"/>
<path d="M80 722 C 92 717, 105 711, 118 706 C 128 702.5, 138 703, 148 706 C 156 708, 163 712, 168 716" fill="none" stroke="#4a2a45" stroke-width="0.6"/>
<path d="M168 718 L 174 722 L 174 730 L 163 730 Z" fill="#d8d0d5" stroke="none" stroke-width="1"/>
<circle cx="164.00" cy="724.00" r="2.00" fill="#c0287a" stroke="none" stroke-width="1"/>
</g>
<clipPath id="tc1"><path d="M-2 646 C 8 643.5, 20 641.2, 30 639.6 C 40 638.5, 52 637.8, 60 638.1 C 65 638.5, 68.5 641, 70.5 644 C 72.5 647, 73.5 651, 74 660 L 77 730 L -2 730 Z"/><path d="M75.5 652 C 76 644, 79 635, 84 628 C 89 621, 95 617, 102 614.8 C 112 612.8, 128 612.4, 142 613 C 155 614, 166 617, 176 621 L 176 730 L 79 730 L 77 690 Z"/></clipPath>
<g clip-path="url(#tc1)">
<rect x="0.00" y="600.50" width="173.80" height="128.00" fill="#000" stroke="none" stroke-width="1" filter="url(#tex)" opacity="0.4"/>
<rect x="0.00" y="600.50" width="173.80" height="128.00" fill="#000" stroke="none" stroke-width="1" filter="url(#tex2)" opacity="0.3"/>
</g>
<rect x="0.00" y="600.50" width="1.20" height="18.00" fill="#f4f2f3" stroke="none" stroke-width="1"/>
<text x="48.5" y="619.8" font-size="5.0" text-anchor="middle" fill="#2a1a25">skull</text>
<text x="35.5" y="637.8" font-size="5.0" text-anchor="middle" fill="#2a1a25" textLength="43.6" lengthAdjust="spacingAndGlyphs">leptomeninges</text>
<text x="43.7" y="699.4" font-size="5.0" text-anchor="middle" fill="#2a1a25" textLength="51.7" lengthAdjust="spacingAndGlyphs">brain parenchyma</text>
<line x1="2.50" y1="725.00" x2="15.50" y2="725.00" stroke="#222" stroke-width="0.6"/>
</g>
<g clip-path="url(#c2)">
<rect x="177.00" y="600.70" width="181.00" height="128.00" fill="#cbc4c6" stroke="none" stroke-width="1"/>
<g filter="url(#bl)">
<path d="M176 609 C 181 605, 186 603, 192 601 L 200 601 C 196 608, 194 618, 195 630 C 196 642, 197.5 652, 200.5 660 C 204 672, 208 682, 213 690 C 219 702, 224 715, 228.5 730 L 176 730 Z" fill="#c8529f" stroke="none" stroke-width="1"/>
<path d="M180.5 628 C 182.0 645, 183.5 655, 184.8 662 C 186.0 672, 184 684, 186 692" fill="none" stroke="#e4d2de" stroke-width="1.3"/>
<path d="M185.5 628 C 187.0 645, 188.5 655, 189.8 662 C 191.0 672, 192 684, 194 692" fill="none" stroke="#e4d2de" stroke-width="1.3"/>
<path d="M189.8 628 C 191.3 645, 192.8 655, 194.10000000000002 662 C 195.3 672, 198 684, 200 692" fill="none" stroke="#e4d2de" stroke-width="1.3"/>
<path d="M186.5 618 C 189 630, 191 640, 193 648 C 196 660, 201 675, 207 688" fill="none" stroke="#7a4f98" stroke-width="0.8"/>
<path d="M176 686 C 182 684, 190 688, 196 695 C 201 702, 206 712, 212 730 L 176 730 Z" fill="#ddd3d9" stroke="none" stroke-width="1"/>
<path d="M176 716 C 181 714, 186 717, 189 722 L 190 730 L 176 730 Z" fill="#c64d98" stroke="none" stroke-width="1"/>
<path d="M176 686 C 179 686, 182 690, 183 696 C 180 698, 177 696, 176 694 Z" fill="#b55a99" stroke="none" stroke-width="1"/>
<path d="M192.0 700 C 194.4 709.9, 197.3 719.8, 200.0 730" fill="none" stroke="#d98cc0" stroke-width="0.7"/>
<path d="M197.0 700 C 199.4 709.9, 202.3 719.8, 205.0 730" fill="none" stroke="#d98cc0" stroke-width="0.7"/>
<path d="M358 612 L 344 612 C 352 625, 356 640, 353 655 C 349 675, 342 700, 330 730 L 358 730 Z" fill="#c8529f" stroke="none" stroke-width="1"/>
<path d="M351.0 665 C 346.8 686.5, 341.8 707.9, 337.0 730" fill="none" stroke="#e9c9dd" stroke-width="0.9"/>
<path d="M354.0 665 C 349.8 686.5, 344.8 707.9, 340.0 730" fill="none" stroke="#e9c9dd" stroke-width="0.9"/>
<path d="M356.5 665 C 352.3 686.5, 347.3 707.9, 342.5 730" fill="none" stroke="#e9c9dd" stroke-width="0.9"/>
<path d="M349 700 C 352 710, 354 720, 356 730 L 345 730 Z" fill="#dfd6db" stroke="none" stroke-width="1"/>
<path d="M176 610 C 183 605, 190 603, 200 602 L 358 602 L 358 630 C 354 623, 348 618, 340 615.5 C 325 611, 305 609, 288 611 C 283 612, 279 614, 277 617 C 275 614, 270 612, 262 612.5 C 248 611.5, 232 611.5, 220 614.5 C 208 618, 200 626, 196 634 C 194 639, 193 643, 193 645 L 191 645 C 190 632, 188 620, 184 612 Z" fill="#c24d9b" stroke="none" stroke-width="1"/>
<path d="M177 600 L 195 600 C 188 602.5, 182 605, 177 609 Z" fill="#cbc4c6" stroke="none" stroke-width="1"/>
<path d="M262 600 L 358 600 L 358 619 C 350 612, 335 607.5, 315 605 C 300 603.5, 280 602.5, 262 602 Z" fill="#cbc4c6" stroke="none" stroke-width="1"/>
<path d="M193.00 619.00 C 193.33 618.08, 196.33 615.42, 198.00 614.50 C 199.67 613.58, 202.50 613.08, 203.00 613.50 C 203.50 613.92, 202.17 615.92, 201.00 617.00 C 199.83 618.08, 197.33 619.67, 196.00 620.00 C 194.67 620.33, 192.67 619.92, 193.00 619.00 Z" fill="#7f63a6" stroke="none" stroke-width="1"/>
<path d="M207.00 610.00 C 207.50 609.42, 210.83 608.08, 212.00 608.00 C 213.17 607.92, 214.50 608.92, 214.00 609.50 C 213.50 610.08, 210.17 611.42, 209.00 611.50 C 207.83 611.58, 206.50 610.58, 207.00 610.00 Z" fill="#7f63a6" stroke="none" stroke-width="1"/>
<path d="M219.00 608.00 C 219.67 607.42, 224.33 606.08, 226.00 606.00 C 227.67 605.92, 229.67 606.92, 229.00 607.50 C 228.33 608.08, 223.67 609.42, 222.00 609.50 C 220.33 609.58, 218.33 608.58, 219.00 608.00 Z" fill="#7f63a6" stroke="none" stroke-width="1"/>
<path d="M235.00 606.00 C 235.50 605.50, 240.83 604.58, 243.00 604.50 C 245.17 604.42, 248.50 605.00, 248.00 605.50 C 247.50 606.00, 242.17 607.42, 240.00 607.50 C 237.83 607.58, 234.50 606.50, 235.00 606.00 Z" fill="#7f63a6" stroke="none" stroke-width="1"/>
<path d="M258.00 604.50 C 259.67 603.42, 263.00 603.50, 266.00 603.50 C 269.00 603.50, 273.33 604.08, 276.00 604.50 C 278.67 604.92, 280.83 604.75, 282.00 606.00 C 283.17 607.25, 283.33 610.00, 283.00 612.00 C 282.67 614.00, 281.17 616.00, 280.00 618.00 C 278.83 620.00, 277.33 622.67, 276.00 624.00 C 274.67 625.33, 273.67 626.17, 272.00 626.00 C 270.33 625.83, 268.00 624.67, 266.00 623.00 C 264.00 621.33, 261.67 618.17, 260.00 616.00 C 258.33 613.83, 256.33 611.92, 256.00 610.00 C 255.67 608.08, 256.33 605.58, 258.00 604.50 Z" fill="#7a5aa2" stroke="none" stroke-width="1"/>
<circle cx="267.50" cy="619.00" r="3.60" fill="#c44a95" stroke="none" stroke-width="1"/>
<path d="M284.00 607.00 C 286.33 605.92, 294.00 605.67, 300.00 606.00 C 306.00 606.33, 313.67 607.67, 320.00 609.00 C 326.33 610.33, 333.33 612.17, 338.00 614.00 C 342.67 615.83, 346.67 618.33, 348.00 620.00 C 349.33 621.67, 348.17 624.00, 346.00 624.00 C 343.83 624.00, 339.67 621.42, 335.00 620.00 C 330.33 618.58, 323.83 616.67, 318.00 615.50 C 312.17 614.33, 305.33 613.50, 300.00 613.00 C 294.67 612.50, 288.67 613.50, 286.00 612.50 C 283.33 611.50, 281.67 608.08, 284.00 607.00 Z" fill="#7f63a6" stroke="none" stroke-width="1"/>
<path d="M286 614 C 300 614, 320 617, 336 622 C 345 626, 352 633, 355 642 L 352 644 C 348 635, 341 629, 333 625.5 C 318 620, 300 618, 286 618.5 Z" fill="#c24d9b" stroke="none" stroke-width="1"/>
<path d="M200 652 C 198.5 640, 202 629.5, 215 622 C 227 616.5, 245 616, 262 619.5" fill="none" stroke="#9a86bc" stroke-width="4.6"/>
<path d="M198.2 652 C 196.8 640, 200.3 628, 213.5 620.5 C 226 614.8, 245 614.3, 262 617.8" fill="none" stroke="#8f72b2" stroke-width="1.4"/>
<path d="M284 620 C 300 619, 320 621, 334 627 C 344 632, 350 640, 351.5 650" fill="none" stroke="#8f72b2" stroke-width="3.0"/>
<path d="M198.5 648 C 199.5 655, 200.5 660, 201.5 663 C 204.5 673, 208.5 683, 213.5 691 C 219.5 703, 224 716, 227.5 730" fill="none" stroke="#8d5cab" stroke-width="1.6"/>
<path d="M351.5 650 C 349 675, 340 705, 331 730" fill="none" stroke="#8d5cab" stroke-width="2.0"/>
<path d="M268.00 624.00 C 269.17 622.00, 271.83 622.00, 274.00 622.00 C 276.17 622.00, 279.67 622.00, 281.00 624.00 C 282.33 626.00, 282.33 631.00, 282.00 634.00 C 281.67 637.00, 279.87 639.00, 279.00 642.00 C 278.13 645.00, 277.22 647.33, 276.80 652.00 C 276.38 656.67, 276.22 663.67, 276.50 670.00 C 276.78 676.33, 277.58 683.33, 278.50 690.00 C 279.42 696.67, 281.17 703.33, 282.00 710.00 C 282.83 716.67, 286.33 726.67, 283.50 730.00 C 280.67 733.33, 267.58 733.33, 265.00 730.00 C 262.42 726.67, 266.92 716.67, 268.00 710.00 C 269.08 703.33, 270.67 696.67, 271.50 690.00 C 272.33 683.33, 272.78 676.33, 273.00 670.00 C 273.22 663.67, 273.22 656.67, 272.80 652.00 C 272.38 647.33, 271.47 645.00, 270.50 642.00 C 269.53 639.00, 267.42 637.00, 267.00 634.00 C 266.58 631.00, 266.83 626.00, 268.00 624.00 Z" fill="#8e72ae" stroke="none" stroke-width="1"/>
<path d="M272.00 690.00 C 273.67 687.50, 276.50 687.50, 278.00 690.00 C 279.50 692.50, 280.17 698.33, 281.00 705.00 C 281.83 711.67, 285.67 725.83, 283.00 730.00 C 280.33 734.17, 267.50 734.17, 265.00 730.00 C 262.50 725.83, 266.83 711.67, 268.00 705.00 C 269.17 698.33, 270.33 692.50, 272.00 690.00 Z" fill="#5e3a8e" stroke="none" stroke-width="1"/>
<ellipse cx="277" cy="632" rx="5" ry="3.5" fill="#e6e0e4"/>
<ellipse cx="298" cy="634" rx="1.3" ry="2.6" fill="#9a80b8"/>
<ellipse cx="303" cy="636" rx="1.3" ry="2.6" fill="#9a80b8"/>
<ellipse cx="308" cy="634.5" rx="1.3" ry="2.6" fill="#9a80b8"/>
<ellipse cx="312" cy="636" rx="1.3" ry="2.6" fill="#9a80b8"/>
<circle cx="220.57" cy="677.09" r="0.60" fill="#d2558c" stroke="none" stroke-width="1"/>
<circle cx="224.88" cy="687.12" r="0.60" fill="#d2558c" stroke="none" stroke-width="1"/>
<circle cx="223.50" cy="686.12" r="0.60" fill="#d2558c" stroke="none" stroke-width="1"/>
<circle cx="205.73" cy="663.28" r="0.60" fill="#d2558c" stroke="none" stroke-width="1"/>
<circle cx="228.58" cy="672.45" r="0.60" fill="#d2558c" stroke="none" stroke-width="1"/>
<circle cx="227.52" cy="645.66" r="0.60" fill="#d2558c" stroke="none" stroke-width="1"/>
<circle cx="216.73" cy="652.33" r="0.60" fill="#d2558c" stroke="none" stroke-width="1"/>
<circle cx="218.59" cy="668.70" r="0.60" fill="#d2558c" stroke="none" stroke-width="1"/>
<circle cx="205.33" cy="650.84" r="0.60" fill="#d2558c" stroke="none" stroke-width="1"/>
<circle cx="211.99" cy="685.82" r="0.60" fill="#d2558c" stroke="none" stroke-width="1"/>
<circle cx="224.14" cy="647.98" r="0.60" fill="#d2558c" stroke="none" stroke-width="1"/>
<circle cx="224.93" cy="646.94" r="0.60" fill="#d2558c" stroke="none" stroke-width="1"/>
<circle cx="220.44" cy="646.33" r="0.60" fill="#d2558c" stroke="none" stroke-width="1"/>
<circle cx="205.04" cy="683.57" r="0.60" fill="#d2558c" stroke="none" stroke-width="1"/>
<circle cx="210.24" cy="650.77" r="0.60" fill="#d2558c" stroke="none" stroke-width="1"/>
<circle cx="229.56" cy="683.62" r="0.60" fill="#d2558c" stroke="none" stroke-width="1"/>
<circle cx="308.68" cy="637.61" r="0.60" fill="#d2558c" stroke="none" stroke-width="1"/>
<circle cx="316.18" cy="634.78" r="0.60" fill="#d2558c" stroke="none" stroke-width="1"/>
<circle cx="306.14" cy="637.41" r="0.60" fill="#d2558c" stroke="none" stroke-width="1"/>
<circle cx="320.72" cy="637.67" r="0.60" fill="#d2558c" stroke="none" stroke-width="1"/>
<circle cx="326.81" cy="630.99" r="0.60" fill="#d2558c" stroke="none" stroke-width="1"/>
<circle cx="310.84" cy="629.66" r="0.60" fill="#d2558c" stroke="none" stroke-width="1"/>
<path d="M234.00 662.00 C 234.83 658.33, 236.00 654.75, 238.00 652.00 C 240.00 649.25, 243.00 646.83, 246.00 645.50 C 249.00 644.17, 252.67 643.83, 256.00 644.00 C 259.33 644.17, 263.50 644.83, 266.00 646.50 C 268.50 648.17, 270.08 650.42, 271.00 654.00 C 271.92 657.58, 271.67 662.83, 271.50 668.00 C 271.33 673.17, 270.50 679.67, 270.00 685.00 C 269.50 690.33, 268.92 695.00, 268.50 700.00 C 268.08 705.00, 267.83 710.00, 267.50 715.00 C 267.17 720.00, 271.75 727.50, 266.50 730.00 C 261.25 732.50, 241.92 732.50, 236.00 730.00 C 230.08 727.50, 232.17 720.00, 231.00 715.00 C 229.83 710.00, 229.17 705.00, 229.00 700.00 C 228.83 695.00, 229.33 689.33, 230.00 685.00 C 230.67 680.67, 232.33 677.83, 233.00 674.00 C 233.67 670.17, 233.17 665.67, 234.00 662.00 Z" fill="#c278b6" stroke="none" stroke-width="1" stroke="#9d5fa8" stroke-width="1.1"/>
<path d="M285.00 663.00 C 285.92 659.17, 287.50 654.92, 290.00 652.00 C 292.50 649.08, 296.33 646.87, 300.00 645.50 C 303.67 644.13, 307.83 643.80, 312.00 643.80 C 316.17 643.80, 321.17 644.13, 325.00 645.50 C 328.83 646.87, 333.00 649.58, 335.00 652.00 C 337.00 654.42, 337.17 657.17, 337.00 660.00 C 336.83 662.83, 335.00 665.67, 334.00 669.00 C 333.00 672.33, 331.83 675.67, 331.00 680.00 C 330.17 684.33, 329.67 689.67, 329.00 695.00 C 328.33 700.33, 327.50 706.17, 327.00 712.00 C 326.50 717.83, 332.67 727.00, 326.00 730.00 C 319.33 733.00, 293.75 733.33, 287.00 730.00 C 280.25 726.67, 285.92 716.67, 285.50 710.00 C 285.08 703.33, 284.67 695.83, 284.50 690.00 C 284.33 684.17, 284.42 679.50, 284.50 675.00 C 284.58 670.50, 284.08 666.83, 285.00 663.00 Z" fill="#c278b6" stroke="none" stroke-width="1" stroke="#9d5fa8" stroke-width="1.1"/>
<path d="M266 690 C 265 705, 264.5 718, 264 730" fill="none" stroke="#a868b4" stroke-width="3"/>
<path d="M288 690 C 288.5 705, 289 718, 289.5 730" fill="none" stroke="#a868b4" stroke-width="3"/>
<path d="M233 681 C 240 678, 248 678, 254 680 C 258 681.5, 262 681, 266 679" fill="none" stroke="#f0e8f0" stroke-width="1.4"/>
<path d="M292 685 C 296 677, 303 671.5, 311 671 C 316 671, 318 674, 320 678 C 324 681, 328 681, 331 680" fill="none" stroke="#f0e8f0" stroke-width="1.4"/>
</g>
<clipPath id="tc2"><path d="M234.00 662.00 C 234.83 658.33, 236.00 654.75, 238.00 652.00 C 240.00 649.25, 243.00 646.83, 246.00 645.50 C 249.00 644.17, 252.67 643.83, 256.00 644.00 C 259.33 644.17, 263.50 644.83, 266.00 646.50 C 268.50 648.17, 270.08 650.42, 271.00 654.00 C 271.92 657.58, 271.67 662.83, 271.50 668.00 C 271.33 673.17, 270.50 679.67, 270.00 685.00 C 269.50 690.33, 268.92 695.00, 268.50 700.00 C 268.08 705.00, 267.83 710.00, 267.50 715.00 C 267.17 720.00, 271.75 727.50, 266.50 730.00 C 261.25 732.50, 241.92 732.50, 236.00 730.00 C 230.08 727.50, 232.17 720.00, 231.00 715.00 C 229.83 710.00, 229.17 705.00, 229.00 700.00 C 228.83 695.00, 229.33 689.33, 230.00 685.00 C 230.67 680.67, 232.33 677.83, 233.00 674.00 C 233.67 670.17, 233.17 665.67, 234.00 662.00 Z"/><path d="M285.00 663.00 C 285.92 659.17, 287.50 654.92, 290.00 652.00 C 292.50 649.08, 296.33 646.87, 300.00 645.50 C 303.67 644.13, 307.83 643.80, 312.00 643.80 C 316.17 643.80, 321.17 644.13, 325.00 645.50 C 328.83 646.87, 333.00 649.58, 335.00 652.00 C 337.00 654.42, 337.17 657.17, 337.00 660.00 C 336.83 662.83, 335.00 665.67, 334.00 669.00 C 333.00 672.33, 331.83 675.67, 331.00 680.00 C 330.17 684.33, 329.67 689.67, 329.00 695.00 C 328.33 700.33, 327.50 706.17, 327.00 712.00 C 326.50 717.83, 332.67 727.00, 326.00 730.00 C 319.33 733.00, 293.75 733.33, 287.00 730.00 C 280.25 726.67, 285.92 716.67, 285.50 710.00 C 285.08 703.33, 284.67 695.83, 284.50 690.00 C 284.33 684.17, 284.42 679.50, 284.50 675.00 C 284.58 670.50, 284.08 666.83, 285.00 663.00 Z"/></clipPath>
<g clip-path="url(#tc2)">
<rect x="177.00" y="600.70" width="181.00" height="128.00" fill="#000" stroke="none" stroke-width="1" filter="url(#tex)" opacity="0.4"/>
<rect x="177.00" y="600.70" width="181.00" height="128.00" fill="#000" stroke="none" stroke-width="1" filter="url(#tex2)" opacity="0.3"/>
</g>
<line x1="258.50" y1="625.50" x2="264.50" y2="633.80" stroke="#000" stroke-width="1.0"/>
<path d="M261.8 635.3 L 267.5 637.3 L 266.6 631.4 Z" fill="#000" stroke="none" stroke-width="1"/>
</g>
<g clip-path="url(#c3)">
<rect x="365.00" y="603.00" width="168.00" height="126.00" fill="#cbc4c6" stroke="none" stroke-width="1"/>
<g filter="url(#bl)">
<path d="M364 622 C 368 640, 372 660, 378 680 C 383 695, 389 710, 393 730 L 364 730 Z" fill="#c8529f" stroke="none" stroke-width="1"/>
<path d="M367.0 650 C 370.6 675.7, 374.9 701.5, 379.0 728" fill="none" stroke="#e9c9dd" stroke-width="0.9"/>
<path d="M370.0 650 C 373.6 675.7, 377.9 701.5, 382.0 728" fill="none" stroke="#e9c9dd" stroke-width="0.9"/>
<path d="M373.5 650 C 377.1 675.7, 381.4 701.5, 385.5 728" fill="none" stroke="#e9c9dd" stroke-width="0.9"/>
<path d="M364 708 C 366 712, 367 720, 368 730 L 364 730 Z" fill="#d7cdd2" stroke="none" stroke-width="1"/>
<path d="M534 615 L 522 640 C 520 660, 516 685, 510 705 C 508 715, 507 722, 506 730 L 534 730 Z" fill="#c8529f" stroke="none" stroke-width="1"/>
<path d="M528.0 660 C 525.0 683.1, 521.4 706.2, 518.0 730" fill="none" stroke="#e9c9dd" stroke-width="0.9"/>
<path d="M525.0 660 C 522.0 683.1, 518.4 706.2, 515.0 730" fill="none" stroke="#e9c9dd" stroke-width="0.9"/>
<path d="M522.0 660 C 519.0 683.1, 515.4 706.2, 512.0 730" fill="none" stroke="#e9c9dd" stroke-width="0.9"/>
<path d="M364 603 L 534 603 L 534 640 C 530 628, 524 619, 514 614 C 500 609, 482 608.5, 466 610.5 C 456 612, 449 615, 446 618 C 443 615, 436 612.5, 426 612 C 410 612, 395 615, 384 621 C 376 626, 370 635, 366 646 L 364 650 Z" fill="#c24d9b" stroke="none" stroke-width="1"/>
<path d="M364 603 L 402 603 C 392 605.5, 382 609, 374 613 C 370 615, 367 617, 364 619.5 Z" fill="#cbc4c6" stroke="none" stroke-width="1"/>
<path d="M510 603 L 534 603 L 534 617 C 527 611, 519 607, 510 603 Z" fill="#cbc4c6" stroke="none" stroke-width="1"/>
<path d="M366.00 632.00 C 366.00 629.83, 369.33 626.67, 371.00 625.00 C 372.67 623.33, 374.50 622.00, 376.00 622.00 C 377.50 622.00, 379.83 623.33, 380.00 625.00 C 380.17 626.67, 378.50 629.83, 377.00 632.00 C 375.50 634.17, 372.83 638.00, 371.00 638.00 C 369.17 638.00, 366.00 634.17, 366.00 632.00 Z" fill="#7f63a6" stroke="none" stroke-width="1"/>
<path d="M381.00 621.00 C 382.00 619.75, 386.83 617.67, 390.00 616.50 C 393.17 615.33, 397.00 614.33, 400.00 614.00 C 403.00 613.67, 407.33 613.75, 408.00 614.50 C 408.67 615.25, 406.67 617.33, 404.00 618.50 C 401.33 619.67, 395.33 620.58, 392.00 621.50 C 388.67 622.42, 385.83 624.08, 384.00 624.00 C 382.17 623.92, 380.00 622.25, 381.00 621.00 Z" fill="#7f63a6" stroke="none" stroke-width="1"/>
<path d="M415.00 608.00 C 417.00 607.08, 422.50 607.42, 426.00 607.50 C 429.50 607.58, 434.17 607.42, 436.00 608.50 C 437.83 609.58, 438.00 612.50, 437.00 614.00 C 436.00 615.50, 432.83 617.00, 430.00 617.50 C 427.17 618.00, 422.67 617.75, 420.00 617.00 C 417.33 616.25, 414.83 614.50, 414.00 613.00 C 413.17 611.50, 413.00 608.92, 415.00 608.00 Z" fill="#7f63a6" stroke="none" stroke-width="1"/>
<path d="M447.00 605.00 C 448.50 603.42, 454.17 604.42, 458.00 604.50 C 461.83 604.58, 468.33 604.58, 470.00 605.50 C 471.67 606.42, 470.00 608.83, 468.00 610.00 C 466.00 611.17, 461.17 611.83, 458.00 612.50 C 454.83 613.17, 450.83 615.25, 449.00 614.00 C 447.17 612.75, 445.50 606.58, 447.00 605.00 Z" fill="#7f63a6" stroke="none" stroke-width="1"/>
<path d="M492.00 607.00 C 493.17 606.33, 501.00 607.33, 505.00 608.00 C 509.00 608.67, 512.83 609.67, 516.00 611.00 C 519.17 612.33, 522.33 614.00, 524.00 616.00 C 525.67 618.00, 526.67 622.00, 526.00 623.00 C 525.33 624.00, 522.67 623.17, 520.00 622.00 C 517.33 620.83, 513.67 617.67, 510.00 616.00 C 506.33 614.33, 501.00 613.50, 498.00 612.00 C 495.00 610.50, 490.83 607.67, 492.00 607.00 Z" fill="#7f63a6" stroke="none" stroke-width="1"/>
<path d="M372 650 C 375 635, 384 625, 398 621.5 C 412 618.5, 427 620, 437 627" fill="none" stroke="#e8e2e6" stroke-width="1.6"/>
<path d="M452 624 C 462 615, 478 612, 494 612.5 C 508 613.5, 518 620, 522 633" fill="none" stroke="#e2dce0" stroke-width="2.2"/>
<path d="M373.5 660 C 375 642, 384 630, 398 625.5 C 412 621.5, 426 622.5, 435 630" fill="none" stroke="#6a4799" stroke-width="5.2"/>
<path d="M450 640 C 452 628, 462 619, 478 616.5 C 494 614.5, 509 618, 516 628 C 521 636, 523 645, 523.5 655" fill="none" stroke="#6a4799" stroke-width="5.6"/>
<path d="M377.5 668 C 377.5 650, 385 637, 398 632 C 410 628, 424 628.5, 433 636" fill="none" stroke="#ded7db" stroke-width="2.4"/>
<path d="M453 650 C 455 636, 464 626, 480 623.5 C 494 621.5, 507 626, 513 636 C 517 643, 519 650, 519 658" fill="none" stroke="#ded7db" stroke-width="2.4"/>
<path d="M434.00 628.00 C 434.50 625.00, 438.00 623.67, 440.00 622.00 C 442.00 620.33, 444.17 617.83, 446.00 618.00 C 447.83 618.17, 450.00 620.17, 451.00 623.00 C 452.00 625.83, 452.17 630.50, 452.00 635.00 C 451.83 639.50, 450.50 644.17, 450.00 650.00 C 449.50 655.83, 449.08 663.33, 449.00 670.00 C 448.92 676.67, 450.00 686.67, 449.50 690.00 C 449.00 693.33, 446.92 693.33, 446.00 690.00 C 445.08 686.67, 444.67 676.67, 444.00 670.00 C 443.33 663.33, 443.17 655.00, 442.00 650.00 C 440.83 645.00, 438.33 643.67, 437.00 640.00 C 435.67 636.33, 433.50 631.00, 434.00 628.00 Z" fill="#7c58a6" stroke="none" stroke-width="1"/>
<path d="M442.5 605 C 442.5 615, 442.5 628, 442 640" fill="none" stroke="#eee8ec" stroke-width="1.5"/>
<path d="M444.00 716.00 C 445.50 713.17, 448.00 713.00, 450.00 713.00 C 452.00 713.00, 454.50 713.17, 456.00 716.00 C 457.50 718.83, 461.50 727.67, 459.00 730.00 C 456.50 732.33, 443.50 732.33, 441.00 730.00 C 438.50 727.67, 442.50 718.83, 444.00 716.00 Z" fill="#5e3a8e" stroke="none" stroke-width="1"/>
<path d="M376.00 665.00 C 376.17 660.00, 378.00 652.83, 380.00 648.00 C 382.00 643.17, 384.67 639.00, 388.00 636.00 C 391.33 633.00, 395.67 631.17, 400.00 630.00 C 404.33 628.83, 409.83 628.50, 414.00 629.00 C 418.17 629.50, 421.83 631.00, 425.00 633.00 C 428.17 635.00, 431.08 637.33, 433.00 641.00 C 434.92 644.67, 435.83 649.83, 436.50 655.00 C 437.17 660.17, 437.00 666.17, 437.00 672.00 C 437.00 677.83, 436.67 684.00, 436.50 690.00 C 436.33 696.00, 436.42 702.67, 436.00 708.00 C 435.58 713.33, 435.33 718.50, 434.00 722.00 C 432.67 725.50, 432.67 727.83, 428.00 729.00 C 423.33 730.17, 411.00 730.83, 406.00 729.00 C 401.00 727.17, 400.17 722.00, 398.00 718.00 C 395.83 714.00, 395.00 709.67, 393.00 705.00 C 391.00 700.33, 388.33 694.50, 386.00 690.00 C 383.67 685.50, 380.67 682.17, 379.00 678.00 C 377.33 673.83, 375.83 670.00, 376.00 665.00 Z" fill="#c278b6" stroke="none" stroke-width="1" stroke="#9d5fa8" stroke-width="1.1"/>
<path d="M454.00 660.00 C 454.33 654.17, 455.00 649.67, 457.00 645.00 C 459.00 640.33, 462.33 635.50, 466.00 632.00 C 469.67 628.50, 474.50 625.50, 479.00 624.00 C 483.50 622.50, 488.50 622.33, 493.00 623.00 C 497.50 623.67, 502.33 625.50, 506.00 628.00 C 509.67 630.50, 512.67 634.33, 515.00 638.00 C 517.33 641.67, 519.33 645.50, 520.00 650.00 C 520.67 654.50, 520.00 660.00, 519.00 665.00 C 518.00 670.00, 516.17 675.00, 514.00 680.00 C 511.83 685.00, 509.17 690.33, 506.00 695.00 C 502.83 699.67, 498.83 704.50, 495.00 708.00 C 491.17 711.50, 486.50 714.67, 483.00 716.00 C 479.50 717.33, 477.00 717.33, 474.00 716.00 C 471.00 714.67, 467.67 711.50, 465.00 708.00 C 462.33 704.50, 459.67 699.67, 458.00 695.00 C 456.33 690.33, 455.67 685.83, 455.00 680.00 C 454.33 674.17, 453.67 665.83, 454.00 660.00 Z" fill="#c278b6" stroke="none" stroke-width="1" stroke="#9d5fa8" stroke-width="1.1"/>
<path d="M398 680 C 399 674, 402 669.5, 406 669 C 409 669, 410.5 672, 411 675 C 417 676, 426 678, 434 680" fill="none" stroke="#f0e8f0" stroke-width="1.3"/>
<path d="M460 688 C 466 682, 474 676.5, 483 674 C 490 675, 498 680, 505 684" fill="none" stroke="#f0e8f0" stroke-width="1.3"/>
<ellipse cx="430" cy="703" rx="2.5" ry="6" fill="#9457a6" opacity="0.7"/>
<ellipse cx="467" cy="700" rx="3" ry="5" fill="#9457a6" opacity="0.6"/>
</g>
<clipPath id="tc3"><path d="M376.00 665.00 C 376.17 660.00, 378.00 652.83, 380.00 648.00 C 382.00 643.17, 384.67 639.00, 388.00 636.00 C 391.33 633.00, 395.67 631.17, 400.00 630.00 C 404.33 628.83, 409.83 628.50, 414.00 629.00 C 418.17 629.50, 421.83 631.00, 425.00 633.00 C 428.17 635.00, 431.08 637.33, 433.00 641.00 C 434.92 644.67, 435.83 649.83, 436.50 655.00 C 437.17 660.17, 437.00 666.17, 437.00 672.00 C 437.00 677.83, 436.67 684.00, 436.50 690.00 C 436.33 696.00, 436.42 702.67, 436.00 708.00 C 435.58 713.33, 435.33 718.50, 434.00 722.00 C 432.67 725.50, 432.67 727.83, 428.00 729.00 C 423.33 730.17, 411.00 730.83, 406.00 729.00 C 401.00 727.17, 400.17 722.00, 398.00 718.00 C 395.83 714.00, 395.00 709.67, 393.00 705.00 C 391.00 700.33, 388.33 694.50, 386.00 690.00 C 383.67 685.50, 380.67 682.17, 379.00 678.00 C 377.33 673.83, 375.83 670.00, 376.00 665.00 Z"/><path d="M454.00 660.00 C 454.33 654.17, 455.00 649.67, 457.00 645.00 C 459.00 640.33, 462.33 635.50, 466.00 632.00 C 469.67 628.50, 474.50 625.50, 479.00 624.00 C 483.50 622.50, 488.50 622.33, 493.00 623.00 C 497.50 623.67, 502.33 625.50, 506.00 628.00 C 509.67 630.50, 512.67 634.33, 515.00 638.00 C 517.33 641.67, 519.33 645.50, 520.00 650.00 C 520.67 654.50, 520.00 660.00, 519.00 665.00 C 518.00 670.00, 516.17 675.00, 514.00 680.00 C 511.83 685.00, 509.17 690.33, 506.00 695.00 C 502.83 699.67, 498.83 704.50, 495.00 708.00 C 491.17 711.50, 486.50 714.67, 483.00 716.00 C 479.50 717.33, 477.00 717.33, 474.00 716.00 C 471.00 714.67, 467.67 711.50, 465.00 708.00 C 462.33 704.50, 459.67 699.67, 458.00 695.00 C 456.33 690.33, 455.67 685.83, 455.00 680.00 C 454.33 674.17, 453.67 665.83, 454.00 660.00 Z"/></clipPath>
<g clip-path="url(#tc3)">
<rect x="365.00" y="603.00" width="168.00" height="126.00" fill="#000" stroke="none" stroke-width="1" filter="url(#tex)" opacity="0.4"/>
<rect x="365.00" y="603.00" width="168.00" height="126.00" fill="#000" stroke="none" stroke-width="1" filter="url(#tex2)" opacity="0.3"/>
</g>
<line x1="422.00" y1="621.50" x2="430.80" y2="630.80" stroke="#000" stroke-width="1.0"/>
<path d="M428 632.3 L 433.7 633.8 L 432.3 628.1 Z" fill="#000" stroke="none" stroke-width="1"/>
<rect x="528.50" y="603.00" width="3.20" height="1.60" fill="#111" stroke="none" stroke-width="1"/>
</g></svg></body></html>
